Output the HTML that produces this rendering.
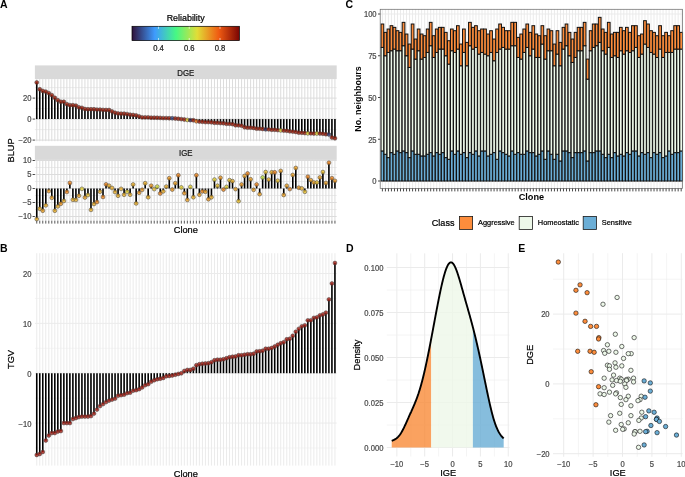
<!DOCTYPE html>
<html><head><meta charset="utf-8"><title>Figure</title>
<style>html,body{margin:0;padding:0;background:#fff;width:685px;height:477px;overflow:hidden}svg{display:block;font-family:"Liberation Sans",sans-serif;will-change:transform}</style>
</head><body>
<svg width="685" height="477" viewBox="0 0 685 477" font-family='"Liberation Sans", sans-serif'><defs><linearGradient id="cb" x1="0" x2="1" y1="0" y2="0"><stop offset="0" stop-color="#30123b"/><stop offset="0.212" stop-color="#3e9bfe"/><stop offset="0.41" stop-color="#46f884"/><stop offset="0.607" stop-color="#e1dd37"/><stop offset="0.807" stop-color="#f05b12"/><stop offset="1.0" stop-color="#7a0403"/></linearGradient></defs>
<rect x="132" y="26.3" width="107.4" height="14.3" fill="url(#cb)" stroke="#000" stroke-width="0.7"/>
<line x1="158.47" x2="158.47" y1="26.7" y2="28.9" stroke="#fff" stroke-width="0.6"/>
<line x1="158.47" x2="158.47" y1="38" y2="40.2" stroke="#fff" stroke-width="0.6"/>
<text font-size="7.62" text-anchor="middle" fill="#1a1a1a" stroke="#1a1a1a" stroke-width="0.22" transform="translate(158.47 50.85) scale(1 1.07)">0.4</text>
<line x1="189.24" x2="189.24" y1="26.7" y2="28.9" stroke="#fff" stroke-width="0.6"/>
<line x1="189.24" x2="189.24" y1="38" y2="40.2" stroke="#fff" stroke-width="0.6"/>
<text font-size="7.62" text-anchor="middle" fill="#1a1a1a" stroke="#1a1a1a" stroke-width="0.22" transform="translate(189.24 50.85) scale(1 1.07)">0.6</text>
<line x1="220.01" x2="220.01" y1="26.7" y2="28.9" stroke="#fff" stroke-width="0.6"/>
<line x1="220.01" x2="220.01" y1="38" y2="40.2" stroke="#fff" stroke-width="0.6"/>
<text font-size="7.62" text-anchor="middle" fill="#1a1a1a" stroke="#1a1a1a" stroke-width="0.22" transform="translate(220.01 50.85) scale(1 1.07)">0.8</text>
<text font-size="8.91" text-anchor="middle" fill="#000" stroke="#000" stroke-width="0.22" transform="translate(185.7 21.15) scale(1 1.07)">Reliability</text>
<rect x="34.9" y="65.4" width="301.8" height="13.7" fill="#d9d9d9"/>
<text font-size="7.83" text-anchor="middle" fill="#1a1a1a" stroke="#1a1a1a" stroke-width="0.22" transform="translate(185.8 75.8) scale(1 1.07)">DGE</text>
<rect x="34.9" y="145.8" width="301.8" height="14.1" fill="#d9d9d9"/>
<text font-size="7.83" text-anchor="middle" fill="#1a1a1a" stroke="#1a1a1a" stroke-width="0.22" transform="translate(185.8 156.4) scale(1 1.07)">IGE</text>
<line x1="34.9" x2="336.7" y1="87.6" y2="87.6" stroke="#dcdcdc" stroke-width="0.55"/>
<line x1="34.9" x2="336.7" y1="108.6" y2="108.6" stroke="#dcdcdc" stroke-width="0.55"/>
<line x1="34.9" x2="336.7" y1="129.6" y2="129.6" stroke="#dcdcdc" stroke-width="0.55"/>
<line x1="34.9" x2="336.7" y1="98.1" y2="98.1" stroke="#dcdcdc" stroke-width="1"/>
<line x1="34.9" x2="336.7" y1="119.1" y2="119.1" stroke="#dcdcdc" stroke-width="1"/>
<line x1="34.9" x2="336.7" y1="140.1" y2="140.1" stroke="#dcdcdc" stroke-width="1"/>
<line x1="36.75" x2="36.75" y1="79.1" y2="141.2" stroke="#dcdcdc" stroke-width="1"/>
<line x1="39.76" x2="39.76" y1="79.1" y2="141.2" stroke="#dcdcdc" stroke-width="1"/>
<line x1="42.77" x2="42.77" y1="79.1" y2="141.2" stroke="#dcdcdc" stroke-width="1"/>
<line x1="45.79" x2="45.79" y1="79.1" y2="141.2" stroke="#dcdcdc" stroke-width="1"/>
<line x1="48.8" x2="48.8" y1="79.1" y2="141.2" stroke="#dcdcdc" stroke-width="1"/>
<line x1="51.81" x2="51.81" y1="79.1" y2="141.2" stroke="#dcdcdc" stroke-width="1"/>
<line x1="54.82" x2="54.82" y1="79.1" y2="141.2" stroke="#dcdcdc" stroke-width="1"/>
<line x1="57.83" x2="57.83" y1="79.1" y2="141.2" stroke="#dcdcdc" stroke-width="1"/>
<line x1="60.85" x2="60.85" y1="79.1" y2="141.2" stroke="#dcdcdc" stroke-width="1"/>
<line x1="63.86" x2="63.86" y1="79.1" y2="141.2" stroke="#dcdcdc" stroke-width="1"/>
<line x1="66.87" x2="66.87" y1="79.1" y2="141.2" stroke="#dcdcdc" stroke-width="1"/>
<line x1="69.88" x2="69.88" y1="79.1" y2="141.2" stroke="#dcdcdc" stroke-width="1"/>
<line x1="72.89" x2="72.89" y1="79.1" y2="141.2" stroke="#dcdcdc" stroke-width="1"/>
<line x1="75.91" x2="75.91" y1="79.1" y2="141.2" stroke="#dcdcdc" stroke-width="1"/>
<line x1="78.92" x2="78.92" y1="79.1" y2="141.2" stroke="#dcdcdc" stroke-width="1"/>
<line x1="81.93" x2="81.93" y1="79.1" y2="141.2" stroke="#dcdcdc" stroke-width="1"/>
<line x1="84.94" x2="84.94" y1="79.1" y2="141.2" stroke="#dcdcdc" stroke-width="1"/>
<line x1="87.95" x2="87.95" y1="79.1" y2="141.2" stroke="#dcdcdc" stroke-width="1"/>
<line x1="90.97" x2="90.97" y1="79.1" y2="141.2" stroke="#dcdcdc" stroke-width="1"/>
<line x1="93.98" x2="93.98" y1="79.1" y2="141.2" stroke="#dcdcdc" stroke-width="1"/>
<line x1="96.99" x2="96.99" y1="79.1" y2="141.2" stroke="#dcdcdc" stroke-width="1"/>
<line x1="100" x2="100" y1="79.1" y2="141.2" stroke="#dcdcdc" stroke-width="1"/>
<line x1="103.01" x2="103.01" y1="79.1" y2="141.2" stroke="#dcdcdc" stroke-width="1"/>
<line x1="106.03" x2="106.03" y1="79.1" y2="141.2" stroke="#dcdcdc" stroke-width="1"/>
<line x1="109.04" x2="109.04" y1="79.1" y2="141.2" stroke="#dcdcdc" stroke-width="1"/>
<line x1="112.05" x2="112.05" y1="79.1" y2="141.2" stroke="#dcdcdc" stroke-width="1"/>
<line x1="115.06" x2="115.06" y1="79.1" y2="141.2" stroke="#dcdcdc" stroke-width="1"/>
<line x1="118.07" x2="118.07" y1="79.1" y2="141.2" stroke="#dcdcdc" stroke-width="1"/>
<line x1="121.09" x2="121.09" y1="79.1" y2="141.2" stroke="#dcdcdc" stroke-width="1"/>
<line x1="124.1" x2="124.1" y1="79.1" y2="141.2" stroke="#dcdcdc" stroke-width="1"/>
<line x1="127.11" x2="127.11" y1="79.1" y2="141.2" stroke="#dcdcdc" stroke-width="1"/>
<line x1="130.12" x2="130.12" y1="79.1" y2="141.2" stroke="#dcdcdc" stroke-width="1"/>
<line x1="133.13" x2="133.13" y1="79.1" y2="141.2" stroke="#dcdcdc" stroke-width="1"/>
<line x1="136.15" x2="136.15" y1="79.1" y2="141.2" stroke="#dcdcdc" stroke-width="1"/>
<line x1="139.16" x2="139.16" y1="79.1" y2="141.2" stroke="#dcdcdc" stroke-width="1"/>
<line x1="142.17" x2="142.17" y1="79.1" y2="141.2" stroke="#dcdcdc" stroke-width="1"/>
<line x1="145.18" x2="145.18" y1="79.1" y2="141.2" stroke="#dcdcdc" stroke-width="1"/>
<line x1="148.19" x2="148.19" y1="79.1" y2="141.2" stroke="#dcdcdc" stroke-width="1"/>
<line x1="151.21" x2="151.21" y1="79.1" y2="141.2" stroke="#dcdcdc" stroke-width="1"/>
<line x1="154.22" x2="154.22" y1="79.1" y2="141.2" stroke="#dcdcdc" stroke-width="1"/>
<line x1="157.23" x2="157.23" y1="79.1" y2="141.2" stroke="#dcdcdc" stroke-width="1"/>
<line x1="160.24" x2="160.24" y1="79.1" y2="141.2" stroke="#dcdcdc" stroke-width="1"/>
<line x1="163.25" x2="163.25" y1="79.1" y2="141.2" stroke="#dcdcdc" stroke-width="1"/>
<line x1="166.27" x2="166.27" y1="79.1" y2="141.2" stroke="#dcdcdc" stroke-width="1"/>
<line x1="169.28" x2="169.28" y1="79.1" y2="141.2" stroke="#dcdcdc" stroke-width="1"/>
<line x1="172.29" x2="172.29" y1="79.1" y2="141.2" stroke="#dcdcdc" stroke-width="1"/>
<line x1="175.3" x2="175.3" y1="79.1" y2="141.2" stroke="#dcdcdc" stroke-width="1"/>
<line x1="178.31" x2="178.31" y1="79.1" y2="141.2" stroke="#dcdcdc" stroke-width="1"/>
<line x1="181.33" x2="181.33" y1="79.1" y2="141.2" stroke="#dcdcdc" stroke-width="1"/>
<line x1="184.34" x2="184.34" y1="79.1" y2="141.2" stroke="#dcdcdc" stroke-width="1"/>
<line x1="187.35" x2="187.35" y1="79.1" y2="141.2" stroke="#dcdcdc" stroke-width="1"/>
<line x1="190.36" x2="190.36" y1="79.1" y2="141.2" stroke="#dcdcdc" stroke-width="1"/>
<line x1="193.37" x2="193.37" y1="79.1" y2="141.2" stroke="#dcdcdc" stroke-width="1"/>
<line x1="196.39" x2="196.39" y1="79.1" y2="141.2" stroke="#dcdcdc" stroke-width="1"/>
<line x1="199.4" x2="199.4" y1="79.1" y2="141.2" stroke="#dcdcdc" stroke-width="1"/>
<line x1="202.41" x2="202.41" y1="79.1" y2="141.2" stroke="#dcdcdc" stroke-width="1"/>
<line x1="205.42" x2="205.42" y1="79.1" y2="141.2" stroke="#dcdcdc" stroke-width="1"/>
<line x1="208.43" x2="208.43" y1="79.1" y2="141.2" stroke="#dcdcdc" stroke-width="1"/>
<line x1="211.45" x2="211.45" y1="79.1" y2="141.2" stroke="#dcdcdc" stroke-width="1"/>
<line x1="214.46" x2="214.46" y1="79.1" y2="141.2" stroke="#dcdcdc" stroke-width="1"/>
<line x1="217.47" x2="217.47" y1="79.1" y2="141.2" stroke="#dcdcdc" stroke-width="1"/>
<line x1="220.48" x2="220.48" y1="79.1" y2="141.2" stroke="#dcdcdc" stroke-width="1"/>
<line x1="223.49" x2="223.49" y1="79.1" y2="141.2" stroke="#dcdcdc" stroke-width="1"/>
<line x1="226.51" x2="226.51" y1="79.1" y2="141.2" stroke="#dcdcdc" stroke-width="1"/>
<line x1="229.52" x2="229.52" y1="79.1" y2="141.2" stroke="#dcdcdc" stroke-width="1"/>
<line x1="232.53" x2="232.53" y1="79.1" y2="141.2" stroke="#dcdcdc" stroke-width="1"/>
<line x1="235.54" x2="235.54" y1="79.1" y2="141.2" stroke="#dcdcdc" stroke-width="1"/>
<line x1="238.55" x2="238.55" y1="79.1" y2="141.2" stroke="#dcdcdc" stroke-width="1"/>
<line x1="241.57" x2="241.57" y1="79.1" y2="141.2" stroke="#dcdcdc" stroke-width="1"/>
<line x1="244.58" x2="244.58" y1="79.1" y2="141.2" stroke="#dcdcdc" stroke-width="1"/>
<line x1="247.59" x2="247.59" y1="79.1" y2="141.2" stroke="#dcdcdc" stroke-width="1"/>
<line x1="250.6" x2="250.6" y1="79.1" y2="141.2" stroke="#dcdcdc" stroke-width="1"/>
<line x1="253.61" x2="253.61" y1="79.1" y2="141.2" stroke="#dcdcdc" stroke-width="1"/>
<line x1="256.63" x2="256.63" y1="79.1" y2="141.2" stroke="#dcdcdc" stroke-width="1"/>
<line x1="259.64" x2="259.64" y1="79.1" y2="141.2" stroke="#dcdcdc" stroke-width="1"/>
<line x1="262.65" x2="262.65" y1="79.1" y2="141.2" stroke="#dcdcdc" stroke-width="1"/>
<line x1="265.66" x2="265.66" y1="79.1" y2="141.2" stroke="#dcdcdc" stroke-width="1"/>
<line x1="268.67" x2="268.67" y1="79.1" y2="141.2" stroke="#dcdcdc" stroke-width="1"/>
<line x1="271.69" x2="271.69" y1="79.1" y2="141.2" stroke="#dcdcdc" stroke-width="1"/>
<line x1="274.7" x2="274.7" y1="79.1" y2="141.2" stroke="#dcdcdc" stroke-width="1"/>
<line x1="277.71" x2="277.71" y1="79.1" y2="141.2" stroke="#dcdcdc" stroke-width="1"/>
<line x1="280.72" x2="280.72" y1="79.1" y2="141.2" stroke="#dcdcdc" stroke-width="1"/>
<line x1="283.73" x2="283.73" y1="79.1" y2="141.2" stroke="#dcdcdc" stroke-width="1"/>
<line x1="286.75" x2="286.75" y1="79.1" y2="141.2" stroke="#dcdcdc" stroke-width="1"/>
<line x1="289.76" x2="289.76" y1="79.1" y2="141.2" stroke="#dcdcdc" stroke-width="1"/>
<line x1="292.77" x2="292.77" y1="79.1" y2="141.2" stroke="#dcdcdc" stroke-width="1"/>
<line x1="295.78" x2="295.78" y1="79.1" y2="141.2" stroke="#dcdcdc" stroke-width="1"/>
<line x1="298.79" x2="298.79" y1="79.1" y2="141.2" stroke="#dcdcdc" stroke-width="1"/>
<line x1="301.81" x2="301.81" y1="79.1" y2="141.2" stroke="#dcdcdc" stroke-width="1"/>
<line x1="304.82" x2="304.82" y1="79.1" y2="141.2" stroke="#dcdcdc" stroke-width="1"/>
<line x1="307.83" x2="307.83" y1="79.1" y2="141.2" stroke="#dcdcdc" stroke-width="1"/>
<line x1="310.84" x2="310.84" y1="79.1" y2="141.2" stroke="#dcdcdc" stroke-width="1"/>
<line x1="313.85" x2="313.85" y1="79.1" y2="141.2" stroke="#dcdcdc" stroke-width="1"/>
<line x1="316.87" x2="316.87" y1="79.1" y2="141.2" stroke="#dcdcdc" stroke-width="1"/>
<line x1="319.88" x2="319.88" y1="79.1" y2="141.2" stroke="#dcdcdc" stroke-width="1"/>
<line x1="322.89" x2="322.89" y1="79.1" y2="141.2" stroke="#dcdcdc" stroke-width="1"/>
<line x1="325.9" x2="325.9" y1="79.1" y2="141.2" stroke="#dcdcdc" stroke-width="1"/>
<line x1="328.91" x2="328.91" y1="79.1" y2="141.2" stroke="#dcdcdc" stroke-width="1"/>
<line x1="331.93" x2="331.93" y1="79.1" y2="141.2" stroke="#dcdcdc" stroke-width="1"/>
<line x1="334.94" x2="334.94" y1="79.1" y2="141.2" stroke="#dcdcdc" stroke-width="1"/>
<line x1="32.6" x2="34.9" y1="98.1" y2="98.1" stroke="#333" stroke-width="0.9"/>
<text font-size="7.62" text-anchor="end" fill="#4d4d4d" stroke="#4d4d4d" stroke-width="0.22" transform="translate(31.4 100.95) scale(1 1.07)">20</text>
<line x1="32.6" x2="34.9" y1="119.1" y2="119.1" stroke="#333" stroke-width="0.9"/>
<text font-size="7.62" text-anchor="end" fill="#4d4d4d" stroke="#4d4d4d" stroke-width="0.22" transform="translate(31.4 121.95) scale(1 1.07)">0</text>
<line x1="32.6" x2="34.9" y1="140.1" y2="140.1" stroke="#333" stroke-width="0.9"/>
<text font-size="7.62" text-anchor="end" fill="#4d4d4d" stroke="#4d4d4d" stroke-width="0.22" transform="translate(31.4 142.95) scale(1 1.07)">−20</text>
<line x1="34.9" x2="336.7" y1="167.5" y2="167.5" stroke="#dcdcdc" stroke-width="0.55"/>
<line x1="34.9" x2="336.7" y1="181.5" y2="181.5" stroke="#dcdcdc" stroke-width="0.55"/>
<line x1="34.9" x2="336.7" y1="195.5" y2="195.5" stroke="#dcdcdc" stroke-width="0.55"/>
<line x1="34.9" x2="336.7" y1="209.5" y2="209.5" stroke="#dcdcdc" stroke-width="0.55"/>
<line x1="34.9" x2="336.7" y1="160.5" y2="160.5" stroke="#dcdcdc" stroke-width="1"/>
<line x1="34.9" x2="336.7" y1="174.5" y2="174.5" stroke="#dcdcdc" stroke-width="1"/>
<line x1="34.9" x2="336.7" y1="188.5" y2="188.5" stroke="#dcdcdc" stroke-width="1"/>
<line x1="34.9" x2="336.7" y1="202.5" y2="202.5" stroke="#dcdcdc" stroke-width="1"/>
<line x1="34.9" x2="336.7" y1="216.5" y2="216.5" stroke="#dcdcdc" stroke-width="1"/>
<line x1="36.75" x2="36.75" y1="159.9" y2="220.6" stroke="#dcdcdc" stroke-width="1"/>
<line x1="39.76" x2="39.76" y1="159.9" y2="220.6" stroke="#dcdcdc" stroke-width="1"/>
<line x1="42.77" x2="42.77" y1="159.9" y2="220.6" stroke="#dcdcdc" stroke-width="1"/>
<line x1="45.79" x2="45.79" y1="159.9" y2="220.6" stroke="#dcdcdc" stroke-width="1"/>
<line x1="48.8" x2="48.8" y1="159.9" y2="220.6" stroke="#dcdcdc" stroke-width="1"/>
<line x1="51.81" x2="51.81" y1="159.9" y2="220.6" stroke="#dcdcdc" stroke-width="1"/>
<line x1="54.82" x2="54.82" y1="159.9" y2="220.6" stroke="#dcdcdc" stroke-width="1"/>
<line x1="57.83" x2="57.83" y1="159.9" y2="220.6" stroke="#dcdcdc" stroke-width="1"/>
<line x1="60.85" x2="60.85" y1="159.9" y2="220.6" stroke="#dcdcdc" stroke-width="1"/>
<line x1="63.86" x2="63.86" y1="159.9" y2="220.6" stroke="#dcdcdc" stroke-width="1"/>
<line x1="66.87" x2="66.87" y1="159.9" y2="220.6" stroke="#dcdcdc" stroke-width="1"/>
<line x1="69.88" x2="69.88" y1="159.9" y2="220.6" stroke="#dcdcdc" stroke-width="1"/>
<line x1="72.89" x2="72.89" y1="159.9" y2="220.6" stroke="#dcdcdc" stroke-width="1"/>
<line x1="75.91" x2="75.91" y1="159.9" y2="220.6" stroke="#dcdcdc" stroke-width="1"/>
<line x1="78.92" x2="78.92" y1="159.9" y2="220.6" stroke="#dcdcdc" stroke-width="1"/>
<line x1="81.93" x2="81.93" y1="159.9" y2="220.6" stroke="#dcdcdc" stroke-width="1"/>
<line x1="84.94" x2="84.94" y1="159.9" y2="220.6" stroke="#dcdcdc" stroke-width="1"/>
<line x1="87.95" x2="87.95" y1="159.9" y2="220.6" stroke="#dcdcdc" stroke-width="1"/>
<line x1="90.97" x2="90.97" y1="159.9" y2="220.6" stroke="#dcdcdc" stroke-width="1"/>
<line x1="93.98" x2="93.98" y1="159.9" y2="220.6" stroke="#dcdcdc" stroke-width="1"/>
<line x1="96.99" x2="96.99" y1="159.9" y2="220.6" stroke="#dcdcdc" stroke-width="1"/>
<line x1="100" x2="100" y1="159.9" y2="220.6" stroke="#dcdcdc" stroke-width="1"/>
<line x1="103.01" x2="103.01" y1="159.9" y2="220.6" stroke="#dcdcdc" stroke-width="1"/>
<line x1="106.03" x2="106.03" y1="159.9" y2="220.6" stroke="#dcdcdc" stroke-width="1"/>
<line x1="109.04" x2="109.04" y1="159.9" y2="220.6" stroke="#dcdcdc" stroke-width="1"/>
<line x1="112.05" x2="112.05" y1="159.9" y2="220.6" stroke="#dcdcdc" stroke-width="1"/>
<line x1="115.06" x2="115.06" y1="159.9" y2="220.6" stroke="#dcdcdc" stroke-width="1"/>
<line x1="118.07" x2="118.07" y1="159.9" y2="220.6" stroke="#dcdcdc" stroke-width="1"/>
<line x1="121.09" x2="121.09" y1="159.9" y2="220.6" stroke="#dcdcdc" stroke-width="1"/>
<line x1="124.1" x2="124.1" y1="159.9" y2="220.6" stroke="#dcdcdc" stroke-width="1"/>
<line x1="127.11" x2="127.11" y1="159.9" y2="220.6" stroke="#dcdcdc" stroke-width="1"/>
<line x1="130.12" x2="130.12" y1="159.9" y2="220.6" stroke="#dcdcdc" stroke-width="1"/>
<line x1="133.13" x2="133.13" y1="159.9" y2="220.6" stroke="#dcdcdc" stroke-width="1"/>
<line x1="136.15" x2="136.15" y1="159.9" y2="220.6" stroke="#dcdcdc" stroke-width="1"/>
<line x1="139.16" x2="139.16" y1="159.9" y2="220.6" stroke="#dcdcdc" stroke-width="1"/>
<line x1="142.17" x2="142.17" y1="159.9" y2="220.6" stroke="#dcdcdc" stroke-width="1"/>
<line x1="145.18" x2="145.18" y1="159.9" y2="220.6" stroke="#dcdcdc" stroke-width="1"/>
<line x1="148.19" x2="148.19" y1="159.9" y2="220.6" stroke="#dcdcdc" stroke-width="1"/>
<line x1="151.21" x2="151.21" y1="159.9" y2="220.6" stroke="#dcdcdc" stroke-width="1"/>
<line x1="154.22" x2="154.22" y1="159.9" y2="220.6" stroke="#dcdcdc" stroke-width="1"/>
<line x1="157.23" x2="157.23" y1="159.9" y2="220.6" stroke="#dcdcdc" stroke-width="1"/>
<line x1="160.24" x2="160.24" y1="159.9" y2="220.6" stroke="#dcdcdc" stroke-width="1"/>
<line x1="163.25" x2="163.25" y1="159.9" y2="220.6" stroke="#dcdcdc" stroke-width="1"/>
<line x1="166.27" x2="166.27" y1="159.9" y2="220.6" stroke="#dcdcdc" stroke-width="1"/>
<line x1="169.28" x2="169.28" y1="159.9" y2="220.6" stroke="#dcdcdc" stroke-width="1"/>
<line x1="172.29" x2="172.29" y1="159.9" y2="220.6" stroke="#dcdcdc" stroke-width="1"/>
<line x1="175.3" x2="175.3" y1="159.9" y2="220.6" stroke="#dcdcdc" stroke-width="1"/>
<line x1="178.31" x2="178.31" y1="159.9" y2="220.6" stroke="#dcdcdc" stroke-width="1"/>
<line x1="181.33" x2="181.33" y1="159.9" y2="220.6" stroke="#dcdcdc" stroke-width="1"/>
<line x1="184.34" x2="184.34" y1="159.9" y2="220.6" stroke="#dcdcdc" stroke-width="1"/>
<line x1="187.35" x2="187.35" y1="159.9" y2="220.6" stroke="#dcdcdc" stroke-width="1"/>
<line x1="190.36" x2="190.36" y1="159.9" y2="220.6" stroke="#dcdcdc" stroke-width="1"/>
<line x1="193.37" x2="193.37" y1="159.9" y2="220.6" stroke="#dcdcdc" stroke-width="1"/>
<line x1="196.39" x2="196.39" y1="159.9" y2="220.6" stroke="#dcdcdc" stroke-width="1"/>
<line x1="199.4" x2="199.4" y1="159.9" y2="220.6" stroke="#dcdcdc" stroke-width="1"/>
<line x1="202.41" x2="202.41" y1="159.9" y2="220.6" stroke="#dcdcdc" stroke-width="1"/>
<line x1="205.42" x2="205.42" y1="159.9" y2="220.6" stroke="#dcdcdc" stroke-width="1"/>
<line x1="208.43" x2="208.43" y1="159.9" y2="220.6" stroke="#dcdcdc" stroke-width="1"/>
<line x1="211.45" x2="211.45" y1="159.9" y2="220.6" stroke="#dcdcdc" stroke-width="1"/>
<line x1="214.46" x2="214.46" y1="159.9" y2="220.6" stroke="#dcdcdc" stroke-width="1"/>
<line x1="217.47" x2="217.47" y1="159.9" y2="220.6" stroke="#dcdcdc" stroke-width="1"/>
<line x1="220.48" x2="220.48" y1="159.9" y2="220.6" stroke="#dcdcdc" stroke-width="1"/>
<line x1="223.49" x2="223.49" y1="159.9" y2="220.6" stroke="#dcdcdc" stroke-width="1"/>
<line x1="226.51" x2="226.51" y1="159.9" y2="220.6" stroke="#dcdcdc" stroke-width="1"/>
<line x1="229.52" x2="229.52" y1="159.9" y2="220.6" stroke="#dcdcdc" stroke-width="1"/>
<line x1="232.53" x2="232.53" y1="159.9" y2="220.6" stroke="#dcdcdc" stroke-width="1"/>
<line x1="235.54" x2="235.54" y1="159.9" y2="220.6" stroke="#dcdcdc" stroke-width="1"/>
<line x1="238.55" x2="238.55" y1="159.9" y2="220.6" stroke="#dcdcdc" stroke-width="1"/>
<line x1="241.57" x2="241.57" y1="159.9" y2="220.6" stroke="#dcdcdc" stroke-width="1"/>
<line x1="244.58" x2="244.58" y1="159.9" y2="220.6" stroke="#dcdcdc" stroke-width="1"/>
<line x1="247.59" x2="247.59" y1="159.9" y2="220.6" stroke="#dcdcdc" stroke-width="1"/>
<line x1="250.6" x2="250.6" y1="159.9" y2="220.6" stroke="#dcdcdc" stroke-width="1"/>
<line x1="253.61" x2="253.61" y1="159.9" y2="220.6" stroke="#dcdcdc" stroke-width="1"/>
<line x1="256.63" x2="256.63" y1="159.9" y2="220.6" stroke="#dcdcdc" stroke-width="1"/>
<line x1="259.64" x2="259.64" y1="159.9" y2="220.6" stroke="#dcdcdc" stroke-width="1"/>
<line x1="262.65" x2="262.65" y1="159.9" y2="220.6" stroke="#dcdcdc" stroke-width="1"/>
<line x1="265.66" x2="265.66" y1="159.9" y2="220.6" stroke="#dcdcdc" stroke-width="1"/>
<line x1="268.67" x2="268.67" y1="159.9" y2="220.6" stroke="#dcdcdc" stroke-width="1"/>
<line x1="271.69" x2="271.69" y1="159.9" y2="220.6" stroke="#dcdcdc" stroke-width="1"/>
<line x1="274.7" x2="274.7" y1="159.9" y2="220.6" stroke="#dcdcdc" stroke-width="1"/>
<line x1="277.71" x2="277.71" y1="159.9" y2="220.6" stroke="#dcdcdc" stroke-width="1"/>
<line x1="280.72" x2="280.72" y1="159.9" y2="220.6" stroke="#dcdcdc" stroke-width="1"/>
<line x1="283.73" x2="283.73" y1="159.9" y2="220.6" stroke="#dcdcdc" stroke-width="1"/>
<line x1="286.75" x2="286.75" y1="159.9" y2="220.6" stroke="#dcdcdc" stroke-width="1"/>
<line x1="289.76" x2="289.76" y1="159.9" y2="220.6" stroke="#dcdcdc" stroke-width="1"/>
<line x1="292.77" x2="292.77" y1="159.9" y2="220.6" stroke="#dcdcdc" stroke-width="1"/>
<line x1="295.78" x2="295.78" y1="159.9" y2="220.6" stroke="#dcdcdc" stroke-width="1"/>
<line x1="298.79" x2="298.79" y1="159.9" y2="220.6" stroke="#dcdcdc" stroke-width="1"/>
<line x1="301.81" x2="301.81" y1="159.9" y2="220.6" stroke="#dcdcdc" stroke-width="1"/>
<line x1="304.82" x2="304.82" y1="159.9" y2="220.6" stroke="#dcdcdc" stroke-width="1"/>
<line x1="307.83" x2="307.83" y1="159.9" y2="220.6" stroke="#dcdcdc" stroke-width="1"/>
<line x1="310.84" x2="310.84" y1="159.9" y2="220.6" stroke="#dcdcdc" stroke-width="1"/>
<line x1="313.85" x2="313.85" y1="159.9" y2="220.6" stroke="#dcdcdc" stroke-width="1"/>
<line x1="316.87" x2="316.87" y1="159.9" y2="220.6" stroke="#dcdcdc" stroke-width="1"/>
<line x1="319.88" x2="319.88" y1="159.9" y2="220.6" stroke="#dcdcdc" stroke-width="1"/>
<line x1="322.89" x2="322.89" y1="159.9" y2="220.6" stroke="#dcdcdc" stroke-width="1"/>
<line x1="325.9" x2="325.9" y1="159.9" y2="220.6" stroke="#dcdcdc" stroke-width="1"/>
<line x1="328.91" x2="328.91" y1="159.9" y2="220.6" stroke="#dcdcdc" stroke-width="1"/>
<line x1="331.93" x2="331.93" y1="159.9" y2="220.6" stroke="#dcdcdc" stroke-width="1"/>
<line x1="334.94" x2="334.94" y1="159.9" y2="220.6" stroke="#dcdcdc" stroke-width="1"/>
<line x1="32.6" x2="34.9" y1="160.5" y2="160.5" stroke="#333" stroke-width="0.9"/>
<text font-size="7.62" text-anchor="end" fill="#4d4d4d" stroke="#4d4d4d" stroke-width="0.22" transform="translate(31.4 163.35) scale(1 1.07)">10</text>
<line x1="32.6" x2="34.9" y1="174.5" y2="174.5" stroke="#333" stroke-width="0.9"/>
<text font-size="7.62" text-anchor="end" fill="#4d4d4d" stroke="#4d4d4d" stroke-width="0.22" transform="translate(31.4 177.35) scale(1 1.07)">5</text>
<line x1="32.6" x2="34.9" y1="188.5" y2="188.5" stroke="#333" stroke-width="0.9"/>
<text font-size="7.62" text-anchor="end" fill="#4d4d4d" stroke="#4d4d4d" stroke-width="0.22" transform="translate(31.4 191.35) scale(1 1.07)">0</text>
<line x1="32.6" x2="34.9" y1="202.5" y2="202.5" stroke="#333" stroke-width="0.9"/>
<text font-size="7.62" text-anchor="end" fill="#4d4d4d" stroke="#4d4d4d" stroke-width="0.22" transform="translate(31.4 205.35) scale(1 1.07)">−5</text>
<line x1="32.6" x2="34.9" y1="216.5" y2="216.5" stroke="#333" stroke-width="0.9"/>
<text font-size="7.62" text-anchor="end" fill="#4d4d4d" stroke="#4d4d4d" stroke-width="0.22" transform="translate(31.4 219.35) scale(1 1.07)">−10</text>
<line x1="36.75" x2="36.75" y1="119.1" y2="82.43" stroke="#000" stroke-width="1.6"/>
<line x1="39.76" x2="39.76" y1="119.1" y2="89.3" stroke="#000" stroke-width="1.6"/>
<line x1="42.77" x2="42.77" y1="119.1" y2="90.94" stroke="#000" stroke-width="1.6"/>
<line x1="45.79" x2="45.79" y1="119.1" y2="91.65" stroke="#000" stroke-width="1.6"/>
<line x1="48.8" x2="48.8" y1="119.1" y2="93.09" stroke="#000" stroke-width="1.6"/>
<line x1="51.81" x2="51.81" y1="119.1" y2="95.14" stroke="#000" stroke-width="1.6"/>
<line x1="54.82" x2="54.82" y1="119.1" y2="97.81" stroke="#000" stroke-width="1.6"/>
<line x1="57.83" x2="57.83" y1="119.1" y2="100.26" stroke="#000" stroke-width="1.6"/>
<line x1="60.85" x2="60.85" y1="119.1" y2="101.8" stroke="#000" stroke-width="1.6"/>
<line x1="63.86" x2="63.86" y1="119.1" y2="101.8" stroke="#000" stroke-width="1.6"/>
<line x1="66.87" x2="66.87" y1="119.1" y2="104.16" stroke="#000" stroke-width="1.6"/>
<line x1="69.88" x2="69.88" y1="119.1" y2="105.18" stroke="#000" stroke-width="1.6"/>
<line x1="72.89" x2="72.89" y1="119.1" y2="105.18" stroke="#000" stroke-width="1.6"/>
<line x1="75.91" x2="75.91" y1="119.1" y2="105.59" stroke="#000" stroke-width="1.6"/>
<line x1="78.92" x2="78.92" y1="119.1" y2="107.33" stroke="#000" stroke-width="1.6"/>
<line x1="81.93" x2="81.93" y1="119.1" y2="107.84" stroke="#000" stroke-width="1.6"/>
<line x1="84.94" x2="84.94" y1="119.1" y2="109.07" stroke="#000" stroke-width="1.6"/>
<line x1="87.95" x2="87.95" y1="119.1" y2="109.28" stroke="#000" stroke-width="1.6"/>
<line x1="90.97" x2="90.97" y1="119.1" y2="109.28" stroke="#000" stroke-width="1.6"/>
<line x1="93.98" x2="93.98" y1="119.1" y2="109.28" stroke="#000" stroke-width="1.6"/>
<line x1="96.99" x2="96.99" y1="119.1" y2="109.59" stroke="#000" stroke-width="1.6"/>
<line x1="100" x2="100" y1="119.1" y2="109.59" stroke="#000" stroke-width="1.6"/>
<line x1="103.01" x2="103.01" y1="119.1" y2="109.89" stroke="#000" stroke-width="1.6"/>
<line x1="106.03" x2="106.03" y1="119.1" y2="110" stroke="#000" stroke-width="1.6"/>
<line x1="109.04" x2="109.04" y1="119.1" y2="110" stroke="#000" stroke-width="1.6"/>
<line x1="112.05" x2="112.05" y1="119.1" y2="111.43" stroke="#000" stroke-width="1.6"/>
<line x1="115.06" x2="115.06" y1="119.1" y2="112.77" stroke="#000" stroke-width="1.6"/>
<line x1="118.07" x2="118.07" y1="119.1" y2="113.48" stroke="#000" stroke-width="1.6"/>
<line x1="121.09" x2="121.09" y1="119.1" y2="113.68" stroke="#000" stroke-width="1.6"/>
<line x1="124.1" x2="124.1" y1="119.1" y2="113.68" stroke="#000" stroke-width="1.6"/>
<line x1="127.11" x2="127.11" y1="119.1" y2="114.09" stroke="#000" stroke-width="1.6"/>
<line x1="130.12" x2="130.12" y1="119.1" y2="114.71" stroke="#000" stroke-width="1.6"/>
<line x1="133.13" x2="133.13" y1="119.1" y2="115.02" stroke="#000" stroke-width="1.6"/>
<line x1="136.15" x2="136.15" y1="119.1" y2="115.42" stroke="#000" stroke-width="1.6"/>
<line x1="139.16" x2="139.16" y1="119.1" y2="116.45" stroke="#000" stroke-width="1.6"/>
<line x1="142.17" x2="142.17" y1="119.1" y2="117.38" stroke="#000" stroke-width="1.6"/>
<line x1="145.18" x2="145.18" y1="119.1" y2="117.38" stroke="#000" stroke-width="1.6"/>
<line x1="148.19" x2="148.19" y1="119.1" y2="117.38" stroke="#000" stroke-width="1.6"/>
<line x1="151.21" x2="151.21" y1="119.1" y2="117.68" stroke="#000" stroke-width="1.6"/>
<line x1="154.22" x2="154.22" y1="119.1" y2="117.68" stroke="#000" stroke-width="1.6"/>
<line x1="157.23" x2="157.23" y1="119.1" y2="117.79" stroke="#000" stroke-width="1.6"/>
<line x1="160.24" x2="160.24" y1="119.1" y2="117.89" stroke="#000" stroke-width="1.6"/>
<line x1="163.25" x2="163.25" y1="119.1" y2="118.09" stroke="#000" stroke-width="1.6"/>
<line x1="166.27" x2="166.27" y1="119.1" y2="118.09" stroke="#000" stroke-width="1.6"/>
<line x1="169.28" x2="169.28" y1="119.1" y2="118.2" stroke="#000" stroke-width="1.6"/>
<line x1="172.29" x2="172.29" y1="119.1" y2="118.3" stroke="#000" stroke-width="1.6"/>
<line x1="175.3" x2="175.3" y1="119.1" y2="118.5" stroke="#000" stroke-width="1.6"/>
<line x1="178.31" x2="178.31" y1="119.1" y2="118.81" stroke="#000" stroke-width="1.6"/>
<line x1="181.33" x2="181.33" y1="119.1" y2="119.12" stroke="#000" stroke-width="1.6"/>
<line x1="184.34" x2="184.34" y1="119.1" y2="119.53" stroke="#000" stroke-width="1.6"/>
<line x1="187.35" x2="187.35" y1="119.1" y2="119.94" stroke="#000" stroke-width="1.6"/>
<line x1="190.36" x2="190.36" y1="119.1" y2="120.14" stroke="#000" stroke-width="1.6"/>
<line x1="193.37" x2="193.37" y1="119.1" y2="120.24" stroke="#000" stroke-width="1.6"/>
<line x1="196.39" x2="196.39" y1="119.1" y2="121.27" stroke="#000" stroke-width="1.6"/>
<line x1="199.4" x2="199.4" y1="119.1" y2="121.58" stroke="#000" stroke-width="1.6"/>
<line x1="202.41" x2="202.41" y1="119.1" y2="121.78" stroke="#000" stroke-width="1.6"/>
<line x1="205.42" x2="205.42" y1="119.1" y2="122.09" stroke="#000" stroke-width="1.6"/>
<line x1="208.43" x2="208.43" y1="119.1" y2="122.09" stroke="#000" stroke-width="1.6"/>
<line x1="211.45" x2="211.45" y1="119.1" y2="122.29" stroke="#000" stroke-width="1.6"/>
<line x1="214.46" x2="214.46" y1="119.1" y2="122.81" stroke="#000" stroke-width="1.6"/>
<line x1="217.47" x2="217.47" y1="119.1" y2="122.81" stroke="#000" stroke-width="1.6"/>
<line x1="220.48" x2="220.48" y1="119.1" y2="123.11" stroke="#000" stroke-width="1.6"/>
<line x1="223.49" x2="223.49" y1="119.1" y2="123.22" stroke="#000" stroke-width="1.6"/>
<line x1="226.51" x2="226.51" y1="119.1" y2="123.84" stroke="#000" stroke-width="1.6"/>
<line x1="229.52" x2="229.52" y1="119.1" y2="123.84" stroke="#000" stroke-width="1.6"/>
<line x1="232.53" x2="232.53" y1="119.1" y2="124.14" stroke="#000" stroke-width="1.6"/>
<line x1="235.54" x2="235.54" y1="119.1" y2="125.26" stroke="#000" stroke-width="1.6"/>
<line x1="238.55" x2="238.55" y1="119.1" y2="125.37" stroke="#000" stroke-width="1.6"/>
<line x1="241.57" x2="241.57" y1="119.1" y2="125.67" stroke="#000" stroke-width="1.6"/>
<line x1="244.58" x2="244.58" y1="119.1" y2="127.22" stroke="#000" stroke-width="1.6"/>
<line x1="247.59" x2="247.59" y1="119.1" y2="127.63" stroke="#000" stroke-width="1.6"/>
<line x1="250.6" x2="250.6" y1="119.1" y2="127.63" stroke="#000" stroke-width="1.6"/>
<line x1="253.61" x2="253.61" y1="119.1" y2="127.93" stroke="#000" stroke-width="1.6"/>
<line x1="256.63" x2="256.63" y1="119.1" y2="128.64" stroke="#000" stroke-width="1.6"/>
<line x1="259.64" x2="259.64" y1="119.1" y2="128.64" stroke="#000" stroke-width="1.6"/>
<line x1="262.65" x2="262.65" y1="119.1" y2="128.96" stroke="#000" stroke-width="1.6"/>
<line x1="265.66" x2="265.66" y1="119.1" y2="129.37" stroke="#000" stroke-width="1.6"/>
<line x1="268.67" x2="268.67" y1="119.1" y2="129.37" stroke="#000" stroke-width="1.6"/>
<line x1="271.69" x2="271.69" y1="119.1" y2="129.78" stroke="#000" stroke-width="1.6"/>
<line x1="274.7" x2="274.7" y1="119.1" y2="129.78" stroke="#000" stroke-width="1.6"/>
<line x1="277.71" x2="277.71" y1="119.1" y2="130.08" stroke="#000" stroke-width="1.6"/>
<line x1="280.72" x2="280.72" y1="119.1" y2="130.39" stroke="#000" stroke-width="1.6"/>
<line x1="283.73" x2="283.73" y1="119.1" y2="130.6" stroke="#000" stroke-width="1.6"/>
<line x1="286.75" x2="286.75" y1="119.1" y2="130.8" stroke="#000" stroke-width="1.6"/>
<line x1="289.76" x2="289.76" y1="119.1" y2="131.31" stroke="#000" stroke-width="1.6"/>
<line x1="292.77" x2="292.77" y1="119.1" y2="131.62" stroke="#000" stroke-width="1.6"/>
<line x1="295.78" x2="295.78" y1="119.1" y2="131.93" stroke="#000" stroke-width="1.6"/>
<line x1="298.79" x2="298.79" y1="119.1" y2="132.64" stroke="#000" stroke-width="1.6"/>
<line x1="301.81" x2="301.81" y1="119.1" y2="132.75" stroke="#000" stroke-width="1.6"/>
<line x1="304.82" x2="304.82" y1="119.1" y2="133.05" stroke="#000" stroke-width="1.6"/>
<line x1="307.83" x2="307.83" y1="119.1" y2="133.36" stroke="#000" stroke-width="1.6"/>
<line x1="310.84" x2="310.84" y1="119.1" y2="133.36" stroke="#000" stroke-width="1.6"/>
<line x1="313.85" x2="313.85" y1="119.1" y2="133.46" stroke="#000" stroke-width="1.6"/>
<line x1="316.87" x2="316.87" y1="119.1" y2="133.46" stroke="#000" stroke-width="1.6"/>
<line x1="319.88" x2="319.88" y1="119.1" y2="133.46" stroke="#000" stroke-width="1.6"/>
<line x1="322.89" x2="322.89" y1="119.1" y2="133.77" stroke="#000" stroke-width="1.6"/>
<line x1="325.9" x2="325.9" y1="119.1" y2="134.18" stroke="#000" stroke-width="1.6"/>
<line x1="328.91" x2="328.91" y1="119.1" y2="134.49" stroke="#000" stroke-width="1.6"/>
<line x1="331.93" x2="331.93" y1="119.1" y2="137.46" stroke="#000" stroke-width="1.6"/>
<line x1="334.94" x2="334.94" y1="119.1" y2="138.18" stroke="#000" stroke-width="1.6"/>
<circle cx="36.75" cy="82.43" r="1.95" fill="#981a07" fill-opacity="0.8" stroke="#404040" stroke-width="0.5"/>
<circle cx="39.76" cy="89.3" r="1.95" fill="#981a07" fill-opacity="0.8" stroke="#404040" stroke-width="0.5"/>
<circle cx="42.77" cy="90.94" r="1.95" fill="#981a07" fill-opacity="0.8" stroke="#404040" stroke-width="0.5"/>
<circle cx="45.79" cy="91.65" r="1.95" fill="#981a07" fill-opacity="0.8" stroke="#404040" stroke-width="0.5"/>
<circle cx="48.8" cy="93.09" r="1.95" fill="#981a07" fill-opacity="0.8" stroke="#404040" stroke-width="0.5"/>
<circle cx="51.81" cy="95.14" r="1.95" fill="#981a07" fill-opacity="0.8" stroke="#404040" stroke-width="0.5"/>
<circle cx="54.82" cy="97.81" r="1.95" fill="#981a07" fill-opacity="0.8" stroke="#404040" stroke-width="0.5"/>
<circle cx="57.83" cy="100.26" r="1.95" fill="#981a07" fill-opacity="0.8" stroke="#404040" stroke-width="0.5"/>
<circle cx="60.85" cy="101.8" r="1.95" fill="#981a07" fill-opacity="0.8" stroke="#404040" stroke-width="0.5"/>
<circle cx="63.86" cy="101.8" r="1.95" fill="#981a07" fill-opacity="0.8" stroke="#404040" stroke-width="0.5"/>
<circle cx="66.87" cy="104.16" r="1.95" fill="#981a07" fill-opacity="0.8" stroke="#404040" stroke-width="0.5"/>
<circle cx="69.88" cy="105.18" r="1.95" fill="#981a07" fill-opacity="0.8" stroke="#404040" stroke-width="0.5"/>
<circle cx="72.89" cy="105.18" r="1.95" fill="#981a07" fill-opacity="0.8" stroke="#404040" stroke-width="0.5"/>
<circle cx="75.91" cy="105.59" r="1.95" fill="#981a07" fill-opacity="0.8" stroke="#404040" stroke-width="0.5"/>
<circle cx="78.92" cy="107.33" r="1.95" fill="#981a07" fill-opacity="0.8" stroke="#404040" stroke-width="0.5"/>
<circle cx="81.93" cy="107.84" r="1.95" fill="#981a07" fill-opacity="0.8" stroke="#404040" stroke-width="0.5"/>
<circle cx="84.94" cy="109.07" r="1.95" fill="#981a07" fill-opacity="0.8" stroke="#404040" stroke-width="0.5"/>
<circle cx="87.95" cy="109.28" r="1.95" fill="#981a07" fill-opacity="0.8" stroke="#404040" stroke-width="0.5"/>
<circle cx="90.97" cy="109.28" r="1.95" fill="#981a07" fill-opacity="0.8" stroke="#404040" stroke-width="0.5"/>
<circle cx="93.98" cy="109.28" r="1.95" fill="#981a07" fill-opacity="0.8" stroke="#404040" stroke-width="0.5"/>
<circle cx="96.99" cy="109.59" r="1.95" fill="#981a07" fill-opacity="0.8" stroke="#404040" stroke-width="0.5"/>
<circle cx="100" cy="109.59" r="1.95" fill="#981a07" fill-opacity="0.8" stroke="#404040" stroke-width="0.5"/>
<circle cx="103.01" cy="109.89" r="1.95" fill="#981a07" fill-opacity="0.8" stroke="#404040" stroke-width="0.5"/>
<circle cx="106.03" cy="110" r="1.95" fill="#981a07" fill-opacity="0.8" stroke="#404040" stroke-width="0.5"/>
<circle cx="109.04" cy="110" r="1.95" fill="#981a07" fill-opacity="0.8" stroke="#404040" stroke-width="0.5"/>
<circle cx="112.05" cy="111.43" r="1.95" fill="#981a07" fill-opacity="0.8" stroke="#404040" stroke-width="0.5"/>
<circle cx="115.06" cy="112.77" r="1.95" fill="#981a07" fill-opacity="0.8" stroke="#404040" stroke-width="0.5"/>
<circle cx="118.07" cy="113.48" r="1.95" fill="#981a07" fill-opacity="0.8" stroke="#404040" stroke-width="0.5"/>
<circle cx="121.09" cy="113.68" r="1.95" fill="#981a07" fill-opacity="0.8" stroke="#404040" stroke-width="0.5"/>
<circle cx="124.1" cy="113.68" r="1.95" fill="#981a07" fill-opacity="0.8" stroke="#404040" stroke-width="0.5"/>
<circle cx="127.11" cy="114.09" r="1.95" fill="#981a07" fill-opacity="0.8" stroke="#404040" stroke-width="0.5"/>
<circle cx="130.12" cy="114.71" r="1.95" fill="#981a07" fill-opacity="0.8" stroke="#404040" stroke-width="0.5"/>
<circle cx="133.13" cy="115.02" r="1.95" fill="#981a07" fill-opacity="0.8" stroke="#404040" stroke-width="0.5"/>
<circle cx="136.15" cy="115.42" r="1.95" fill="#981a07" fill-opacity="0.8" stroke="#404040" stroke-width="0.5"/>
<circle cx="139.16" cy="116.45" r="1.95" fill="#981a07" fill-opacity="0.8" stroke="#404040" stroke-width="0.5"/>
<circle cx="142.17" cy="117.38" r="1.95" fill="#981a07" fill-opacity="0.8" stroke="#404040" stroke-width="0.5"/>
<circle cx="145.18" cy="117.38" r="1.95" fill="#981a07" fill-opacity="0.8" stroke="#404040" stroke-width="0.5"/>
<circle cx="148.19" cy="117.38" r="1.95" fill="#981a07" fill-opacity="0.8" stroke="#404040" stroke-width="0.5"/>
<circle cx="151.21" cy="117.68" r="1.95" fill="#981a07" fill-opacity="0.8" stroke="#404040" stroke-width="0.5"/>
<circle cx="154.22" cy="117.68" r="1.95" fill="#981a07" fill-opacity="0.8" stroke="#404040" stroke-width="0.5"/>
<circle cx="157.23" cy="117.79" r="1.95" fill="#981a07" fill-opacity="0.8" stroke="#404040" stroke-width="0.5"/>
<circle cx="160.24" cy="117.89" r="1.95" fill="#981a07" fill-opacity="0.8" stroke="#404040" stroke-width="0.5"/>
<circle cx="163.25" cy="118.09" r="1.95" fill="#981a07" fill-opacity="0.8" stroke="#404040" stroke-width="0.5"/>
<circle cx="166.27" cy="118.09" r="1.95" fill="#981a07" fill-opacity="0.8" stroke="#404040" stroke-width="0.5"/>
<circle cx="169.28" cy="118.2" r="1.95" fill="#981a07" fill-opacity="0.8" stroke="#404040" stroke-width="0.5"/>
<circle cx="172.29" cy="118.3" r="1.95" fill="#35427f" fill-opacity="0.8" stroke="#404040" stroke-width="0.5"/>
<circle cx="175.3" cy="118.5" r="1.95" fill="#981a07" fill-opacity="0.8" stroke="#404040" stroke-width="0.5"/>
<circle cx="178.31" cy="118.81" r="1.95" fill="#981a07" fill-opacity="0.8" stroke="#404040" stroke-width="0.5"/>
<circle cx="181.33" cy="119.12" r="1.95" fill="#981a07" fill-opacity="0.8" stroke="#404040" stroke-width="0.5"/>
<circle cx="184.34" cy="119.53" r="1.95" fill="#981a07" fill-opacity="0.8" stroke="#404040" stroke-width="0.5"/>
<circle cx="187.35" cy="119.94" r="1.95" fill="#e3ca31" fill-opacity="0.8" stroke="#404040" stroke-width="0.5"/>
<circle cx="190.36" cy="120.14" r="1.95" fill="#31204e" fill-opacity="0.8" stroke="#404040" stroke-width="0.5"/>
<circle cx="193.37" cy="120.24" r="1.95" fill="#981a07" fill-opacity="0.8" stroke="#404040" stroke-width="0.5"/>
<circle cx="196.39" cy="121.27" r="1.95" fill="#ed7519" fill-opacity="0.8" stroke="#404040" stroke-width="0.5"/>
<circle cx="199.4" cy="121.58" r="1.95" fill="#981a07" fill-opacity="0.8" stroke="#404040" stroke-width="0.5"/>
<circle cx="202.41" cy="121.78" r="1.95" fill="#981a07" fill-opacity="0.8" stroke="#404040" stroke-width="0.5"/>
<circle cx="205.42" cy="122.09" r="1.95" fill="#981a07" fill-opacity="0.8" stroke="#404040" stroke-width="0.5"/>
<circle cx="208.43" cy="122.09" r="1.95" fill="#981a07" fill-opacity="0.8" stroke="#404040" stroke-width="0.5"/>
<circle cx="211.45" cy="122.29" r="1.95" fill="#981a07" fill-opacity="0.8" stroke="#404040" stroke-width="0.5"/>
<circle cx="214.46" cy="122.81" r="1.95" fill="#981a07" fill-opacity="0.8" stroke="#404040" stroke-width="0.5"/>
<circle cx="217.47" cy="122.81" r="1.95" fill="#981a07" fill-opacity="0.8" stroke="#404040" stroke-width="0.5"/>
<circle cx="220.48" cy="123.11" r="1.95" fill="#981a07" fill-opacity="0.8" stroke="#404040" stroke-width="0.5"/>
<circle cx="223.49" cy="123.22" r="1.95" fill="#981a07" fill-opacity="0.8" stroke="#404040" stroke-width="0.5"/>
<circle cx="226.51" cy="123.84" r="1.95" fill="#981a07" fill-opacity="0.8" stroke="#404040" stroke-width="0.5"/>
<circle cx="229.52" cy="123.84" r="1.95" fill="#981a07" fill-opacity="0.8" stroke="#404040" stroke-width="0.5"/>
<circle cx="232.53" cy="124.14" r="1.95" fill="#981a07" fill-opacity="0.8" stroke="#404040" stroke-width="0.5"/>
<circle cx="235.54" cy="125.26" r="1.95" fill="#981a07" fill-opacity="0.8" stroke="#404040" stroke-width="0.5"/>
<circle cx="238.55" cy="125.37" r="1.95" fill="#981a07" fill-opacity="0.8" stroke="#404040" stroke-width="0.5"/>
<circle cx="241.57" cy="125.67" r="1.95" fill="#981a07" fill-opacity="0.8" stroke="#404040" stroke-width="0.5"/>
<circle cx="244.58" cy="127.22" r="1.95" fill="#981a07" fill-opacity="0.8" stroke="#404040" stroke-width="0.5"/>
<circle cx="247.59" cy="127.63" r="1.95" fill="#981a07" fill-opacity="0.8" stroke="#404040" stroke-width="0.5"/>
<circle cx="250.6" cy="127.63" r="1.95" fill="#981a07" fill-opacity="0.8" stroke="#404040" stroke-width="0.5"/>
<circle cx="253.61" cy="127.93" r="1.95" fill="#981a07" fill-opacity="0.8" stroke="#404040" stroke-width="0.5"/>
<circle cx="256.63" cy="128.64" r="1.95" fill="#981a07" fill-opacity="0.8" stroke="#404040" stroke-width="0.5"/>
<circle cx="259.64" cy="128.64" r="1.95" fill="#981a07" fill-opacity="0.8" stroke="#404040" stroke-width="0.5"/>
<circle cx="262.65" cy="128.96" r="1.95" fill="#981a07" fill-opacity="0.8" stroke="#404040" stroke-width="0.5"/>
<circle cx="265.66" cy="129.37" r="1.95" fill="#322758" fill-opacity="0.8" stroke="#404040" stroke-width="0.5"/>
<circle cx="268.67" cy="129.37" r="1.95" fill="#981a07" fill-opacity="0.8" stroke="#404040" stroke-width="0.5"/>
<circle cx="271.69" cy="129.78" r="1.95" fill="#981a07" fill-opacity="0.8" stroke="#404040" stroke-width="0.5"/>
<circle cx="274.7" cy="129.78" r="1.95" fill="#981a07" fill-opacity="0.8" stroke="#404040" stroke-width="0.5"/>
<circle cx="277.71" cy="130.08" r="1.95" fill="#981a07" fill-opacity="0.8" stroke="#404040" stroke-width="0.5"/>
<circle cx="280.72" cy="130.39" r="1.95" fill="#e2d033" fill-opacity="0.8" stroke="#404040" stroke-width="0.5"/>
<circle cx="283.73" cy="130.6" r="1.95" fill="#981a07" fill-opacity="0.8" stroke="#404040" stroke-width="0.5"/>
<circle cx="286.75" cy="130.8" r="1.95" fill="#981a07" fill-opacity="0.8" stroke="#404040" stroke-width="0.5"/>
<circle cx="289.76" cy="131.31" r="1.95" fill="#981a07" fill-opacity="0.8" stroke="#404040" stroke-width="0.5"/>
<circle cx="292.77" cy="131.62" r="1.95" fill="#981a07" fill-opacity="0.8" stroke="#404040" stroke-width="0.5"/>
<circle cx="295.78" cy="131.93" r="1.95" fill="#981a07" fill-opacity="0.8" stroke="#404040" stroke-width="0.5"/>
<circle cx="298.79" cy="132.64" r="1.95" fill="#981a07" fill-opacity="0.8" stroke="#404040" stroke-width="0.5"/>
<circle cx="301.81" cy="132.75" r="1.95" fill="#981a07" fill-opacity="0.8" stroke="#404040" stroke-width="0.5"/>
<circle cx="304.82" cy="133.05" r="1.95" fill="#981a07" fill-opacity="0.8" stroke="#404040" stroke-width="0.5"/>
<circle cx="307.83" cy="133.36" r="1.95" fill="#e2d033" fill-opacity="0.8" stroke="#404040" stroke-width="0.5"/>
<circle cx="310.84" cy="133.36" r="1.95" fill="#981a07" fill-opacity="0.8" stroke="#404040" stroke-width="0.5"/>
<circle cx="313.85" cy="133.46" r="1.95" fill="#981a07" fill-opacity="0.8" stroke="#404040" stroke-width="0.5"/>
<circle cx="316.87" cy="133.46" r="1.95" fill="#e2d033" fill-opacity="0.8" stroke="#404040" stroke-width="0.5"/>
<circle cx="319.88" cy="133.46" r="1.95" fill="#981a07" fill-opacity="0.8" stroke="#404040" stroke-width="0.5"/>
<circle cx="322.89" cy="133.77" r="1.95" fill="#981a07" fill-opacity="0.8" stroke="#404040" stroke-width="0.5"/>
<circle cx="325.9" cy="134.18" r="1.95" fill="#981a07" fill-opacity="0.8" stroke="#404040" stroke-width="0.5"/>
<circle cx="328.91" cy="134.49" r="1.95" fill="#34346c" fill-opacity="0.8" stroke="#404040" stroke-width="0.5"/>
<circle cx="331.93" cy="137.46" r="1.95" fill="#981a07" fill-opacity="0.8" stroke="#404040" stroke-width="0.5"/>
<circle cx="334.94" cy="138.18" r="1.95" fill="#981a07" fill-opacity="0.8" stroke="#404040" stroke-width="0.5"/>
<line x1="36.75" x2="36.75" y1="188.5" y2="219.08" stroke="#000" stroke-width="1.6"/>
<line x1="39.76" x2="39.76" y1="188.5" y2="208.72" stroke="#000" stroke-width="1.6"/>
<line x1="42.77" x2="42.77" y1="188.5" y2="210.68" stroke="#000" stroke-width="1.6"/>
<line x1="45.79" x2="45.79" y1="188.5" y2="205.36" stroke="#000" stroke-width="1.6"/>
<line x1="48.8" x2="48.8" y1="188.5" y2="191.08" stroke="#000" stroke-width="1.6"/>
<line x1="51.81" x2="51.81" y1="188.5" y2="197.8" stroke="#000" stroke-width="1.6"/>
<line x1="54.82" x2="54.82" y1="188.5" y2="210.68" stroke="#000" stroke-width="1.6"/>
<line x1="57.83" x2="57.83" y1="188.5" y2="206.34" stroke="#000" stroke-width="1.6"/>
<line x1="60.85" x2="60.85" y1="188.5" y2="203.68" stroke="#000" stroke-width="1.6"/>
<line x1="63.86" x2="63.86" y1="188.5" y2="200.88" stroke="#000" stroke-width="1.6"/>
<line x1="66.87" x2="66.87" y1="188.5" y2="191.92" stroke="#000" stroke-width="1.6"/>
<line x1="69.88" x2="69.88" y1="188.5" y2="182.96" stroke="#000" stroke-width="1.6"/>
<line x1="72.89" x2="72.89" y1="188.5" y2="199.76" stroke="#000" stroke-width="1.6"/>
<line x1="75.91" x2="75.91" y1="188.5" y2="199.9" stroke="#000" stroke-width="1.6"/>
<line x1="78.92" x2="78.92" y1="188.5" y2="195.7" stroke="#000" stroke-width="1.6"/>
<line x1="81.93" x2="81.93" y1="188.5" y2="188.84" stroke="#000" stroke-width="1.6"/>
<line x1="84.94" x2="84.94" y1="188.5" y2="197.52" stroke="#000" stroke-width="1.6"/>
<line x1="87.95" x2="87.95" y1="188.5" y2="195" stroke="#000" stroke-width="1.6"/>
<line x1="90.97" x2="90.97" y1="188.5" y2="209.84" stroke="#000" stroke-width="1.6"/>
<line x1="93.98" x2="93.98" y1="188.5" y2="203.96" stroke="#000" stroke-width="1.6"/>
<line x1="96.99" x2="96.99" y1="188.5" y2="202" stroke="#000" stroke-width="1.6"/>
<line x1="100" x2="100" y1="188.5" y2="191.64" stroke="#000" stroke-width="1.6"/>
<line x1="103.01" x2="103.01" y1="188.5" y2="196.96" stroke="#000" stroke-width="1.6"/>
<line x1="106.03" x2="106.03" y1="188.5" y2="184.36" stroke="#000" stroke-width="1.6"/>
<line x1="109.04" x2="109.04" y1="188.5" y2="185.76" stroke="#000" stroke-width="1.6"/>
<line x1="112.05" x2="112.05" y1="188.5" y2="188" stroke="#000" stroke-width="1.6"/>
<line x1="115.06" x2="115.06" y1="188.5" y2="192.06" stroke="#000" stroke-width="1.6"/>
<line x1="118.07" x2="118.07" y1="188.5" y2="195.7" stroke="#000" stroke-width="1.6"/>
<line x1="121.09" x2="121.09" y1="188.5" y2="188.84" stroke="#000" stroke-width="1.6"/>
<line x1="124.1" x2="124.1" y1="188.5" y2="194.72" stroke="#000" stroke-width="1.6"/>
<line x1="127.11" x2="127.11" y1="188.5" y2="191.64" stroke="#000" stroke-width="1.6"/>
<line x1="130.12" x2="130.12" y1="188.5" y2="194.72" stroke="#000" stroke-width="1.6"/>
<line x1="133.13" x2="133.13" y1="188.5" y2="184.5" stroke="#000" stroke-width="1.6"/>
<line x1="136.15" x2="136.15" y1="188.5" y2="203.4" stroke="#000" stroke-width="1.6"/>
<line x1="139.16" x2="139.16" y1="188.5" y2="192.76" stroke="#000" stroke-width="1.6"/>
<line x1="142.17" x2="142.17" y1="188.5" y2="189.82" stroke="#000" stroke-width="1.6"/>
<line x1="145.18" x2="145.18" y1="188.5" y2="183.24" stroke="#000" stroke-width="1.6"/>
<line x1="148.19" x2="148.19" y1="188.5" y2="197.24" stroke="#000" stroke-width="1.6"/>
<line x1="151.21" x2="151.21" y1="188.5" y2="185.76" stroke="#000" stroke-width="1.6"/>
<line x1="154.22" x2="154.22" y1="188.5" y2="189.12" stroke="#000" stroke-width="1.6"/>
<line x1="157.23" x2="157.23" y1="188.5" y2="186.6" stroke="#000" stroke-width="1.6"/>
<line x1="160.24" x2="160.24" y1="188.5" y2="193.46" stroke="#000" stroke-width="1.6"/>
<line x1="163.25" x2="163.25" y1="188.5" y2="191.36" stroke="#000" stroke-width="1.6"/>
<line x1="166.27" x2="166.27" y1="188.5" y2="186.6" stroke="#000" stroke-width="1.6"/>
<line x1="169.28" x2="169.28" y1="188.5" y2="178.2" stroke="#000" stroke-width="1.6"/>
<line x1="172.29" x2="172.29" y1="188.5" y2="189.54" stroke="#000" stroke-width="1.6"/>
<line x1="175.3" x2="175.3" y1="188.5" y2="183.24" stroke="#000" stroke-width="1.6"/>
<line x1="178.31" x2="178.31" y1="188.5" y2="175.26" stroke="#000" stroke-width="1.6"/>
<line x1="181.33" x2="181.33" y1="188.5" y2="187.44" stroke="#000" stroke-width="1.6"/>
<line x1="184.34" x2="184.34" y1="188.5" y2="193.18" stroke="#000" stroke-width="1.6"/>
<line x1="187.35" x2="187.35" y1="188.5" y2="199.9" stroke="#000" stroke-width="1.6"/>
<line x1="190.36" x2="190.36" y1="188.5" y2="186.88" stroke="#000" stroke-width="1.6"/>
<line x1="193.37" x2="193.37" y1="188.5" y2="197.24" stroke="#000" stroke-width="1.6"/>
<line x1="196.39" x2="196.39" y1="188.5" y2="175.26" stroke="#000" stroke-width="1.6"/>
<line x1="199.4" x2="199.4" y1="188.5" y2="194.72" stroke="#000" stroke-width="1.6"/>
<line x1="202.41" x2="202.41" y1="188.5" y2="191.36" stroke="#000" stroke-width="1.6"/>
<line x1="205.42" x2="205.42" y1="188.5" y2="191.78" stroke="#000" stroke-width="1.6"/>
<line x1="208.43" x2="208.43" y1="188.5" y2="199.2" stroke="#000" stroke-width="1.6"/>
<line x1="211.45" x2="211.45" y1="188.5" y2="197.24" stroke="#000" stroke-width="1.6"/>
<line x1="214.46" x2="214.46" y1="188.5" y2="179.6" stroke="#000" stroke-width="1.6"/>
<line x1="217.47" x2="217.47" y1="188.5" y2="185.76" stroke="#000" stroke-width="1.6"/>
<line x1="220.48" x2="220.48" y1="188.5" y2="177.78" stroke="#000" stroke-width="1.6"/>
<line x1="223.49" x2="223.49" y1="188.5" y2="189.54" stroke="#000" stroke-width="1.6"/>
<line x1="226.51" x2="226.51" y1="188.5" y2="186.88" stroke="#000" stroke-width="1.6"/>
<line x1="229.52" x2="229.52" y1="188.5" y2="180.16" stroke="#000" stroke-width="1.6"/>
<line x1="232.53" x2="232.53" y1="188.5" y2="181.14" stroke="#000" stroke-width="1.6"/>
<line x1="235.54" x2="235.54" y1="188.5" y2="189.12" stroke="#000" stroke-width="1.6"/>
<line x1="238.55" x2="238.55" y1="188.5" y2="201.16" stroke="#000" stroke-width="1.6"/>
<line x1="241.57" x2="241.57" y1="188.5" y2="184.5" stroke="#000" stroke-width="1.6"/>
<line x1="244.58" x2="244.58" y1="188.5" y2="175.96" stroke="#000" stroke-width="1.6"/>
<line x1="247.59" x2="247.59" y1="188.5" y2="173.44" stroke="#000" stroke-width="1.6"/>
<line x1="250.6" x2="250.6" y1="188.5" y2="179.32" stroke="#000" stroke-width="1.6"/>
<line x1="253.61" x2="253.61" y1="188.5" y2="189.82" stroke="#000" stroke-width="1.6"/>
<line x1="256.63" x2="256.63" y1="188.5" y2="184.5" stroke="#000" stroke-width="1.6"/>
<line x1="259.64" x2="259.64" y1="188.5" y2="194.16" stroke="#000" stroke-width="1.6"/>
<line x1="262.65" x2="262.65" y1="188.5" y2="177.5" stroke="#000" stroke-width="1.6"/>
<line x1="265.66" x2="265.66" y1="188.5" y2="172.04" stroke="#000" stroke-width="1.6"/>
<line x1="268.67" x2="268.67" y1="188.5" y2="179.6" stroke="#000" stroke-width="1.6"/>
<line x1="271.69" x2="271.69" y1="188.5" y2="172.32" stroke="#000" stroke-width="1.6"/>
<line x1="274.7" x2="274.7" y1="188.5" y2="172.32" stroke="#000" stroke-width="1.6"/>
<line x1="277.71" x2="277.71" y1="188.5" y2="180.72" stroke="#000" stroke-width="1.6"/>
<line x1="280.72" x2="280.72" y1="188.5" y2="170.92" stroke="#000" stroke-width="1.6"/>
<line x1="283.73" x2="283.73" y1="188.5" y2="195" stroke="#000" stroke-width="1.6"/>
<line x1="286.75" x2="286.75" y1="188.5" y2="185.76" stroke="#000" stroke-width="1.6"/>
<line x1="289.76" x2="289.76" y1="188.5" y2="189.12" stroke="#000" stroke-width="1.6"/>
<line x1="292.77" x2="292.77" y1="188.5" y2="174.98" stroke="#000" stroke-width="1.6"/>
<line x1="295.78" x2="295.78" y1="188.5" y2="167.98" stroke="#000" stroke-width="1.6"/>
<line x1="298.79" x2="298.79" y1="188.5" y2="187.72" stroke="#000" stroke-width="1.6"/>
<line x1="301.81" x2="301.81" y1="188.5" y2="188.42" stroke="#000" stroke-width="1.6"/>
<line x1="304.82" x2="304.82" y1="188.5" y2="191.78" stroke="#000" stroke-width="1.6"/>
<line x1="307.83" x2="307.83" y1="188.5" y2="176.8" stroke="#000" stroke-width="1.6"/>
<line x1="310.84" x2="310.84" y1="188.5" y2="180.16" stroke="#000" stroke-width="1.6"/>
<line x1="313.85" x2="313.85" y1="188.5" y2="182.54" stroke="#000" stroke-width="1.6"/>
<line x1="316.87" x2="316.87" y1="188.5" y2="182.54" stroke="#000" stroke-width="1.6"/>
<line x1="319.88" x2="319.88" y1="188.5" y2="177.5" stroke="#000" stroke-width="1.6"/>
<line x1="322.89" x2="322.89" y1="188.5" y2="172.04" stroke="#000" stroke-width="1.6"/>
<line x1="325.9" x2="325.9" y1="188.5" y2="182.96" stroke="#000" stroke-width="1.6"/>
<line x1="328.91" x2="328.91" y1="188.5" y2="162.8" stroke="#000" stroke-width="1.6"/>
<line x1="331.93" x2="331.93" y1="188.5" y2="178.2" stroke="#000" stroke-width="1.6"/>
<line x1="334.94" x2="334.94" y1="188.5" y2="180.86" stroke="#000" stroke-width="1.6"/>
<circle cx="36.75" cy="219.08" r="1.95" fill="#e7ac29" fill-opacity="0.8" stroke="#404040" stroke-width="0.5"/>
<circle cx="39.76" cy="208.72" r="1.95" fill="#e7ac29" fill-opacity="0.8" stroke="#404040" stroke-width="0.5"/>
<circle cx="42.77" cy="210.68" r="1.95" fill="#e89f25" fill-opacity="0.8" stroke="#404040" stroke-width="0.5"/>
<circle cx="45.79" cy="205.36" r="1.95" fill="#e7ac29" fill-opacity="0.8" stroke="#404040" stroke-width="0.5"/>
<circle cx="48.8" cy="191.08" r="1.95" fill="#e99623" fill-opacity="0.8" stroke="#404040" stroke-width="0.5"/>
<circle cx="51.81" cy="197.8" r="1.95" fill="#e89f25" fill-opacity="0.8" stroke="#404040" stroke-width="0.5"/>
<circle cx="54.82" cy="210.68" r="1.95" fill="#e7ac29" fill-opacity="0.8" stroke="#404040" stroke-width="0.5"/>
<circle cx="57.83" cy="206.34" r="1.95" fill="#e7ac29" fill-opacity="0.8" stroke="#404040" stroke-width="0.5"/>
<circle cx="60.85" cy="203.68" r="1.95" fill="#e99623" fill-opacity="0.8" stroke="#404040" stroke-width="0.5"/>
<circle cx="63.86" cy="200.88" r="1.95" fill="#e7ac29" fill-opacity="0.8" stroke="#404040" stroke-width="0.5"/>
<circle cx="66.87" cy="191.92" r="1.95" fill="#eb851e" fill-opacity="0.8" stroke="#404040" stroke-width="0.5"/>
<circle cx="69.88" cy="182.96" r="1.95" fill="#eb851e" fill-opacity="0.8" stroke="#404040" stroke-width="0.5"/>
<circle cx="72.89" cy="199.76" r="1.95" fill="#e7ac29" fill-opacity="0.8" stroke="#404040" stroke-width="0.5"/>
<circle cx="75.91" cy="199.9" r="1.95" fill="#e7ac29" fill-opacity="0.8" stroke="#404040" stroke-width="0.5"/>
<circle cx="78.92" cy="195.7" r="1.95" fill="#e89f25" fill-opacity="0.8" stroke="#404040" stroke-width="0.5"/>
<circle cx="81.93" cy="188.84" r="1.95" fill="#e2d033" fill-opacity="0.8" stroke="#404040" stroke-width="0.5"/>
<circle cx="84.94" cy="197.52" r="1.95" fill="#e89f25" fill-opacity="0.8" stroke="#404040" stroke-width="0.5"/>
<circle cx="87.95" cy="195" r="1.95" fill="#e5bc2e" fill-opacity="0.8" stroke="#404040" stroke-width="0.5"/>
<circle cx="90.97" cy="209.84" r="1.95" fill="#e7ac29" fill-opacity="0.8" stroke="#404040" stroke-width="0.5"/>
<circle cx="93.98" cy="203.96" r="1.95" fill="#e7ac29" fill-opacity="0.8" stroke="#404040" stroke-width="0.5"/>
<circle cx="96.99" cy="202" r="1.95" fill="#eb851e" fill-opacity="0.8" stroke="#404040" stroke-width="0.5"/>
<circle cx="100" cy="191.64" r="1.95" fill="#e7ac29" fill-opacity="0.8" stroke="#404040" stroke-width="0.5"/>
<circle cx="103.01" cy="196.96" r="1.95" fill="#eb851e" fill-opacity="0.8" stroke="#404040" stroke-width="0.5"/>
<circle cx="106.03" cy="184.36" r="1.95" fill="#eb851e" fill-opacity="0.8" stroke="#404040" stroke-width="0.5"/>
<circle cx="109.04" cy="185.76" r="1.95" fill="#e7ac29" fill-opacity="0.8" stroke="#404040" stroke-width="0.5"/>
<circle cx="112.05" cy="188" r="1.95" fill="#e7ac29" fill-opacity="0.8" stroke="#404040" stroke-width="0.5"/>
<circle cx="115.06" cy="192.06" r="1.95" fill="#e7ac29" fill-opacity="0.8" stroke="#404040" stroke-width="0.5"/>
<circle cx="118.07" cy="195.7" r="1.95" fill="#e7ac29" fill-opacity="0.8" stroke="#404040" stroke-width="0.5"/>
<circle cx="121.09" cy="188.84" r="1.95" fill="#e7ac29" fill-opacity="0.8" stroke="#404040" stroke-width="0.5"/>
<circle cx="124.1" cy="194.72" r="1.95" fill="#e7ac29" fill-opacity="0.8" stroke="#404040" stroke-width="0.5"/>
<circle cx="127.11" cy="191.64" r="1.95" fill="#e2d033" fill-opacity="0.8" stroke="#404040" stroke-width="0.5"/>
<circle cx="130.12" cy="194.72" r="1.95" fill="#e7ac29" fill-opacity="0.8" stroke="#404040" stroke-width="0.5"/>
<circle cx="133.13" cy="184.5" r="1.95" fill="#e7ac29" fill-opacity="0.8" stroke="#404040" stroke-width="0.5"/>
<circle cx="136.15" cy="203.4" r="1.95" fill="#e7ac29" fill-opacity="0.8" stroke="#404040" stroke-width="0.5"/>
<circle cx="139.16" cy="192.76" r="1.95" fill="#e99623" fill-opacity="0.8" stroke="#404040" stroke-width="0.5"/>
<circle cx="142.17" cy="189.82" r="1.95" fill="#e99623" fill-opacity="0.8" stroke="#404040" stroke-width="0.5"/>
<circle cx="145.18" cy="183.24" r="1.95" fill="#e7ac29" fill-opacity="0.8" stroke="#404040" stroke-width="0.5"/>
<circle cx="148.19" cy="197.24" r="1.95" fill="#e7ac29" fill-opacity="0.8" stroke="#404040" stroke-width="0.5"/>
<circle cx="151.21" cy="185.76" r="1.95" fill="#e99623" fill-opacity="0.8" stroke="#404040" stroke-width="0.5"/>
<circle cx="154.22" cy="189.12" r="1.95" fill="#e5bc2e" fill-opacity="0.8" stroke="#404040" stroke-width="0.5"/>
<circle cx="157.23" cy="186.6" r="1.95" fill="#d5df3d" fill-opacity="0.8" stroke="#404040" stroke-width="0.5"/>
<circle cx="160.24" cy="193.46" r="1.95" fill="#eb851e" fill-opacity="0.8" stroke="#404040" stroke-width="0.5"/>
<circle cx="163.25" cy="191.36" r="1.95" fill="#e7ac29" fill-opacity="0.8" stroke="#404040" stroke-width="0.5"/>
<circle cx="166.27" cy="186.6" r="1.95" fill="#e7ac29" fill-opacity="0.8" stroke="#404040" stroke-width="0.5"/>
<circle cx="169.28" cy="178.2" r="1.95" fill="#e99623" fill-opacity="0.8" stroke="#404040" stroke-width="0.5"/>
<circle cx="172.29" cy="189.54" r="1.95" fill="#e99623" fill-opacity="0.8" stroke="#404040" stroke-width="0.5"/>
<circle cx="175.3" cy="183.24" r="1.95" fill="#e89f25" fill-opacity="0.8" stroke="#404040" stroke-width="0.5"/>
<circle cx="178.31" cy="175.26" r="1.95" fill="#eb851e" fill-opacity="0.8" stroke="#404040" stroke-width="0.5"/>
<circle cx="181.33" cy="187.44" r="1.95" fill="#e2d033" fill-opacity="0.8" stroke="#404040" stroke-width="0.5"/>
<circle cx="184.34" cy="193.18" r="1.95" fill="#e99623" fill-opacity="0.8" stroke="#404040" stroke-width="0.5"/>
<circle cx="187.35" cy="199.9" r="1.95" fill="#e89f25" fill-opacity="0.8" stroke="#404040" stroke-width="0.5"/>
<circle cx="190.36" cy="186.88" r="1.95" fill="#e2d033" fill-opacity="0.8" stroke="#404040" stroke-width="0.5"/>
<circle cx="193.37" cy="197.24" r="1.95" fill="#e7ac29" fill-opacity="0.8" stroke="#404040" stroke-width="0.5"/>
<circle cx="196.39" cy="175.26" r="1.95" fill="#eb851e" fill-opacity="0.8" stroke="#404040" stroke-width="0.5"/>
<circle cx="199.4" cy="194.72" r="1.95" fill="#e89f25" fill-opacity="0.8" stroke="#404040" stroke-width="0.5"/>
<circle cx="202.41" cy="191.36" r="1.95" fill="#eb851e" fill-opacity="0.8" stroke="#404040" stroke-width="0.5"/>
<circle cx="205.42" cy="191.78" r="1.95" fill="#e89f25" fill-opacity="0.8" stroke="#404040" stroke-width="0.5"/>
<circle cx="208.43" cy="199.2" r="1.95" fill="#e99623" fill-opacity="0.8" stroke="#404040" stroke-width="0.5"/>
<circle cx="211.45" cy="197.24" r="1.95" fill="#e7ac29" fill-opacity="0.8" stroke="#404040" stroke-width="0.5"/>
<circle cx="214.46" cy="179.6" r="1.95" fill="#e2d033" fill-opacity="0.8" stroke="#404040" stroke-width="0.5"/>
<circle cx="217.47" cy="185.76" r="1.95" fill="#e5bc2e" fill-opacity="0.8" stroke="#404040" stroke-width="0.5"/>
<circle cx="220.48" cy="177.78" r="1.95" fill="#e99623" fill-opacity="0.8" stroke="#404040" stroke-width="0.5"/>
<circle cx="223.49" cy="189.54" r="1.95" fill="#eb851e" fill-opacity="0.8" stroke="#404040" stroke-width="0.5"/>
<circle cx="226.51" cy="186.88" r="1.95" fill="#e2d033" fill-opacity="0.8" stroke="#404040" stroke-width="0.5"/>
<circle cx="229.52" cy="180.16" r="1.95" fill="#e5bc2e" fill-opacity="0.8" stroke="#404040" stroke-width="0.5"/>
<circle cx="232.53" cy="181.14" r="1.95" fill="#e7ac29" fill-opacity="0.8" stroke="#404040" stroke-width="0.5"/>
<circle cx="235.54" cy="189.12" r="1.95" fill="#e89f25" fill-opacity="0.8" stroke="#404040" stroke-width="0.5"/>
<circle cx="238.55" cy="201.16" r="1.95" fill="#e5bc2e" fill-opacity="0.8" stroke="#404040" stroke-width="0.5"/>
<circle cx="241.57" cy="184.5" r="1.95" fill="#e99623" fill-opacity="0.8" stroke="#404040" stroke-width="0.5"/>
<circle cx="244.58" cy="175.96" r="1.95" fill="#e89f25" fill-opacity="0.8" stroke="#404040" stroke-width="0.5"/>
<circle cx="247.59" cy="173.44" r="1.95" fill="#eb851e" fill-opacity="0.8" stroke="#404040" stroke-width="0.5"/>
<circle cx="250.6" cy="179.32" r="1.95" fill="#e89f25" fill-opacity="0.8" stroke="#404040" stroke-width="0.5"/>
<circle cx="253.61" cy="189.82" r="1.95" fill="#e89f25" fill-opacity="0.8" stroke="#404040" stroke-width="0.5"/>
<circle cx="256.63" cy="184.5" r="1.95" fill="#eb851e" fill-opacity="0.8" stroke="#404040" stroke-width="0.5"/>
<circle cx="259.64" cy="194.16" r="1.95" fill="#e89f25" fill-opacity="0.8" stroke="#404040" stroke-width="0.5"/>
<circle cx="262.65" cy="177.5" r="1.95" fill="#c2e246" fill-opacity="0.8" stroke="#404040" stroke-width="0.5"/>
<circle cx="265.66" cy="172.04" r="1.95" fill="#e5bc2e" fill-opacity="0.8" stroke="#404040" stroke-width="0.5"/>
<circle cx="268.67" cy="179.6" r="1.95" fill="#e7ac29" fill-opacity="0.8" stroke="#404040" stroke-width="0.5"/>
<circle cx="271.69" cy="172.32" r="1.95" fill="#e7ac29" fill-opacity="0.8" stroke="#404040" stroke-width="0.5"/>
<circle cx="274.7" cy="172.32" r="1.95" fill="#eb851e" fill-opacity="0.8" stroke="#404040" stroke-width="0.5"/>
<circle cx="277.71" cy="180.72" r="1.95" fill="#e5bc2e" fill-opacity="0.8" stroke="#404040" stroke-width="0.5"/>
<circle cx="280.72" cy="170.92" r="1.95" fill="#e89f25" fill-opacity="0.8" stroke="#404040" stroke-width="0.5"/>
<circle cx="283.73" cy="195" r="1.95" fill="#e89f25" fill-opacity="0.8" stroke="#404040" stroke-width="0.5"/>
<circle cx="286.75" cy="185.76" r="1.95" fill="#e89f25" fill-opacity="0.8" stroke="#404040" stroke-width="0.5"/>
<circle cx="289.76" cy="189.12" r="1.95" fill="#eb851e" fill-opacity="0.8" stroke="#404040" stroke-width="0.5"/>
<circle cx="292.77" cy="174.98" r="1.95" fill="#e89f25" fill-opacity="0.8" stroke="#404040" stroke-width="0.5"/>
<circle cx="295.78" cy="167.98" r="1.95" fill="#e89f25" fill-opacity="0.8" stroke="#404040" stroke-width="0.5"/>
<circle cx="298.79" cy="187.72" r="1.95" fill="#e99623" fill-opacity="0.8" stroke="#404040" stroke-width="0.5"/>
<circle cx="301.81" cy="188.42" r="1.95" fill="#e7ac29" fill-opacity="0.8" stroke="#404040" stroke-width="0.5"/>
<circle cx="304.82" cy="191.78" r="1.95" fill="#e5bc2e" fill-opacity="0.8" stroke="#404040" stroke-width="0.5"/>
<circle cx="307.83" cy="176.8" r="1.95" fill="#eb851e" fill-opacity="0.8" stroke="#404040" stroke-width="0.5"/>
<circle cx="310.84" cy="180.16" r="1.95" fill="#e89f25" fill-opacity="0.8" stroke="#404040" stroke-width="0.5"/>
<circle cx="313.85" cy="182.54" r="1.95" fill="#e89f25" fill-opacity="0.8" stroke="#404040" stroke-width="0.5"/>
<circle cx="316.87" cy="182.54" r="1.95" fill="#e5bc2e" fill-opacity="0.8" stroke="#404040" stroke-width="0.5"/>
<circle cx="319.88" cy="177.5" r="1.95" fill="#e89f25" fill-opacity="0.8" stroke="#404040" stroke-width="0.5"/>
<circle cx="322.89" cy="172.04" r="1.95" fill="#e5bc2e" fill-opacity="0.8" stroke="#404040" stroke-width="0.5"/>
<circle cx="325.9" cy="182.96" r="1.95" fill="#e89f25" fill-opacity="0.8" stroke="#404040" stroke-width="0.5"/>
<circle cx="328.91" cy="162.8" r="1.95" fill="#eb851e" fill-opacity="0.8" stroke="#404040" stroke-width="0.5"/>
<circle cx="331.93" cy="178.2" r="1.95" fill="#eb851e" fill-opacity="0.8" stroke="#404040" stroke-width="0.5"/>
<circle cx="334.94" cy="180.86" r="1.95" fill="#e99623" fill-opacity="0.8" stroke="#404040" stroke-width="0.5"/>
<line x1="36.75" x2="36.75" y1="220.7" y2="223.6" stroke="#555" stroke-width="1.0"/>
<line x1="39.76" x2="39.76" y1="220.7" y2="223.6" stroke="#555" stroke-width="1.0"/>
<line x1="42.77" x2="42.77" y1="220.7" y2="223.6" stroke="#555" stroke-width="1.0"/>
<line x1="45.79" x2="45.79" y1="220.7" y2="223.6" stroke="#555" stroke-width="1.0"/>
<line x1="48.8" x2="48.8" y1="220.7" y2="223.6" stroke="#555" stroke-width="1.0"/>
<line x1="51.81" x2="51.81" y1="220.7" y2="223.6" stroke="#555" stroke-width="1.0"/>
<line x1="54.82" x2="54.82" y1="220.7" y2="223.6" stroke="#555" stroke-width="1.0"/>
<line x1="57.83" x2="57.83" y1="220.7" y2="223.6" stroke="#555" stroke-width="1.0"/>
<line x1="60.85" x2="60.85" y1="220.7" y2="223.6" stroke="#555" stroke-width="1.0"/>
<line x1="63.86" x2="63.86" y1="220.7" y2="223.6" stroke="#555" stroke-width="1.0"/>
<line x1="66.87" x2="66.87" y1="220.7" y2="223.6" stroke="#555" stroke-width="1.0"/>
<line x1="69.88" x2="69.88" y1="220.7" y2="223.6" stroke="#555" stroke-width="1.0"/>
<line x1="72.89" x2="72.89" y1="220.7" y2="223.6" stroke="#555" stroke-width="1.0"/>
<line x1="75.91" x2="75.91" y1="220.7" y2="223.6" stroke="#555" stroke-width="1.0"/>
<line x1="78.92" x2="78.92" y1="220.7" y2="223.6" stroke="#555" stroke-width="1.0"/>
<line x1="81.93" x2="81.93" y1="220.7" y2="223.6" stroke="#555" stroke-width="1.0"/>
<line x1="84.94" x2="84.94" y1="220.7" y2="223.6" stroke="#555" stroke-width="1.0"/>
<line x1="87.95" x2="87.95" y1="220.7" y2="223.6" stroke="#555" stroke-width="1.0"/>
<line x1="90.97" x2="90.97" y1="220.7" y2="223.6" stroke="#555" stroke-width="1.0"/>
<line x1="93.98" x2="93.98" y1="220.7" y2="223.6" stroke="#555" stroke-width="1.0"/>
<line x1="96.99" x2="96.99" y1="220.7" y2="223.6" stroke="#555" stroke-width="1.0"/>
<line x1="100" x2="100" y1="220.7" y2="223.6" stroke="#555" stroke-width="1.0"/>
<line x1="103.01" x2="103.01" y1="220.7" y2="223.6" stroke="#555" stroke-width="1.0"/>
<line x1="106.03" x2="106.03" y1="220.7" y2="223.6" stroke="#555" stroke-width="1.0"/>
<line x1="109.04" x2="109.04" y1="220.7" y2="223.6" stroke="#555" stroke-width="1.0"/>
<line x1="112.05" x2="112.05" y1="220.7" y2="223.6" stroke="#555" stroke-width="1.0"/>
<line x1="115.06" x2="115.06" y1="220.7" y2="223.6" stroke="#555" stroke-width="1.0"/>
<line x1="118.07" x2="118.07" y1="220.7" y2="223.6" stroke="#555" stroke-width="1.0"/>
<line x1="121.09" x2="121.09" y1="220.7" y2="223.6" stroke="#555" stroke-width="1.0"/>
<line x1="124.1" x2="124.1" y1="220.7" y2="223.6" stroke="#555" stroke-width="1.0"/>
<line x1="127.11" x2="127.11" y1="220.7" y2="223.6" stroke="#555" stroke-width="1.0"/>
<line x1="130.12" x2="130.12" y1="220.7" y2="223.6" stroke="#555" stroke-width="1.0"/>
<line x1="133.13" x2="133.13" y1="220.7" y2="223.6" stroke="#555" stroke-width="1.0"/>
<line x1="136.15" x2="136.15" y1="220.7" y2="223.6" stroke="#555" stroke-width="1.0"/>
<line x1="139.16" x2="139.16" y1="220.7" y2="223.6" stroke="#555" stroke-width="1.0"/>
<line x1="142.17" x2="142.17" y1="220.7" y2="223.6" stroke="#555" stroke-width="1.0"/>
<line x1="145.18" x2="145.18" y1="220.7" y2="223.6" stroke="#555" stroke-width="1.0"/>
<line x1="148.19" x2="148.19" y1="220.7" y2="223.6" stroke="#555" stroke-width="1.0"/>
<line x1="151.21" x2="151.21" y1="220.7" y2="223.6" stroke="#555" stroke-width="1.0"/>
<line x1="154.22" x2="154.22" y1="220.7" y2="223.6" stroke="#555" stroke-width="1.0"/>
<line x1="157.23" x2="157.23" y1="220.7" y2="223.6" stroke="#555" stroke-width="1.0"/>
<line x1="160.24" x2="160.24" y1="220.7" y2="223.6" stroke="#555" stroke-width="1.0"/>
<line x1="163.25" x2="163.25" y1="220.7" y2="223.6" stroke="#555" stroke-width="1.0"/>
<line x1="166.27" x2="166.27" y1="220.7" y2="223.6" stroke="#555" stroke-width="1.0"/>
<line x1="169.28" x2="169.28" y1="220.7" y2="223.6" stroke="#555" stroke-width="1.0"/>
<line x1="172.29" x2="172.29" y1="220.7" y2="223.6" stroke="#555" stroke-width="1.0"/>
<line x1="175.3" x2="175.3" y1="220.7" y2="223.6" stroke="#555" stroke-width="1.0"/>
<line x1="178.31" x2="178.31" y1="220.7" y2="223.6" stroke="#555" stroke-width="1.0"/>
<line x1="181.33" x2="181.33" y1="220.7" y2="223.6" stroke="#555" stroke-width="1.0"/>
<line x1="184.34" x2="184.34" y1="220.7" y2="223.6" stroke="#555" stroke-width="1.0"/>
<line x1="187.35" x2="187.35" y1="220.7" y2="223.6" stroke="#555" stroke-width="1.0"/>
<line x1="190.36" x2="190.36" y1="220.7" y2="223.6" stroke="#555" stroke-width="1.0"/>
<line x1="193.37" x2="193.37" y1="220.7" y2="223.6" stroke="#555" stroke-width="1.0"/>
<line x1="196.39" x2="196.39" y1="220.7" y2="223.6" stroke="#555" stroke-width="1.0"/>
<line x1="199.4" x2="199.4" y1="220.7" y2="223.6" stroke="#555" stroke-width="1.0"/>
<line x1="202.41" x2="202.41" y1="220.7" y2="223.6" stroke="#555" stroke-width="1.0"/>
<line x1="205.42" x2="205.42" y1="220.7" y2="223.6" stroke="#555" stroke-width="1.0"/>
<line x1="208.43" x2="208.43" y1="220.7" y2="223.6" stroke="#555" stroke-width="1.0"/>
<line x1="211.45" x2="211.45" y1="220.7" y2="223.6" stroke="#555" stroke-width="1.0"/>
<line x1="214.46" x2="214.46" y1="220.7" y2="223.6" stroke="#555" stroke-width="1.0"/>
<line x1="217.47" x2="217.47" y1="220.7" y2="223.6" stroke="#555" stroke-width="1.0"/>
<line x1="220.48" x2="220.48" y1="220.7" y2="223.6" stroke="#555" stroke-width="1.0"/>
<line x1="223.49" x2="223.49" y1="220.7" y2="223.6" stroke="#555" stroke-width="1.0"/>
<line x1="226.51" x2="226.51" y1="220.7" y2="223.6" stroke="#555" stroke-width="1.0"/>
<line x1="229.52" x2="229.52" y1="220.7" y2="223.6" stroke="#555" stroke-width="1.0"/>
<line x1="232.53" x2="232.53" y1="220.7" y2="223.6" stroke="#555" stroke-width="1.0"/>
<line x1="235.54" x2="235.54" y1="220.7" y2="223.6" stroke="#555" stroke-width="1.0"/>
<line x1="238.55" x2="238.55" y1="220.7" y2="223.6" stroke="#555" stroke-width="1.0"/>
<line x1="241.57" x2="241.57" y1="220.7" y2="223.6" stroke="#555" stroke-width="1.0"/>
<line x1="244.58" x2="244.58" y1="220.7" y2="223.6" stroke="#555" stroke-width="1.0"/>
<line x1="247.59" x2="247.59" y1="220.7" y2="223.6" stroke="#555" stroke-width="1.0"/>
<line x1="250.6" x2="250.6" y1="220.7" y2="223.6" stroke="#555" stroke-width="1.0"/>
<line x1="253.61" x2="253.61" y1="220.7" y2="223.6" stroke="#555" stroke-width="1.0"/>
<line x1="256.63" x2="256.63" y1="220.7" y2="223.6" stroke="#555" stroke-width="1.0"/>
<line x1="259.64" x2="259.64" y1="220.7" y2="223.6" stroke="#555" stroke-width="1.0"/>
<line x1="262.65" x2="262.65" y1="220.7" y2="223.6" stroke="#555" stroke-width="1.0"/>
<line x1="265.66" x2="265.66" y1="220.7" y2="223.6" stroke="#555" stroke-width="1.0"/>
<line x1="268.67" x2="268.67" y1="220.7" y2="223.6" stroke="#555" stroke-width="1.0"/>
<line x1="271.69" x2="271.69" y1="220.7" y2="223.6" stroke="#555" stroke-width="1.0"/>
<line x1="274.7" x2="274.7" y1="220.7" y2="223.6" stroke="#555" stroke-width="1.0"/>
<line x1="277.71" x2="277.71" y1="220.7" y2="223.6" stroke="#555" stroke-width="1.0"/>
<line x1="280.72" x2="280.72" y1="220.7" y2="223.6" stroke="#555" stroke-width="1.0"/>
<line x1="283.73" x2="283.73" y1="220.7" y2="223.6" stroke="#555" stroke-width="1.0"/>
<line x1="286.75" x2="286.75" y1="220.7" y2="223.6" stroke="#555" stroke-width="1.0"/>
<line x1="289.76" x2="289.76" y1="220.7" y2="223.6" stroke="#555" stroke-width="1.0"/>
<line x1="292.77" x2="292.77" y1="220.7" y2="223.6" stroke="#555" stroke-width="1.0"/>
<line x1="295.78" x2="295.78" y1="220.7" y2="223.6" stroke="#555" stroke-width="1.0"/>
<line x1="298.79" x2="298.79" y1="220.7" y2="223.6" stroke="#555" stroke-width="1.0"/>
<line x1="301.81" x2="301.81" y1="220.7" y2="223.6" stroke="#555" stroke-width="1.0"/>
<line x1="304.82" x2="304.82" y1="220.7" y2="223.6" stroke="#555" stroke-width="1.0"/>
<line x1="307.83" x2="307.83" y1="220.7" y2="223.6" stroke="#555" stroke-width="1.0"/>
<line x1="310.84" x2="310.84" y1="220.7" y2="223.6" stroke="#555" stroke-width="1.0"/>
<line x1="313.85" x2="313.85" y1="220.7" y2="223.6" stroke="#555" stroke-width="1.0"/>
<line x1="316.87" x2="316.87" y1="220.7" y2="223.6" stroke="#555" stroke-width="1.0"/>
<line x1="319.88" x2="319.88" y1="220.7" y2="223.6" stroke="#555" stroke-width="1.0"/>
<line x1="322.89" x2="322.89" y1="220.7" y2="223.6" stroke="#555" stroke-width="1.0"/>
<line x1="325.9" x2="325.9" y1="220.7" y2="223.6" stroke="#555" stroke-width="1.0"/>
<line x1="328.91" x2="328.91" y1="220.7" y2="223.6" stroke="#555" stroke-width="1.0"/>
<line x1="331.93" x2="331.93" y1="220.7" y2="223.6" stroke="#555" stroke-width="1.0"/>
<line x1="334.94" x2="334.94" y1="220.7" y2="223.6" stroke="#555" stroke-width="1.0"/>
<text font-size="9.27" text-anchor="middle" fill="#000" stroke="#000" stroke-width="0.22" transform="translate(185.8 232.55) scale(1 1.07)">Clone</text>
<text font-size="9.27" text-anchor="middle" fill="#000" stroke="#000" stroke-width="0.22" transform="translate(14.25 150.4) rotate(-90) scale(1 1.07)">BLUP</text>
<text font-size="10.5" font-weight="bold" fill="#000" x="0" y="7.9">A</text>
<line x1="34.9" x2="336.7" y1="298.42" y2="298.42" stroke="#ebebeb" stroke-width="0.55"/>
<line x1="34.9" x2="336.7" y1="348.27" y2="348.27" stroke="#ebebeb" stroke-width="0.55"/>
<line x1="34.9" x2="336.7" y1="398.12" y2="398.12" stroke="#ebebeb" stroke-width="0.55"/>
<line x1="34.9" x2="336.7" y1="447.98" y2="447.98" stroke="#ebebeb" stroke-width="0.55"/>
<line x1="34.9" x2="336.7" y1="273.5" y2="273.5" stroke="#ebebeb" stroke-width="1"/>
<line x1="34.9" x2="336.7" y1="323.35" y2="323.35" stroke="#ebebeb" stroke-width="1"/>
<line x1="34.9" x2="336.7" y1="373.2" y2="373.2" stroke="#ebebeb" stroke-width="1"/>
<line x1="34.9" x2="336.7" y1="423.05" y2="423.05" stroke="#ebebeb" stroke-width="1"/>
<line x1="36.75" x2="36.75" y1="253.2" y2="465.6" stroke="#ebebeb" stroke-width="1"/>
<line x1="39.76" x2="39.76" y1="253.2" y2="465.6" stroke="#ebebeb" stroke-width="1"/>
<line x1="42.77" x2="42.77" y1="253.2" y2="465.6" stroke="#ebebeb" stroke-width="1"/>
<line x1="45.79" x2="45.79" y1="253.2" y2="465.6" stroke="#ebebeb" stroke-width="1"/>
<line x1="48.8" x2="48.8" y1="253.2" y2="465.6" stroke="#ebebeb" stroke-width="1"/>
<line x1="51.81" x2="51.81" y1="253.2" y2="465.6" stroke="#ebebeb" stroke-width="1"/>
<line x1="54.82" x2="54.82" y1="253.2" y2="465.6" stroke="#ebebeb" stroke-width="1"/>
<line x1="57.83" x2="57.83" y1="253.2" y2="465.6" stroke="#ebebeb" stroke-width="1"/>
<line x1="60.85" x2="60.85" y1="253.2" y2="465.6" stroke="#ebebeb" stroke-width="1"/>
<line x1="63.86" x2="63.86" y1="253.2" y2="465.6" stroke="#ebebeb" stroke-width="1"/>
<line x1="66.87" x2="66.87" y1="253.2" y2="465.6" stroke="#ebebeb" stroke-width="1"/>
<line x1="69.88" x2="69.88" y1="253.2" y2="465.6" stroke="#ebebeb" stroke-width="1"/>
<line x1="72.89" x2="72.89" y1="253.2" y2="465.6" stroke="#ebebeb" stroke-width="1"/>
<line x1="75.91" x2="75.91" y1="253.2" y2="465.6" stroke="#ebebeb" stroke-width="1"/>
<line x1="78.92" x2="78.92" y1="253.2" y2="465.6" stroke="#ebebeb" stroke-width="1"/>
<line x1="81.93" x2="81.93" y1="253.2" y2="465.6" stroke="#ebebeb" stroke-width="1"/>
<line x1="84.94" x2="84.94" y1="253.2" y2="465.6" stroke="#ebebeb" stroke-width="1"/>
<line x1="87.95" x2="87.95" y1="253.2" y2="465.6" stroke="#ebebeb" stroke-width="1"/>
<line x1="90.97" x2="90.97" y1="253.2" y2="465.6" stroke="#ebebeb" stroke-width="1"/>
<line x1="93.98" x2="93.98" y1="253.2" y2="465.6" stroke="#ebebeb" stroke-width="1"/>
<line x1="96.99" x2="96.99" y1="253.2" y2="465.6" stroke="#ebebeb" stroke-width="1"/>
<line x1="100" x2="100" y1="253.2" y2="465.6" stroke="#ebebeb" stroke-width="1"/>
<line x1="103.01" x2="103.01" y1="253.2" y2="465.6" stroke="#ebebeb" stroke-width="1"/>
<line x1="106.03" x2="106.03" y1="253.2" y2="465.6" stroke="#ebebeb" stroke-width="1"/>
<line x1="109.04" x2="109.04" y1="253.2" y2="465.6" stroke="#ebebeb" stroke-width="1"/>
<line x1="112.05" x2="112.05" y1="253.2" y2="465.6" stroke="#ebebeb" stroke-width="1"/>
<line x1="115.06" x2="115.06" y1="253.2" y2="465.6" stroke="#ebebeb" stroke-width="1"/>
<line x1="118.07" x2="118.07" y1="253.2" y2="465.6" stroke="#ebebeb" stroke-width="1"/>
<line x1="121.09" x2="121.09" y1="253.2" y2="465.6" stroke="#ebebeb" stroke-width="1"/>
<line x1="124.1" x2="124.1" y1="253.2" y2="465.6" stroke="#ebebeb" stroke-width="1"/>
<line x1="127.11" x2="127.11" y1="253.2" y2="465.6" stroke="#ebebeb" stroke-width="1"/>
<line x1="130.12" x2="130.12" y1="253.2" y2="465.6" stroke="#ebebeb" stroke-width="1"/>
<line x1="133.13" x2="133.13" y1="253.2" y2="465.6" stroke="#ebebeb" stroke-width="1"/>
<line x1="136.15" x2="136.15" y1="253.2" y2="465.6" stroke="#ebebeb" stroke-width="1"/>
<line x1="139.16" x2="139.16" y1="253.2" y2="465.6" stroke="#ebebeb" stroke-width="1"/>
<line x1="142.17" x2="142.17" y1="253.2" y2="465.6" stroke="#ebebeb" stroke-width="1"/>
<line x1="145.18" x2="145.18" y1="253.2" y2="465.6" stroke="#ebebeb" stroke-width="1"/>
<line x1="148.19" x2="148.19" y1="253.2" y2="465.6" stroke="#ebebeb" stroke-width="1"/>
<line x1="151.21" x2="151.21" y1="253.2" y2="465.6" stroke="#ebebeb" stroke-width="1"/>
<line x1="154.22" x2="154.22" y1="253.2" y2="465.6" stroke="#ebebeb" stroke-width="1"/>
<line x1="157.23" x2="157.23" y1="253.2" y2="465.6" stroke="#ebebeb" stroke-width="1"/>
<line x1="160.24" x2="160.24" y1="253.2" y2="465.6" stroke="#ebebeb" stroke-width="1"/>
<line x1="163.25" x2="163.25" y1="253.2" y2="465.6" stroke="#ebebeb" stroke-width="1"/>
<line x1="166.27" x2="166.27" y1="253.2" y2="465.6" stroke="#ebebeb" stroke-width="1"/>
<line x1="169.28" x2="169.28" y1="253.2" y2="465.6" stroke="#ebebeb" stroke-width="1"/>
<line x1="172.29" x2="172.29" y1="253.2" y2="465.6" stroke="#ebebeb" stroke-width="1"/>
<line x1="175.3" x2="175.3" y1="253.2" y2="465.6" stroke="#ebebeb" stroke-width="1"/>
<line x1="178.31" x2="178.31" y1="253.2" y2="465.6" stroke="#ebebeb" stroke-width="1"/>
<line x1="181.33" x2="181.33" y1="253.2" y2="465.6" stroke="#ebebeb" stroke-width="1"/>
<line x1="184.34" x2="184.34" y1="253.2" y2="465.6" stroke="#ebebeb" stroke-width="1"/>
<line x1="187.35" x2="187.35" y1="253.2" y2="465.6" stroke="#ebebeb" stroke-width="1"/>
<line x1="190.36" x2="190.36" y1="253.2" y2="465.6" stroke="#ebebeb" stroke-width="1"/>
<line x1="193.37" x2="193.37" y1="253.2" y2="465.6" stroke="#ebebeb" stroke-width="1"/>
<line x1="196.39" x2="196.39" y1="253.2" y2="465.6" stroke="#ebebeb" stroke-width="1"/>
<line x1="199.4" x2="199.4" y1="253.2" y2="465.6" stroke="#ebebeb" stroke-width="1"/>
<line x1="202.41" x2="202.41" y1="253.2" y2="465.6" stroke="#ebebeb" stroke-width="1"/>
<line x1="205.42" x2="205.42" y1="253.2" y2="465.6" stroke="#ebebeb" stroke-width="1"/>
<line x1="208.43" x2="208.43" y1="253.2" y2="465.6" stroke="#ebebeb" stroke-width="1"/>
<line x1="211.45" x2="211.45" y1="253.2" y2="465.6" stroke="#ebebeb" stroke-width="1"/>
<line x1="214.46" x2="214.46" y1="253.2" y2="465.6" stroke="#ebebeb" stroke-width="1"/>
<line x1="217.47" x2="217.47" y1="253.2" y2="465.6" stroke="#ebebeb" stroke-width="1"/>
<line x1="220.48" x2="220.48" y1="253.2" y2="465.6" stroke="#ebebeb" stroke-width="1"/>
<line x1="223.49" x2="223.49" y1="253.2" y2="465.6" stroke="#ebebeb" stroke-width="1"/>
<line x1="226.51" x2="226.51" y1="253.2" y2="465.6" stroke="#ebebeb" stroke-width="1"/>
<line x1="229.52" x2="229.52" y1="253.2" y2="465.6" stroke="#ebebeb" stroke-width="1"/>
<line x1="232.53" x2="232.53" y1="253.2" y2="465.6" stroke="#ebebeb" stroke-width="1"/>
<line x1="235.54" x2="235.54" y1="253.2" y2="465.6" stroke="#ebebeb" stroke-width="1"/>
<line x1="238.55" x2="238.55" y1="253.2" y2="465.6" stroke="#ebebeb" stroke-width="1"/>
<line x1="241.57" x2="241.57" y1="253.2" y2="465.6" stroke="#ebebeb" stroke-width="1"/>
<line x1="244.58" x2="244.58" y1="253.2" y2="465.6" stroke="#ebebeb" stroke-width="1"/>
<line x1="247.59" x2="247.59" y1="253.2" y2="465.6" stroke="#ebebeb" stroke-width="1"/>
<line x1="250.6" x2="250.6" y1="253.2" y2="465.6" stroke="#ebebeb" stroke-width="1"/>
<line x1="253.61" x2="253.61" y1="253.2" y2="465.6" stroke="#ebebeb" stroke-width="1"/>
<line x1="256.63" x2="256.63" y1="253.2" y2="465.6" stroke="#ebebeb" stroke-width="1"/>
<line x1="259.64" x2="259.64" y1="253.2" y2="465.6" stroke="#ebebeb" stroke-width="1"/>
<line x1="262.65" x2="262.65" y1="253.2" y2="465.6" stroke="#ebebeb" stroke-width="1"/>
<line x1="265.66" x2="265.66" y1="253.2" y2="465.6" stroke="#ebebeb" stroke-width="1"/>
<line x1="268.67" x2="268.67" y1="253.2" y2="465.6" stroke="#ebebeb" stroke-width="1"/>
<line x1="271.69" x2="271.69" y1="253.2" y2="465.6" stroke="#ebebeb" stroke-width="1"/>
<line x1="274.7" x2="274.7" y1="253.2" y2="465.6" stroke="#ebebeb" stroke-width="1"/>
<line x1="277.71" x2="277.71" y1="253.2" y2="465.6" stroke="#ebebeb" stroke-width="1"/>
<line x1="280.72" x2="280.72" y1="253.2" y2="465.6" stroke="#ebebeb" stroke-width="1"/>
<line x1="283.73" x2="283.73" y1="253.2" y2="465.6" stroke="#ebebeb" stroke-width="1"/>
<line x1="286.75" x2="286.75" y1="253.2" y2="465.6" stroke="#ebebeb" stroke-width="1"/>
<line x1="289.76" x2="289.76" y1="253.2" y2="465.6" stroke="#ebebeb" stroke-width="1"/>
<line x1="292.77" x2="292.77" y1="253.2" y2="465.6" stroke="#ebebeb" stroke-width="1"/>
<line x1="295.78" x2="295.78" y1="253.2" y2="465.6" stroke="#ebebeb" stroke-width="1"/>
<line x1="298.79" x2="298.79" y1="253.2" y2="465.6" stroke="#ebebeb" stroke-width="1"/>
<line x1="301.81" x2="301.81" y1="253.2" y2="465.6" stroke="#ebebeb" stroke-width="1"/>
<line x1="304.82" x2="304.82" y1="253.2" y2="465.6" stroke="#ebebeb" stroke-width="1"/>
<line x1="307.83" x2="307.83" y1="253.2" y2="465.6" stroke="#ebebeb" stroke-width="1"/>
<line x1="310.84" x2="310.84" y1="253.2" y2="465.6" stroke="#ebebeb" stroke-width="1"/>
<line x1="313.85" x2="313.85" y1="253.2" y2="465.6" stroke="#ebebeb" stroke-width="1"/>
<line x1="316.87" x2="316.87" y1="253.2" y2="465.6" stroke="#ebebeb" stroke-width="1"/>
<line x1="319.88" x2="319.88" y1="253.2" y2="465.6" stroke="#ebebeb" stroke-width="1"/>
<line x1="322.89" x2="322.89" y1="253.2" y2="465.6" stroke="#ebebeb" stroke-width="1"/>
<line x1="325.9" x2="325.9" y1="253.2" y2="465.6" stroke="#ebebeb" stroke-width="1"/>
<line x1="328.91" x2="328.91" y1="253.2" y2="465.6" stroke="#ebebeb" stroke-width="1"/>
<line x1="331.93" x2="331.93" y1="253.2" y2="465.6" stroke="#ebebeb" stroke-width="1"/>
<line x1="334.94" x2="334.94" y1="253.2" y2="465.6" stroke="#ebebeb" stroke-width="1"/>
<text font-size="7.62" text-anchor="end" fill="#4d4d4d" stroke="#4d4d4d" stroke-width="0.22" transform="translate(31.4 277.2) scale(1 1.07)">20</text>
<text font-size="7.62" text-anchor="end" fill="#4d4d4d" stroke="#4d4d4d" stroke-width="0.22" transform="translate(31.4 327.05) scale(1 1.07)">10</text>
<text font-size="7.62" text-anchor="end" fill="#4d4d4d" stroke="#4d4d4d" stroke-width="0.22" transform="translate(31.4 376.9) scale(1 1.07)">0</text>
<text font-size="7.62" text-anchor="end" fill="#4d4d4d" stroke="#4d4d4d" stroke-width="0.22" transform="translate(31.4 426.75) scale(1 1.07)">−10</text>
<line x1="36.75" x2="36.75" y1="373.2" y2="454.95" stroke="#000" stroke-width="1.6"/>
<line x1="39.76" x2="39.76" y1="373.2" y2="453.96" stroke="#000" stroke-width="1.6"/>
<line x1="42.77" x2="42.77" y1="373.2" y2="451.96" stroke="#000" stroke-width="1.6"/>
<line x1="45.79" x2="45.79" y1="373.2" y2="440.5" stroke="#000" stroke-width="1.6"/>
<line x1="48.8" x2="48.8" y1="373.2" y2="435.51" stroke="#000" stroke-width="1.6"/>
<line x1="51.81" x2="51.81" y1="373.2" y2="433.02" stroke="#000" stroke-width="1.6"/>
<line x1="54.82" x2="54.82" y1="373.2" y2="433.02" stroke="#000" stroke-width="1.6"/>
<line x1="57.83" x2="57.83" y1="373.2" y2="431.52" stroke="#000" stroke-width="1.6"/>
<line x1="60.85" x2="60.85" y1="373.2" y2="431.03" stroke="#000" stroke-width="1.6"/>
<line x1="63.86" x2="63.86" y1="373.2" y2="423.05" stroke="#000" stroke-width="1.6"/>
<line x1="66.87" x2="66.87" y1="373.2" y2="423.05" stroke="#000" stroke-width="1.6"/>
<line x1="69.88" x2="69.88" y1="373.2" y2="423.05" stroke="#000" stroke-width="1.6"/>
<line x1="72.89" x2="72.89" y1="373.2" y2="419.06" stroke="#000" stroke-width="1.6"/>
<line x1="75.91" x2="75.91" y1="373.2" y2="418.06" stroke="#000" stroke-width="1.6"/>
<line x1="78.92" x2="78.92" y1="373.2" y2="417.07" stroke="#000" stroke-width="1.6"/>
<line x1="81.93" x2="81.93" y1="373.2" y2="416.57" stroke="#000" stroke-width="1.6"/>
<line x1="84.94" x2="84.94" y1="373.2" y2="416.57" stroke="#000" stroke-width="1.6"/>
<line x1="87.95" x2="87.95" y1="373.2" y2="416.57" stroke="#000" stroke-width="1.6"/>
<line x1="90.97" x2="90.97" y1="373.2" y2="416.07" stroke="#000" stroke-width="1.6"/>
<line x1="93.98" x2="93.98" y1="373.2" y2="413.58" stroke="#000" stroke-width="1.6"/>
<line x1="96.99" x2="96.99" y1="373.2" y2="409.59" stroke="#000" stroke-width="1.6"/>
<line x1="100" x2="100" y1="373.2" y2="406.1" stroke="#000" stroke-width="1.6"/>
<line x1="103.01" x2="103.01" y1="373.2" y2="404.11" stroke="#000" stroke-width="1.6"/>
<line x1="106.03" x2="106.03" y1="373.2" y2="402.11" stroke="#000" stroke-width="1.6"/>
<line x1="109.04" x2="109.04" y1="373.2" y2="400.62" stroke="#000" stroke-width="1.6"/>
<line x1="112.05" x2="112.05" y1="373.2" y2="399.62" stroke="#000" stroke-width="1.6"/>
<line x1="115.06" x2="115.06" y1="373.2" y2="398.62" stroke="#000" stroke-width="1.6"/>
<line x1="118.07" x2="118.07" y1="373.2" y2="395.63" stroke="#000" stroke-width="1.6"/>
<line x1="121.09" x2="121.09" y1="373.2" y2="395.13" stroke="#000" stroke-width="1.6"/>
<line x1="124.1" x2="124.1" y1="373.2" y2="394.64" stroke="#000" stroke-width="1.6"/>
<line x1="127.11" x2="127.11" y1="373.2" y2="393.14" stroke="#000" stroke-width="1.6"/>
<line x1="130.12" x2="130.12" y1="373.2" y2="392.64" stroke="#000" stroke-width="1.6"/>
<line x1="133.13" x2="133.13" y1="373.2" y2="390.65" stroke="#000" stroke-width="1.6"/>
<line x1="136.15" x2="136.15" y1="373.2" y2="390.15" stroke="#000" stroke-width="1.6"/>
<line x1="139.16" x2="139.16" y1="373.2" y2="389.15" stroke="#000" stroke-width="1.6"/>
<line x1="142.17" x2="142.17" y1="373.2" y2="387.41" stroke="#000" stroke-width="1.6"/>
<line x1="145.18" x2="145.18" y1="373.2" y2="385.16" stroke="#000" stroke-width="1.6"/>
<line x1="148.19" x2="148.19" y1="373.2" y2="384.17" stroke="#000" stroke-width="1.6"/>
<line x1="151.21" x2="151.21" y1="373.2" y2="381.67" stroke="#000" stroke-width="1.6"/>
<line x1="154.22" x2="154.22" y1="373.2" y2="380.18" stroke="#000" stroke-width="1.6"/>
<line x1="157.23" x2="157.23" y1="373.2" y2="379.18" stroke="#000" stroke-width="1.6"/>
<line x1="160.24" x2="160.24" y1="373.2" y2="378.68" stroke="#000" stroke-width="1.6"/>
<line x1="163.25" x2="163.25" y1="373.2" y2="377.94" stroke="#000" stroke-width="1.6"/>
<line x1="166.27" x2="166.27" y1="373.2" y2="376.19" stroke="#000" stroke-width="1.6"/>
<line x1="169.28" x2="169.28" y1="373.2" y2="375.94" stroke="#000" stroke-width="1.6"/>
<line x1="172.29" x2="172.29" y1="373.2" y2="375.44" stroke="#000" stroke-width="1.6"/>
<line x1="175.3" x2="175.3" y1="373.2" y2="374.7" stroke="#000" stroke-width="1.6"/>
<line x1="178.31" x2="178.31" y1="373.2" y2="373.95" stroke="#000" stroke-width="1.6"/>
<line x1="181.33" x2="181.33" y1="373.2" y2="373.3" stroke="#000" stroke-width="1.6"/>
<line x1="184.34" x2="184.34" y1="373.2" y2="370.96" stroke="#000" stroke-width="1.6"/>
<line x1="187.35" x2="187.35" y1="373.2" y2="369.96" stroke="#000" stroke-width="1.6"/>
<line x1="190.36" x2="190.36" y1="373.2" y2="369.96" stroke="#000" stroke-width="1.6"/>
<line x1="193.37" x2="193.37" y1="373.2" y2="368.71" stroke="#000" stroke-width="1.6"/>
<line x1="196.39" x2="196.39" y1="373.2" y2="365.22" stroke="#000" stroke-width="1.6"/>
<line x1="199.4" x2="199.4" y1="373.2" y2="364.23" stroke="#000" stroke-width="1.6"/>
<line x1="202.41" x2="202.41" y1="373.2" y2="363.73" stroke="#000" stroke-width="1.6"/>
<line x1="205.42" x2="205.42" y1="373.2" y2="363.48" stroke="#000" stroke-width="1.6"/>
<line x1="208.43" x2="208.43" y1="373.2" y2="363.23" stroke="#000" stroke-width="1.6"/>
<line x1="211.45" x2="211.45" y1="373.2" y2="362.23" stroke="#000" stroke-width="1.6"/>
<line x1="214.46" x2="214.46" y1="373.2" y2="360.24" stroke="#000" stroke-width="1.6"/>
<line x1="217.47" x2="217.47" y1="373.2" y2="359.74" stroke="#000" stroke-width="1.6"/>
<line x1="220.48" x2="220.48" y1="373.2" y2="359.74" stroke="#000" stroke-width="1.6"/>
<line x1="223.49" x2="223.49" y1="373.2" y2="359.24" stroke="#000" stroke-width="1.6"/>
<line x1="226.51" x2="226.51" y1="373.2" y2="358.25" stroke="#000" stroke-width="1.6"/>
<line x1="229.52" x2="229.52" y1="373.2" y2="357.25" stroke="#000" stroke-width="1.6"/>
<line x1="232.53" x2="232.53" y1="373.2" y2="356.75" stroke="#000" stroke-width="1.6"/>
<line x1="235.54" x2="235.54" y1="373.2" y2="356.5" stroke="#000" stroke-width="1.6"/>
<line x1="238.55" x2="238.55" y1="373.2" y2="355.25" stroke="#000" stroke-width="1.6"/>
<line x1="241.57" x2="241.57" y1="373.2" y2="355.25" stroke="#000" stroke-width="1.6"/>
<line x1="244.58" x2="244.58" y1="373.2" y2="354.76" stroke="#000" stroke-width="1.6"/>
<line x1="247.59" x2="247.59" y1="373.2" y2="354.26" stroke="#000" stroke-width="1.6"/>
<line x1="250.6" x2="250.6" y1="373.2" y2="354.26" stroke="#000" stroke-width="1.6"/>
<line x1="253.61" x2="253.61" y1="373.2" y2="353.76" stroke="#000" stroke-width="1.6"/>
<line x1="256.63" x2="256.63" y1="373.2" y2="351.52" stroke="#000" stroke-width="1.6"/>
<line x1="259.64" x2="259.64" y1="373.2" y2="351.27" stroke="#000" stroke-width="1.6"/>
<line x1="262.65" x2="262.65" y1="373.2" y2="350.77" stroke="#000" stroke-width="1.6"/>
<line x1="265.66" x2="265.66" y1="373.2" y2="348.77" stroke="#000" stroke-width="1.6"/>
<line x1="268.67" x2="268.67" y1="373.2" y2="348.77" stroke="#000" stroke-width="1.6"/>
<line x1="271.69" x2="271.69" y1="373.2" y2="348.03" stroke="#000" stroke-width="1.6"/>
<line x1="274.7" x2="274.7" y1="373.2" y2="346.53" stroke="#000" stroke-width="1.6"/>
<line x1="277.71" x2="277.71" y1="373.2" y2="344.79" stroke="#000" stroke-width="1.6"/>
<line x1="280.72" x2="280.72" y1="373.2" y2="343.29" stroke="#000" stroke-width="1.6"/>
<line x1="283.73" x2="283.73" y1="373.2" y2="342.29" stroke="#000" stroke-width="1.6"/>
<line x1="286.75" x2="286.75" y1="373.2" y2="339.3" stroke="#000" stroke-width="1.6"/>
<line x1="289.76" x2="289.76" y1="373.2" y2="338.8" stroke="#000" stroke-width="1.6"/>
<line x1="292.77" x2="292.77" y1="373.2" y2="335.81" stroke="#000" stroke-width="1.6"/>
<line x1="295.78" x2="295.78" y1="373.2" y2="331.82" stroke="#000" stroke-width="1.6"/>
<line x1="298.79" x2="298.79" y1="373.2" y2="328.83" stroke="#000" stroke-width="1.6"/>
<line x1="301.81" x2="301.81" y1="373.2" y2="326.34" stroke="#000" stroke-width="1.6"/>
<line x1="304.82" x2="304.82" y1="373.2" y2="325.34" stroke="#000" stroke-width="1.6"/>
<line x1="307.83" x2="307.83" y1="373.2" y2="320.36" stroke="#000" stroke-width="1.6"/>
<line x1="310.84" x2="310.84" y1="373.2" y2="320.36" stroke="#000" stroke-width="1.6"/>
<line x1="313.85" x2="313.85" y1="373.2" y2="317.87" stroke="#000" stroke-width="1.6"/>
<line x1="316.87" x2="316.87" y1="373.2" y2="317.37" stroke="#000" stroke-width="1.6"/>
<line x1="319.88" x2="319.88" y1="373.2" y2="315.37" stroke="#000" stroke-width="1.6"/>
<line x1="322.89" x2="322.89" y1="373.2" y2="314.38" stroke="#000" stroke-width="1.6"/>
<line x1="325.9" x2="325.9" y1="373.2" y2="312.63" stroke="#000" stroke-width="1.6"/>
<line x1="328.91" x2="328.91" y1="373.2" y2="299.42" stroke="#000" stroke-width="1.6"/>
<line x1="331.93" x2="331.93" y1="373.2" y2="283.47" stroke="#000" stroke-width="1.6"/>
<line x1="334.94" x2="334.94" y1="373.2" y2="263.03" stroke="#000" stroke-width="1.6"/>
<circle cx="36.75" cy="454.95" r="1.95" fill="#a01a10" fill-opacity="0.8" stroke="#404040" stroke-width="0.5"/>
<circle cx="39.76" cy="453.96" r="1.95" fill="#a01a10" fill-opacity="0.8" stroke="#404040" stroke-width="0.5"/>
<circle cx="42.77" cy="451.96" r="1.95" fill="#a01a10" fill-opacity="0.8" stroke="#404040" stroke-width="0.5"/>
<circle cx="45.79" cy="440.5" r="1.95" fill="#a01a10" fill-opacity="0.8" stroke="#404040" stroke-width="0.5"/>
<circle cx="48.8" cy="435.51" r="1.95" fill="#a01a10" fill-opacity="0.8" stroke="#404040" stroke-width="0.5"/>
<circle cx="51.81" cy="433.02" r="1.95" fill="#a01a10" fill-opacity="0.8" stroke="#404040" stroke-width="0.5"/>
<circle cx="54.82" cy="433.02" r="1.95" fill="#a01a10" fill-opacity="0.8" stroke="#404040" stroke-width="0.5"/>
<circle cx="57.83" cy="431.52" r="1.95" fill="#a01a10" fill-opacity="0.8" stroke="#404040" stroke-width="0.5"/>
<circle cx="60.85" cy="431.03" r="1.95" fill="#a01a10" fill-opacity="0.8" stroke="#404040" stroke-width="0.5"/>
<circle cx="63.86" cy="423.05" r="1.95" fill="#a01a10" fill-opacity="0.8" stroke="#404040" stroke-width="0.5"/>
<circle cx="66.87" cy="423.05" r="1.95" fill="#a01a10" fill-opacity="0.8" stroke="#404040" stroke-width="0.5"/>
<circle cx="69.88" cy="423.05" r="1.95" fill="#a01a10" fill-opacity="0.8" stroke="#404040" stroke-width="0.5"/>
<circle cx="72.89" cy="419.06" r="1.95" fill="#a01a10" fill-opacity="0.8" stroke="#404040" stroke-width="0.5"/>
<circle cx="75.91" cy="418.06" r="1.95" fill="#a01a10" fill-opacity="0.8" stroke="#404040" stroke-width="0.5"/>
<circle cx="78.92" cy="417.07" r="1.95" fill="#a01a10" fill-opacity="0.8" stroke="#404040" stroke-width="0.5"/>
<circle cx="81.93" cy="416.57" r="1.95" fill="#a01a10" fill-opacity="0.8" stroke="#404040" stroke-width="0.5"/>
<circle cx="84.94" cy="416.57" r="1.95" fill="#a01a10" fill-opacity="0.8" stroke="#404040" stroke-width="0.5"/>
<circle cx="87.95" cy="416.57" r="1.95" fill="#a01a10" fill-opacity="0.8" stroke="#404040" stroke-width="0.5"/>
<circle cx="90.97" cy="416.07" r="1.95" fill="#a01a10" fill-opacity="0.8" stroke="#404040" stroke-width="0.5"/>
<circle cx="93.98" cy="413.58" r="1.95" fill="#a01a10" fill-opacity="0.8" stroke="#404040" stroke-width="0.5"/>
<circle cx="96.99" cy="409.59" r="1.95" fill="#a01a10" fill-opacity="0.8" stroke="#404040" stroke-width="0.5"/>
<circle cx="100" cy="406.1" r="1.95" fill="#a01a10" fill-opacity="0.8" stroke="#404040" stroke-width="0.5"/>
<circle cx="103.01" cy="404.11" r="1.95" fill="#a01a10" fill-opacity="0.8" stroke="#404040" stroke-width="0.5"/>
<circle cx="106.03" cy="402.11" r="1.95" fill="#a01a10" fill-opacity="0.8" stroke="#404040" stroke-width="0.5"/>
<circle cx="109.04" cy="400.62" r="1.95" fill="#a01a10" fill-opacity="0.8" stroke="#404040" stroke-width="0.5"/>
<circle cx="112.05" cy="399.62" r="1.95" fill="#a01a10" fill-opacity="0.8" stroke="#404040" stroke-width="0.5"/>
<circle cx="115.06" cy="398.62" r="1.95" fill="#a01a10" fill-opacity="0.8" stroke="#404040" stroke-width="0.5"/>
<circle cx="118.07" cy="395.63" r="1.95" fill="#a01a10" fill-opacity="0.8" stroke="#404040" stroke-width="0.5"/>
<circle cx="121.09" cy="395.13" r="1.95" fill="#a01a10" fill-opacity="0.8" stroke="#404040" stroke-width="0.5"/>
<circle cx="124.1" cy="394.64" r="1.95" fill="#a01a10" fill-opacity="0.8" stroke="#404040" stroke-width="0.5"/>
<circle cx="127.11" cy="393.14" r="1.95" fill="#a01a10" fill-opacity="0.8" stroke="#404040" stroke-width="0.5"/>
<circle cx="130.12" cy="392.64" r="1.95" fill="#a01a10" fill-opacity="0.8" stroke="#404040" stroke-width="0.5"/>
<circle cx="133.13" cy="390.65" r="1.95" fill="#a01a10" fill-opacity="0.8" stroke="#404040" stroke-width="0.5"/>
<circle cx="136.15" cy="390.15" r="1.95" fill="#a01a10" fill-opacity="0.8" stroke="#404040" stroke-width="0.5"/>
<circle cx="139.16" cy="389.15" r="1.95" fill="#a01a10" fill-opacity="0.8" stroke="#404040" stroke-width="0.5"/>
<circle cx="142.17" cy="387.41" r="1.95" fill="#a01a10" fill-opacity="0.8" stroke="#404040" stroke-width="0.5"/>
<circle cx="145.18" cy="385.16" r="1.95" fill="#a01a10" fill-opacity="0.8" stroke="#404040" stroke-width="0.5"/>
<circle cx="148.19" cy="384.17" r="1.95" fill="#a01a10" fill-opacity="0.8" stroke="#404040" stroke-width="0.5"/>
<circle cx="151.21" cy="381.67" r="1.95" fill="#a01a10" fill-opacity="0.8" stroke="#404040" stroke-width="0.5"/>
<circle cx="154.22" cy="380.18" r="1.95" fill="#a01a10" fill-opacity="0.8" stroke="#404040" stroke-width="0.5"/>
<circle cx="157.23" cy="379.18" r="1.95" fill="#a01a10" fill-opacity="0.8" stroke="#404040" stroke-width="0.5"/>
<circle cx="160.24" cy="378.68" r="1.95" fill="#a01a10" fill-opacity="0.8" stroke="#404040" stroke-width="0.5"/>
<circle cx="163.25" cy="377.94" r="1.95" fill="#a01a10" fill-opacity="0.8" stroke="#404040" stroke-width="0.5"/>
<circle cx="166.27" cy="376.19" r="1.95" fill="#a01a10" fill-opacity="0.8" stroke="#404040" stroke-width="0.5"/>
<circle cx="169.28" cy="375.94" r="1.95" fill="#a01a10" fill-opacity="0.8" stroke="#404040" stroke-width="0.5"/>
<circle cx="172.29" cy="375.44" r="1.95" fill="#a01a10" fill-opacity="0.8" stroke="#404040" stroke-width="0.5"/>
<circle cx="175.3" cy="374.7" r="1.95" fill="#a01a10" fill-opacity="0.8" stroke="#404040" stroke-width="0.5"/>
<circle cx="178.31" cy="373.95" r="1.95" fill="#a01a10" fill-opacity="0.8" stroke="#404040" stroke-width="0.5"/>
<circle cx="181.33" cy="373.3" r="1.95" fill="#a01a10" fill-opacity="0.8" stroke="#404040" stroke-width="0.5"/>
<circle cx="184.34" cy="370.96" r="1.95" fill="#a01a10" fill-opacity="0.8" stroke="#404040" stroke-width="0.5"/>
<circle cx="187.35" cy="369.96" r="1.95" fill="#a01a10" fill-opacity="0.8" stroke="#404040" stroke-width="0.5"/>
<circle cx="190.36" cy="369.96" r="1.95" fill="#a01a10" fill-opacity="0.8" stroke="#404040" stroke-width="0.5"/>
<circle cx="193.37" cy="368.71" r="1.95" fill="#a01a10" fill-opacity="0.8" stroke="#404040" stroke-width="0.5"/>
<circle cx="196.39" cy="365.22" r="1.95" fill="#a01a10" fill-opacity="0.8" stroke="#404040" stroke-width="0.5"/>
<circle cx="199.4" cy="364.23" r="1.95" fill="#a01a10" fill-opacity="0.8" stroke="#404040" stroke-width="0.5"/>
<circle cx="202.41" cy="363.73" r="1.95" fill="#a01a10" fill-opacity="0.8" stroke="#404040" stroke-width="0.5"/>
<circle cx="205.42" cy="363.48" r="1.95" fill="#a01a10" fill-opacity="0.8" stroke="#404040" stroke-width="0.5"/>
<circle cx="208.43" cy="363.23" r="1.95" fill="#a01a10" fill-opacity="0.8" stroke="#404040" stroke-width="0.5"/>
<circle cx="211.45" cy="362.23" r="1.95" fill="#a01a10" fill-opacity="0.8" stroke="#404040" stroke-width="0.5"/>
<circle cx="214.46" cy="360.24" r="1.95" fill="#a01a10" fill-opacity="0.8" stroke="#404040" stroke-width="0.5"/>
<circle cx="217.47" cy="359.74" r="1.95" fill="#a01a10" fill-opacity="0.8" stroke="#404040" stroke-width="0.5"/>
<circle cx="220.48" cy="359.74" r="1.95" fill="#a01a10" fill-opacity="0.8" stroke="#404040" stroke-width="0.5"/>
<circle cx="223.49" cy="359.24" r="1.95" fill="#a01a10" fill-opacity="0.8" stroke="#404040" stroke-width="0.5"/>
<circle cx="226.51" cy="358.25" r="1.95" fill="#a01a10" fill-opacity="0.8" stroke="#404040" stroke-width="0.5"/>
<circle cx="229.52" cy="357.25" r="1.95" fill="#a01a10" fill-opacity="0.8" stroke="#404040" stroke-width="0.5"/>
<circle cx="232.53" cy="356.75" r="1.95" fill="#a01a10" fill-opacity="0.8" stroke="#404040" stroke-width="0.5"/>
<circle cx="235.54" cy="356.5" r="1.95" fill="#a01a10" fill-opacity="0.8" stroke="#404040" stroke-width="0.5"/>
<circle cx="238.55" cy="355.25" r="1.95" fill="#a01a10" fill-opacity="0.8" stroke="#404040" stroke-width="0.5"/>
<circle cx="241.57" cy="355.25" r="1.95" fill="#a01a10" fill-opacity="0.8" stroke="#404040" stroke-width="0.5"/>
<circle cx="244.58" cy="354.76" r="1.95" fill="#a01a10" fill-opacity="0.8" stroke="#404040" stroke-width="0.5"/>
<circle cx="247.59" cy="354.26" r="1.95" fill="#a01a10" fill-opacity="0.8" stroke="#404040" stroke-width="0.5"/>
<circle cx="250.6" cy="354.26" r="1.95" fill="#a01a10" fill-opacity="0.8" stroke="#404040" stroke-width="0.5"/>
<circle cx="253.61" cy="353.76" r="1.95" fill="#a01a10" fill-opacity="0.8" stroke="#404040" stroke-width="0.5"/>
<circle cx="256.63" cy="351.52" r="1.95" fill="#a01a10" fill-opacity="0.8" stroke="#404040" stroke-width="0.5"/>
<circle cx="259.64" cy="351.27" r="1.95" fill="#a01a10" fill-opacity="0.8" stroke="#404040" stroke-width="0.5"/>
<circle cx="262.65" cy="350.77" r="1.95" fill="#a01a10" fill-opacity="0.8" stroke="#404040" stroke-width="0.5"/>
<circle cx="265.66" cy="348.77" r="1.95" fill="#a01a10" fill-opacity="0.8" stroke="#404040" stroke-width="0.5"/>
<circle cx="268.67" cy="348.77" r="1.95" fill="#a01a10" fill-opacity="0.8" stroke="#404040" stroke-width="0.5"/>
<circle cx="271.69" cy="348.03" r="1.95" fill="#a01a10" fill-opacity="0.8" stroke="#404040" stroke-width="0.5"/>
<circle cx="274.7" cy="346.53" r="1.95" fill="#a01a10" fill-opacity="0.8" stroke="#404040" stroke-width="0.5"/>
<circle cx="277.71" cy="344.79" r="1.95" fill="#a01a10" fill-opacity="0.8" stroke="#404040" stroke-width="0.5"/>
<circle cx="280.72" cy="343.29" r="1.95" fill="#a01a10" fill-opacity="0.8" stroke="#404040" stroke-width="0.5"/>
<circle cx="283.73" cy="342.29" r="1.95" fill="#a01a10" fill-opacity="0.8" stroke="#404040" stroke-width="0.5"/>
<circle cx="286.75" cy="339.3" r="1.95" fill="#a01a10" fill-opacity="0.8" stroke="#404040" stroke-width="0.5"/>
<circle cx="289.76" cy="338.8" r="1.95" fill="#a01a10" fill-opacity="0.8" stroke="#404040" stroke-width="0.5"/>
<circle cx="292.77" cy="335.81" r="1.95" fill="#a01a10" fill-opacity="0.8" stroke="#404040" stroke-width="0.5"/>
<circle cx="295.78" cy="331.82" r="1.95" fill="#a01a10" fill-opacity="0.8" stroke="#404040" stroke-width="0.5"/>
<circle cx="298.79" cy="328.83" r="1.95" fill="#a01a10" fill-opacity="0.8" stroke="#404040" stroke-width="0.5"/>
<circle cx="301.81" cy="326.34" r="1.95" fill="#a01a10" fill-opacity="0.8" stroke="#404040" stroke-width="0.5"/>
<circle cx="304.82" cy="325.34" r="1.95" fill="#a01a10" fill-opacity="0.8" stroke="#404040" stroke-width="0.5"/>
<circle cx="307.83" cy="320.36" r="1.95" fill="#a01a10" fill-opacity="0.8" stroke="#404040" stroke-width="0.5"/>
<circle cx="310.84" cy="320.36" r="1.95" fill="#a01a10" fill-opacity="0.8" stroke="#404040" stroke-width="0.5"/>
<circle cx="313.85" cy="317.87" r="1.95" fill="#a01a10" fill-opacity="0.8" stroke="#404040" stroke-width="0.5"/>
<circle cx="316.87" cy="317.37" r="1.95" fill="#a01a10" fill-opacity="0.8" stroke="#404040" stroke-width="0.5"/>
<circle cx="319.88" cy="315.37" r="1.95" fill="#a01a10" fill-opacity="0.8" stroke="#404040" stroke-width="0.5"/>
<circle cx="322.89" cy="314.38" r="1.95" fill="#a01a10" fill-opacity="0.8" stroke="#404040" stroke-width="0.5"/>
<circle cx="325.9" cy="312.63" r="1.95" fill="#a01a10" fill-opacity="0.8" stroke="#404040" stroke-width="0.5"/>
<circle cx="328.91" cy="299.42" r="1.95" fill="#a01a10" fill-opacity="0.8" stroke="#404040" stroke-width="0.5"/>
<circle cx="331.93" cy="283.47" r="1.95" fill="#a01a10" fill-opacity="0.8" stroke="#404040" stroke-width="0.5"/>
<circle cx="334.94" cy="263.03" r="1.95" fill="#a01a10" fill-opacity="0.8" stroke="#404040" stroke-width="0.5"/>
<text font-size="9.27" text-anchor="middle" fill="#000" stroke="#000" stroke-width="0.22" transform="translate(185.8 476.55) scale(1 1.07)">Clone</text>
<text font-size="9.27" text-anchor="middle" fill="#000" stroke="#000" stroke-width="0.22" transform="translate(14.25 359.5) rotate(-90) scale(1 1.07)">TGV</text>
<text font-size="10.5" font-weight="bold" fill="#000" x="0.1" y="251.85">B</text>
<line x1="380.2" x2="682.6" y1="160.12" y2="160.12" stroke="#ebebeb" stroke-width="0.55"/>
<line x1="380.2" x2="682.6" y1="118.38" y2="118.38" stroke="#ebebeb" stroke-width="0.55"/>
<line x1="380.2" x2="682.6" y1="76.62" y2="76.62" stroke="#ebebeb" stroke-width="0.55"/>
<line x1="380.2" x2="682.6" y1="34.88" y2="34.88" stroke="#ebebeb" stroke-width="0.55"/>
<line x1="380.2" x2="682.6" y1="181" y2="181" stroke="#ebebeb" stroke-width="1"/>
<line x1="380.2" x2="682.6" y1="139.25" y2="139.25" stroke="#ebebeb" stroke-width="1"/>
<line x1="380.2" x2="682.6" y1="97.5" y2="97.5" stroke="#ebebeb" stroke-width="1"/>
<line x1="380.2" x2="682.6" y1="55.75" y2="55.75" stroke="#ebebeb" stroke-width="1"/>
<line x1="380.2" x2="682.6" y1="14" y2="14" stroke="#ebebeb" stroke-width="1"/>
<line x1="382.4" x2="382.4" y1="9.3" y2="188.5" stroke="#ebebeb" stroke-width="1"/>
<line x1="385.42" x2="385.42" y1="9.3" y2="188.5" stroke="#ebebeb" stroke-width="1"/>
<line x1="388.44" x2="388.44" y1="9.3" y2="188.5" stroke="#ebebeb" stroke-width="1"/>
<line x1="391.45" x2="391.45" y1="9.3" y2="188.5" stroke="#ebebeb" stroke-width="1"/>
<line x1="394.47" x2="394.47" y1="9.3" y2="188.5" stroke="#ebebeb" stroke-width="1"/>
<line x1="397.49" x2="397.49" y1="9.3" y2="188.5" stroke="#ebebeb" stroke-width="1"/>
<line x1="400.51" x2="400.51" y1="9.3" y2="188.5" stroke="#ebebeb" stroke-width="1"/>
<line x1="403.53" x2="403.53" y1="9.3" y2="188.5" stroke="#ebebeb" stroke-width="1"/>
<line x1="406.54" x2="406.54" y1="9.3" y2="188.5" stroke="#ebebeb" stroke-width="1"/>
<line x1="409.56" x2="409.56" y1="9.3" y2="188.5" stroke="#ebebeb" stroke-width="1"/>
<line x1="412.58" x2="412.58" y1="9.3" y2="188.5" stroke="#ebebeb" stroke-width="1"/>
<line x1="415.6" x2="415.6" y1="9.3" y2="188.5" stroke="#ebebeb" stroke-width="1"/>
<line x1="418.62" x2="418.62" y1="9.3" y2="188.5" stroke="#ebebeb" stroke-width="1"/>
<line x1="421.63" x2="421.63" y1="9.3" y2="188.5" stroke="#ebebeb" stroke-width="1"/>
<line x1="424.65" x2="424.65" y1="9.3" y2="188.5" stroke="#ebebeb" stroke-width="1"/>
<line x1="427.67" x2="427.67" y1="9.3" y2="188.5" stroke="#ebebeb" stroke-width="1"/>
<line x1="430.69" x2="430.69" y1="9.3" y2="188.5" stroke="#ebebeb" stroke-width="1"/>
<line x1="433.71" x2="433.71" y1="9.3" y2="188.5" stroke="#ebebeb" stroke-width="1"/>
<line x1="436.72" x2="436.72" y1="9.3" y2="188.5" stroke="#ebebeb" stroke-width="1"/>
<line x1="439.74" x2="439.74" y1="9.3" y2="188.5" stroke="#ebebeb" stroke-width="1"/>
<line x1="442.76" x2="442.76" y1="9.3" y2="188.5" stroke="#ebebeb" stroke-width="1"/>
<line x1="445.78" x2="445.78" y1="9.3" y2="188.5" stroke="#ebebeb" stroke-width="1"/>
<line x1="448.8" x2="448.8" y1="9.3" y2="188.5" stroke="#ebebeb" stroke-width="1"/>
<line x1="451.81" x2="451.81" y1="9.3" y2="188.5" stroke="#ebebeb" stroke-width="1"/>
<line x1="454.83" x2="454.83" y1="9.3" y2="188.5" stroke="#ebebeb" stroke-width="1"/>
<line x1="457.85" x2="457.85" y1="9.3" y2="188.5" stroke="#ebebeb" stroke-width="1"/>
<line x1="460.87" x2="460.87" y1="9.3" y2="188.5" stroke="#ebebeb" stroke-width="1"/>
<line x1="463.89" x2="463.89" y1="9.3" y2="188.5" stroke="#ebebeb" stroke-width="1"/>
<line x1="466.9" x2="466.9" y1="9.3" y2="188.5" stroke="#ebebeb" stroke-width="1"/>
<line x1="469.92" x2="469.92" y1="9.3" y2="188.5" stroke="#ebebeb" stroke-width="1"/>
<line x1="472.94" x2="472.94" y1="9.3" y2="188.5" stroke="#ebebeb" stroke-width="1"/>
<line x1="475.96" x2="475.96" y1="9.3" y2="188.5" stroke="#ebebeb" stroke-width="1"/>
<line x1="478.98" x2="478.98" y1="9.3" y2="188.5" stroke="#ebebeb" stroke-width="1"/>
<line x1="481.99" x2="481.99" y1="9.3" y2="188.5" stroke="#ebebeb" stroke-width="1"/>
<line x1="485.01" x2="485.01" y1="9.3" y2="188.5" stroke="#ebebeb" stroke-width="1"/>
<line x1="488.03" x2="488.03" y1="9.3" y2="188.5" stroke="#ebebeb" stroke-width="1"/>
<line x1="491.05" x2="491.05" y1="9.3" y2="188.5" stroke="#ebebeb" stroke-width="1"/>
<line x1="494.07" x2="494.07" y1="9.3" y2="188.5" stroke="#ebebeb" stroke-width="1"/>
<line x1="497.08" x2="497.08" y1="9.3" y2="188.5" stroke="#ebebeb" stroke-width="1"/>
<line x1="500.1" x2="500.1" y1="9.3" y2="188.5" stroke="#ebebeb" stroke-width="1"/>
<line x1="503.12" x2="503.12" y1="9.3" y2="188.5" stroke="#ebebeb" stroke-width="1"/>
<line x1="506.14" x2="506.14" y1="9.3" y2="188.5" stroke="#ebebeb" stroke-width="1"/>
<line x1="509.16" x2="509.16" y1="9.3" y2="188.5" stroke="#ebebeb" stroke-width="1"/>
<line x1="512.17" x2="512.17" y1="9.3" y2="188.5" stroke="#ebebeb" stroke-width="1"/>
<line x1="515.19" x2="515.19" y1="9.3" y2="188.5" stroke="#ebebeb" stroke-width="1"/>
<line x1="518.21" x2="518.21" y1="9.3" y2="188.5" stroke="#ebebeb" stroke-width="1"/>
<line x1="521.23" x2="521.23" y1="9.3" y2="188.5" stroke="#ebebeb" stroke-width="1"/>
<line x1="524.25" x2="524.25" y1="9.3" y2="188.5" stroke="#ebebeb" stroke-width="1"/>
<line x1="527.26" x2="527.26" y1="9.3" y2="188.5" stroke="#ebebeb" stroke-width="1"/>
<line x1="530.28" x2="530.28" y1="9.3" y2="188.5" stroke="#ebebeb" stroke-width="1"/>
<line x1="533.3" x2="533.3" y1="9.3" y2="188.5" stroke="#ebebeb" stroke-width="1"/>
<line x1="536.32" x2="536.32" y1="9.3" y2="188.5" stroke="#ebebeb" stroke-width="1"/>
<line x1="539.34" x2="539.34" y1="9.3" y2="188.5" stroke="#ebebeb" stroke-width="1"/>
<line x1="542.35" x2="542.35" y1="9.3" y2="188.5" stroke="#ebebeb" stroke-width="1"/>
<line x1="545.37" x2="545.37" y1="9.3" y2="188.5" stroke="#ebebeb" stroke-width="1"/>
<line x1="548.39" x2="548.39" y1="9.3" y2="188.5" stroke="#ebebeb" stroke-width="1"/>
<line x1="551.41" x2="551.41" y1="9.3" y2="188.5" stroke="#ebebeb" stroke-width="1"/>
<line x1="554.43" x2="554.43" y1="9.3" y2="188.5" stroke="#ebebeb" stroke-width="1"/>
<line x1="557.44" x2="557.44" y1="9.3" y2="188.5" stroke="#ebebeb" stroke-width="1"/>
<line x1="560.46" x2="560.46" y1="9.3" y2="188.5" stroke="#ebebeb" stroke-width="1"/>
<line x1="563.48" x2="563.48" y1="9.3" y2="188.5" stroke="#ebebeb" stroke-width="1"/>
<line x1="566.5" x2="566.5" y1="9.3" y2="188.5" stroke="#ebebeb" stroke-width="1"/>
<line x1="569.52" x2="569.52" y1="9.3" y2="188.5" stroke="#ebebeb" stroke-width="1"/>
<line x1="572.53" x2="572.53" y1="9.3" y2="188.5" stroke="#ebebeb" stroke-width="1"/>
<line x1="575.55" x2="575.55" y1="9.3" y2="188.5" stroke="#ebebeb" stroke-width="1"/>
<line x1="578.57" x2="578.57" y1="9.3" y2="188.5" stroke="#ebebeb" stroke-width="1"/>
<line x1="581.59" x2="581.59" y1="9.3" y2="188.5" stroke="#ebebeb" stroke-width="1"/>
<line x1="584.61" x2="584.61" y1="9.3" y2="188.5" stroke="#ebebeb" stroke-width="1"/>
<line x1="587.62" x2="587.62" y1="9.3" y2="188.5" stroke="#ebebeb" stroke-width="1"/>
<line x1="590.64" x2="590.64" y1="9.3" y2="188.5" stroke="#ebebeb" stroke-width="1"/>
<line x1="593.66" x2="593.66" y1="9.3" y2="188.5" stroke="#ebebeb" stroke-width="1"/>
<line x1="596.68" x2="596.68" y1="9.3" y2="188.5" stroke="#ebebeb" stroke-width="1"/>
<line x1="599.7" x2="599.7" y1="9.3" y2="188.5" stroke="#ebebeb" stroke-width="1"/>
<line x1="602.71" x2="602.71" y1="9.3" y2="188.5" stroke="#ebebeb" stroke-width="1"/>
<line x1="605.73" x2="605.73" y1="9.3" y2="188.5" stroke="#ebebeb" stroke-width="1"/>
<line x1="608.75" x2="608.75" y1="9.3" y2="188.5" stroke="#ebebeb" stroke-width="1"/>
<line x1="611.77" x2="611.77" y1="9.3" y2="188.5" stroke="#ebebeb" stroke-width="1"/>
<line x1="614.79" x2="614.79" y1="9.3" y2="188.5" stroke="#ebebeb" stroke-width="1"/>
<line x1="617.8" x2="617.8" y1="9.3" y2="188.5" stroke="#ebebeb" stroke-width="1"/>
<line x1="620.82" x2="620.82" y1="9.3" y2="188.5" stroke="#ebebeb" stroke-width="1"/>
<line x1="623.84" x2="623.84" y1="9.3" y2="188.5" stroke="#ebebeb" stroke-width="1"/>
<line x1="626.86" x2="626.86" y1="9.3" y2="188.5" stroke="#ebebeb" stroke-width="1"/>
<line x1="629.88" x2="629.88" y1="9.3" y2="188.5" stroke="#ebebeb" stroke-width="1"/>
<line x1="632.89" x2="632.89" y1="9.3" y2="188.5" stroke="#ebebeb" stroke-width="1"/>
<line x1="635.91" x2="635.91" y1="9.3" y2="188.5" stroke="#ebebeb" stroke-width="1"/>
<line x1="638.93" x2="638.93" y1="9.3" y2="188.5" stroke="#ebebeb" stroke-width="1"/>
<line x1="641.95" x2="641.95" y1="9.3" y2="188.5" stroke="#ebebeb" stroke-width="1"/>
<line x1="644.97" x2="644.97" y1="9.3" y2="188.5" stroke="#ebebeb" stroke-width="1"/>
<line x1="647.98" x2="647.98" y1="9.3" y2="188.5" stroke="#ebebeb" stroke-width="1"/>
<line x1="651" x2="651" y1="9.3" y2="188.5" stroke="#ebebeb" stroke-width="1"/>
<line x1="654.02" x2="654.02" y1="9.3" y2="188.5" stroke="#ebebeb" stroke-width="1"/>
<line x1="657.04" x2="657.04" y1="9.3" y2="188.5" stroke="#ebebeb" stroke-width="1"/>
<line x1="660.06" x2="660.06" y1="9.3" y2="188.5" stroke="#ebebeb" stroke-width="1"/>
<line x1="663.07" x2="663.07" y1="9.3" y2="188.5" stroke="#ebebeb" stroke-width="1"/>
<line x1="666.09" x2="666.09" y1="9.3" y2="188.5" stroke="#ebebeb" stroke-width="1"/>
<line x1="669.11" x2="669.11" y1="9.3" y2="188.5" stroke="#ebebeb" stroke-width="1"/>
<line x1="672.13" x2="672.13" y1="9.3" y2="188.5" stroke="#ebebeb" stroke-width="1"/>
<line x1="675.15" x2="675.15" y1="9.3" y2="188.5" stroke="#ebebeb" stroke-width="1"/>
<line x1="678.16" x2="678.16" y1="9.3" y2="188.5" stroke="#ebebeb" stroke-width="1"/>
<line x1="681.18" x2="681.18" y1="9.3" y2="188.5" stroke="#ebebeb" stroke-width="1"/>
<rect x="381.04" y="150.94" width="2.72" height="30.06" fill="#6baed6" stroke="#111" stroke-width="1.0"/>
<rect x="381.04" y="47.4" width="2.72" height="103.54" fill="#edf8e9" stroke="#111" stroke-width="1.0"/>
<rect x="381.04" y="24.02" width="2.72" height="23.38" fill="#fd8d3c" stroke="#111" stroke-width="1.0"/>
<rect x="384.06" y="154.28" width="2.72" height="26.72" fill="#6baed6" stroke="#111" stroke-width="1.0"/>
<rect x="384.06" y="55.75" width="2.72" height="98.53" fill="#edf8e9" stroke="#111" stroke-width="1.0"/>
<rect x="384.06" y="32.37" width="2.72" height="23.38" fill="#fd8d3c" stroke="#111" stroke-width="1.0"/>
<rect x="387.08" y="157.62" width="2.72" height="23.38" fill="#6baed6" stroke="#111" stroke-width="1.0"/>
<rect x="387.08" y="52.41" width="2.72" height="105.21" fill="#edf8e9" stroke="#111" stroke-width="1.0"/>
<rect x="387.08" y="29.03" width="2.72" height="23.38" fill="#fd8d3c" stroke="#111" stroke-width="1.0"/>
<rect x="390.1" y="152.61" width="2.72" height="28.39" fill="#6baed6" stroke="#111" stroke-width="1.0"/>
<rect x="390.1" y="50.74" width="2.72" height="101.87" fill="#edf8e9" stroke="#111" stroke-width="1.0"/>
<rect x="390.1" y="25.69" width="2.72" height="25.05" fill="#fd8d3c" stroke="#111" stroke-width="1.0"/>
<rect x="393.11" y="154.28" width="2.72" height="26.72" fill="#6baed6" stroke="#111" stroke-width="1.0"/>
<rect x="393.11" y="49.07" width="2.72" height="105.21" fill="#edf8e9" stroke="#111" stroke-width="1.0"/>
<rect x="393.11" y="27.36" width="2.72" height="21.71" fill="#fd8d3c" stroke="#111" stroke-width="1.0"/>
<rect x="396.13" y="150.94" width="2.72" height="30.06" fill="#6baed6" stroke="#111" stroke-width="1.0"/>
<rect x="396.13" y="50.74" width="2.72" height="100.2" fill="#edf8e9" stroke="#111" stroke-width="1.0"/>
<rect x="396.13" y="30.7" width="2.72" height="20.04" fill="#fd8d3c" stroke="#111" stroke-width="1.0"/>
<rect x="399.15" y="152.61" width="2.72" height="28.39" fill="#6baed6" stroke="#111" stroke-width="1.0"/>
<rect x="399.15" y="50.74" width="2.72" height="101.87" fill="#edf8e9" stroke="#111" stroke-width="1.0"/>
<rect x="399.15" y="32.37" width="2.72" height="18.37" fill="#fd8d3c" stroke="#111" stroke-width="1.0"/>
<rect x="402.17" y="150.94" width="2.72" height="30.06" fill="#6baed6" stroke="#111" stroke-width="1.0"/>
<rect x="402.17" y="45.73" width="2.72" height="105.21" fill="#edf8e9" stroke="#111" stroke-width="1.0"/>
<rect x="402.17" y="22.35" width="2.72" height="23.38" fill="#fd8d3c" stroke="#111" stroke-width="1.0"/>
<rect x="405.19" y="152.61" width="2.72" height="28.39" fill="#6baed6" stroke="#111" stroke-width="1.0"/>
<rect x="405.19" y="55.75" width="2.72" height="96.86" fill="#edf8e9" stroke="#111" stroke-width="1.0"/>
<rect x="405.19" y="34.04" width="2.72" height="21.71" fill="#fd8d3c" stroke="#111" stroke-width="1.0"/>
<rect x="408.2" y="157.62" width="2.72" height="23.38" fill="#6baed6" stroke="#111" stroke-width="1.0"/>
<rect x="408.2" y="67.44" width="2.72" height="90.18" fill="#edf8e9" stroke="#111" stroke-width="1.0"/>
<rect x="408.2" y="44.06" width="2.72" height="23.38" fill="#fd8d3c" stroke="#111" stroke-width="1.0"/>
<rect x="411.22" y="150.94" width="2.72" height="30.06" fill="#6baed6" stroke="#111" stroke-width="1.0"/>
<rect x="411.22" y="49.07" width="2.72" height="101.87" fill="#edf8e9" stroke="#111" stroke-width="1.0"/>
<rect x="411.22" y="24.02" width="2.72" height="25.05" fill="#fd8d3c" stroke="#111" stroke-width="1.0"/>
<rect x="414.24" y="154.28" width="2.72" height="26.72" fill="#6baed6" stroke="#111" stroke-width="1.0"/>
<rect x="414.24" y="59.09" width="2.72" height="95.19" fill="#edf8e9" stroke="#111" stroke-width="1.0"/>
<rect x="414.24" y="39.05" width="2.72" height="20.04" fill="#fd8d3c" stroke="#111" stroke-width="1.0"/>
<rect x="417.26" y="154.28" width="2.72" height="26.72" fill="#6baed6" stroke="#111" stroke-width="1.0"/>
<rect x="417.26" y="50.74" width="2.72" height="103.54" fill="#edf8e9" stroke="#111" stroke-width="1.0"/>
<rect x="417.26" y="29.03" width="2.72" height="21.71" fill="#fd8d3c" stroke="#111" stroke-width="1.0"/>
<rect x="420.28" y="155.95" width="2.72" height="25.05" fill="#6baed6" stroke="#111" stroke-width="1.0"/>
<rect x="420.28" y="59.09" width="2.72" height="96.86" fill="#edf8e9" stroke="#111" stroke-width="1.0"/>
<rect x="420.28" y="34.04" width="2.72" height="25.05" fill="#fd8d3c" stroke="#111" stroke-width="1.0"/>
<rect x="423.29" y="155.95" width="2.72" height="25.05" fill="#6baed6" stroke="#111" stroke-width="1.0"/>
<rect x="423.29" y="57.42" width="2.72" height="98.53" fill="#edf8e9" stroke="#111" stroke-width="1.0"/>
<rect x="423.29" y="35.71" width="2.72" height="21.71" fill="#fd8d3c" stroke="#111" stroke-width="1.0"/>
<rect x="426.31" y="154.28" width="2.72" height="26.72" fill="#6baed6" stroke="#111" stroke-width="1.0"/>
<rect x="426.31" y="52.41" width="2.72" height="101.87" fill="#edf8e9" stroke="#111" stroke-width="1.0"/>
<rect x="426.31" y="29.03" width="2.72" height="23.38" fill="#fd8d3c" stroke="#111" stroke-width="1.0"/>
<rect x="429.33" y="152.61" width="2.72" height="28.39" fill="#6baed6" stroke="#111" stroke-width="1.0"/>
<rect x="429.33" y="45.73" width="2.72" height="106.88" fill="#edf8e9" stroke="#111" stroke-width="1.0"/>
<rect x="429.33" y="22.35" width="2.72" height="23.38" fill="#fd8d3c" stroke="#111" stroke-width="1.0"/>
<rect x="432.35" y="155.95" width="2.72" height="25.05" fill="#6baed6" stroke="#111" stroke-width="1.0"/>
<rect x="432.35" y="57.42" width="2.72" height="98.53" fill="#edf8e9" stroke="#111" stroke-width="1.0"/>
<rect x="432.35" y="35.71" width="2.72" height="21.71" fill="#fd8d3c" stroke="#111" stroke-width="1.0"/>
<rect x="435.37" y="152.61" width="2.72" height="28.39" fill="#6baed6" stroke="#111" stroke-width="1.0"/>
<rect x="435.37" y="52.41" width="2.72" height="100.2" fill="#edf8e9" stroke="#111" stroke-width="1.0"/>
<rect x="435.37" y="29.03" width="2.72" height="23.38" fill="#fd8d3c" stroke="#111" stroke-width="1.0"/>
<rect x="438.38" y="154.28" width="2.72" height="26.72" fill="#6baed6" stroke="#111" stroke-width="1.0"/>
<rect x="438.38" y="49.07" width="2.72" height="105.21" fill="#edf8e9" stroke="#111" stroke-width="1.0"/>
<rect x="438.38" y="27.36" width="2.72" height="21.71" fill="#fd8d3c" stroke="#111" stroke-width="1.0"/>
<rect x="441.4" y="152.61" width="2.72" height="28.39" fill="#6baed6" stroke="#111" stroke-width="1.0"/>
<rect x="441.4" y="49.07" width="2.72" height="103.54" fill="#edf8e9" stroke="#111" stroke-width="1.0"/>
<rect x="441.4" y="27.36" width="2.72" height="21.71" fill="#fd8d3c" stroke="#111" stroke-width="1.0"/>
<rect x="444.42" y="157.62" width="2.72" height="23.38" fill="#6baed6" stroke="#111" stroke-width="1.0"/>
<rect x="444.42" y="55.75" width="2.72" height="101.87" fill="#edf8e9" stroke="#111" stroke-width="1.0"/>
<rect x="444.42" y="32.37" width="2.72" height="23.38" fill="#fd8d3c" stroke="#111" stroke-width="1.0"/>
<rect x="447.44" y="159.29" width="2.72" height="21.71" fill="#6baed6" stroke="#111" stroke-width="1.0"/>
<rect x="447.44" y="64.1" width="2.72" height="95.19" fill="#edf8e9" stroke="#111" stroke-width="1.0"/>
<rect x="447.44" y="40.72" width="2.72" height="23.38" fill="#fd8d3c" stroke="#111" stroke-width="1.0"/>
<rect x="450.46" y="150.94" width="2.72" height="30.06" fill="#6baed6" stroke="#111" stroke-width="1.0"/>
<rect x="450.46" y="50.74" width="2.72" height="100.2" fill="#edf8e9" stroke="#111" stroke-width="1.0"/>
<rect x="450.46" y="29.03" width="2.72" height="21.71" fill="#fd8d3c" stroke="#111" stroke-width="1.0"/>
<rect x="453.47" y="154.28" width="2.72" height="26.72" fill="#6baed6" stroke="#111" stroke-width="1.0"/>
<rect x="453.47" y="52.41" width="2.72" height="101.87" fill="#edf8e9" stroke="#111" stroke-width="1.0"/>
<rect x="453.47" y="30.7" width="2.72" height="21.71" fill="#fd8d3c" stroke="#111" stroke-width="1.0"/>
<rect x="456.49" y="150.94" width="2.72" height="30.06" fill="#6baed6" stroke="#111" stroke-width="1.0"/>
<rect x="456.49" y="49.07" width="2.72" height="101.87" fill="#edf8e9" stroke="#111" stroke-width="1.0"/>
<rect x="456.49" y="25.69" width="2.72" height="23.38" fill="#fd8d3c" stroke="#111" stroke-width="1.0"/>
<rect x="459.51" y="154.28" width="2.72" height="26.72" fill="#6baed6" stroke="#111" stroke-width="1.0"/>
<rect x="459.51" y="65.77" width="2.72" height="88.51" fill="#edf8e9" stroke="#111" stroke-width="1.0"/>
<rect x="459.51" y="44.06" width="2.72" height="21.71" fill="#fd8d3c" stroke="#111" stroke-width="1.0"/>
<rect x="462.53" y="152.61" width="2.72" height="28.39" fill="#6baed6" stroke="#111" stroke-width="1.0"/>
<rect x="462.53" y="52.41" width="2.72" height="100.2" fill="#edf8e9" stroke="#111" stroke-width="1.0"/>
<rect x="462.53" y="29.03" width="2.72" height="23.38" fill="#fd8d3c" stroke="#111" stroke-width="1.0"/>
<rect x="465.55" y="157.62" width="2.72" height="23.38" fill="#6baed6" stroke="#111" stroke-width="1.0"/>
<rect x="465.55" y="65.77" width="2.72" height="91.85" fill="#edf8e9" stroke="#111" stroke-width="1.0"/>
<rect x="465.55" y="42.39" width="2.72" height="23.38" fill="#fd8d3c" stroke="#111" stroke-width="1.0"/>
<rect x="468.56" y="152.61" width="2.72" height="28.39" fill="#6baed6" stroke="#111" stroke-width="1.0"/>
<rect x="468.56" y="45.73" width="2.72" height="106.88" fill="#edf8e9" stroke="#111" stroke-width="1.0"/>
<rect x="468.56" y="22.35" width="2.72" height="23.38" fill="#fd8d3c" stroke="#111" stroke-width="1.0"/>
<rect x="471.58" y="154.28" width="2.72" height="26.72" fill="#6baed6" stroke="#111" stroke-width="1.0"/>
<rect x="471.58" y="49.07" width="2.72" height="105.21" fill="#edf8e9" stroke="#111" stroke-width="1.0"/>
<rect x="471.58" y="27.36" width="2.72" height="21.71" fill="#fd8d3c" stroke="#111" stroke-width="1.0"/>
<rect x="474.6" y="150.94" width="2.72" height="30.06" fill="#6baed6" stroke="#111" stroke-width="1.0"/>
<rect x="474.6" y="47.4" width="2.72" height="103.54" fill="#edf8e9" stroke="#111" stroke-width="1.0"/>
<rect x="474.6" y="25.69" width="2.72" height="21.71" fill="#fd8d3c" stroke="#111" stroke-width="1.0"/>
<rect x="477.62" y="155.95" width="2.72" height="25.05" fill="#6baed6" stroke="#111" stroke-width="1.0"/>
<rect x="477.62" y="54.08" width="2.72" height="101.87" fill="#edf8e9" stroke="#111" stroke-width="1.0"/>
<rect x="477.62" y="30.7" width="2.72" height="23.38" fill="#fd8d3c" stroke="#111" stroke-width="1.0"/>
<rect x="480.64" y="150.94" width="2.72" height="30.06" fill="#6baed6" stroke="#111" stroke-width="1.0"/>
<rect x="480.64" y="52.41" width="2.72" height="98.53" fill="#edf8e9" stroke="#111" stroke-width="1.0"/>
<rect x="480.64" y="29.03" width="2.72" height="23.38" fill="#fd8d3c" stroke="#111" stroke-width="1.0"/>
<rect x="483.65" y="150.94" width="2.72" height="30.06" fill="#6baed6" stroke="#111" stroke-width="1.0"/>
<rect x="483.65" y="54.08" width="2.72" height="96.86" fill="#edf8e9" stroke="#111" stroke-width="1.0"/>
<rect x="483.65" y="29.03" width="2.72" height="25.05" fill="#fd8d3c" stroke="#111" stroke-width="1.0"/>
<rect x="486.67" y="155.95" width="2.72" height="25.05" fill="#6baed6" stroke="#111" stroke-width="1.0"/>
<rect x="486.67" y="55.75" width="2.72" height="100.2" fill="#edf8e9" stroke="#111" stroke-width="1.0"/>
<rect x="486.67" y="34.04" width="2.72" height="21.71" fill="#fd8d3c" stroke="#111" stroke-width="1.0"/>
<rect x="489.69" y="154.28" width="2.72" height="26.72" fill="#6baed6" stroke="#111" stroke-width="1.0"/>
<rect x="489.69" y="52.41" width="2.72" height="101.87" fill="#edf8e9" stroke="#111" stroke-width="1.0"/>
<rect x="489.69" y="30.7" width="2.72" height="21.71" fill="#fd8d3c" stroke="#111" stroke-width="1.0"/>
<rect x="492.71" y="152.61" width="2.72" height="28.39" fill="#6baed6" stroke="#111" stroke-width="1.0"/>
<rect x="492.71" y="60.76" width="2.72" height="91.85" fill="#edf8e9" stroke="#111" stroke-width="1.0"/>
<rect x="492.71" y="39.05" width="2.72" height="21.71" fill="#fd8d3c" stroke="#111" stroke-width="1.0"/>
<rect x="495.73" y="159.29" width="2.72" height="21.71" fill="#6baed6" stroke="#111" stroke-width="1.0"/>
<rect x="495.73" y="52.41" width="2.72" height="106.88" fill="#edf8e9" stroke="#111" stroke-width="1.0"/>
<rect x="495.73" y="29.03" width="2.72" height="23.38" fill="#fd8d3c" stroke="#111" stroke-width="1.0"/>
<rect x="498.74" y="150.94" width="2.72" height="30.06" fill="#6baed6" stroke="#111" stroke-width="1.0"/>
<rect x="498.74" y="49.07" width="2.72" height="101.87" fill="#edf8e9" stroke="#111" stroke-width="1.0"/>
<rect x="498.74" y="24.02" width="2.72" height="25.05" fill="#fd8d3c" stroke="#111" stroke-width="1.0"/>
<rect x="501.76" y="152.61" width="2.72" height="28.39" fill="#6baed6" stroke="#111" stroke-width="1.0"/>
<rect x="501.76" y="47.4" width="2.72" height="105.21" fill="#edf8e9" stroke="#111" stroke-width="1.0"/>
<rect x="501.76" y="27.36" width="2.72" height="20.04" fill="#fd8d3c" stroke="#111" stroke-width="1.0"/>
<rect x="504.78" y="154.28" width="2.72" height="26.72" fill="#6baed6" stroke="#111" stroke-width="1.0"/>
<rect x="504.78" y="49.07" width="2.72" height="105.21" fill="#edf8e9" stroke="#111" stroke-width="1.0"/>
<rect x="504.78" y="30.7" width="2.72" height="18.37" fill="#fd8d3c" stroke="#111" stroke-width="1.0"/>
<rect x="507.8" y="155.95" width="2.72" height="25.05" fill="#6baed6" stroke="#111" stroke-width="1.0"/>
<rect x="507.8" y="49.07" width="2.72" height="106.88" fill="#edf8e9" stroke="#111" stroke-width="1.0"/>
<rect x="507.8" y="30.7" width="2.72" height="18.37" fill="#fd8d3c" stroke="#111" stroke-width="1.0"/>
<rect x="510.82" y="150.94" width="2.72" height="30.06" fill="#6baed6" stroke="#111" stroke-width="1.0"/>
<rect x="510.82" y="45.73" width="2.72" height="105.21" fill="#edf8e9" stroke="#111" stroke-width="1.0"/>
<rect x="510.82" y="22.35" width="2.72" height="23.38" fill="#fd8d3c" stroke="#111" stroke-width="1.0"/>
<rect x="513.83" y="154.28" width="2.72" height="26.72" fill="#6baed6" stroke="#111" stroke-width="1.0"/>
<rect x="513.83" y="45.73" width="2.72" height="108.55" fill="#edf8e9" stroke="#111" stroke-width="1.0"/>
<rect x="513.83" y="22.35" width="2.72" height="23.38" fill="#fd8d3c" stroke="#111" stroke-width="1.0"/>
<rect x="516.85" y="152.61" width="2.72" height="28.39" fill="#6baed6" stroke="#111" stroke-width="1.0"/>
<rect x="516.85" y="57.42" width="2.72" height="95.19" fill="#edf8e9" stroke="#111" stroke-width="1.0"/>
<rect x="516.85" y="37.38" width="2.72" height="20.04" fill="#fd8d3c" stroke="#111" stroke-width="1.0"/>
<rect x="519.87" y="154.28" width="2.72" height="26.72" fill="#6baed6" stroke="#111" stroke-width="1.0"/>
<rect x="519.87" y="59.09" width="2.72" height="95.19" fill="#edf8e9" stroke="#111" stroke-width="1.0"/>
<rect x="519.87" y="34.04" width="2.72" height="25.05" fill="#fd8d3c" stroke="#111" stroke-width="1.0"/>
<rect x="522.89" y="154.28" width="2.72" height="26.72" fill="#6baed6" stroke="#111" stroke-width="1.0"/>
<rect x="522.89" y="52.41" width="2.72" height="101.87" fill="#edf8e9" stroke="#111" stroke-width="1.0"/>
<rect x="522.89" y="29.03" width="2.72" height="23.38" fill="#fd8d3c" stroke="#111" stroke-width="1.0"/>
<rect x="525.91" y="150.94" width="2.72" height="30.06" fill="#6baed6" stroke="#111" stroke-width="1.0"/>
<rect x="525.91" y="47.4" width="2.72" height="103.54" fill="#edf8e9" stroke="#111" stroke-width="1.0"/>
<rect x="525.91" y="24.02" width="2.72" height="23.38" fill="#fd8d3c" stroke="#111" stroke-width="1.0"/>
<rect x="528.92" y="152.61" width="2.72" height="28.39" fill="#6baed6" stroke="#111" stroke-width="1.0"/>
<rect x="528.92" y="55.75" width="2.72" height="96.86" fill="#edf8e9" stroke="#111" stroke-width="1.0"/>
<rect x="528.92" y="32.37" width="2.72" height="23.38" fill="#fd8d3c" stroke="#111" stroke-width="1.0"/>
<rect x="531.94" y="152.61" width="2.72" height="28.39" fill="#6baed6" stroke="#111" stroke-width="1.0"/>
<rect x="531.94" y="49.07" width="2.72" height="103.54" fill="#edf8e9" stroke="#111" stroke-width="1.0"/>
<rect x="531.94" y="25.69" width="2.72" height="23.38" fill="#fd8d3c" stroke="#111" stroke-width="1.0"/>
<rect x="534.96" y="155.95" width="2.72" height="25.05" fill="#6baed6" stroke="#111" stroke-width="1.0"/>
<rect x="534.96" y="57.42" width="2.72" height="98.53" fill="#edf8e9" stroke="#111" stroke-width="1.0"/>
<rect x="534.96" y="34.04" width="2.72" height="23.38" fill="#fd8d3c" stroke="#111" stroke-width="1.0"/>
<rect x="537.98" y="154.28" width="2.72" height="26.72" fill="#6baed6" stroke="#111" stroke-width="1.0"/>
<rect x="537.98" y="57.42" width="2.72" height="96.86" fill="#edf8e9" stroke="#111" stroke-width="1.0"/>
<rect x="537.98" y="35.71" width="2.72" height="21.71" fill="#fd8d3c" stroke="#111" stroke-width="1.0"/>
<rect x="541" y="150.94" width="2.72" height="30.06" fill="#6baed6" stroke="#111" stroke-width="1.0"/>
<rect x="541" y="44.06" width="2.72" height="106.88" fill="#edf8e9" stroke="#111" stroke-width="1.0"/>
<rect x="541" y="25.69" width="2.72" height="18.37" fill="#fd8d3c" stroke="#111" stroke-width="1.0"/>
<rect x="544.01" y="159.29" width="2.72" height="21.71" fill="#6baed6" stroke="#111" stroke-width="1.0"/>
<rect x="544.01" y="59.09" width="2.72" height="100.2" fill="#edf8e9" stroke="#111" stroke-width="1.0"/>
<rect x="544.01" y="35.71" width="2.72" height="23.38" fill="#fd8d3c" stroke="#111" stroke-width="1.0"/>
<rect x="547.03" y="150.94" width="2.72" height="30.06" fill="#6baed6" stroke="#111" stroke-width="1.0"/>
<rect x="547.03" y="50.74" width="2.72" height="100.2" fill="#edf8e9" stroke="#111" stroke-width="1.0"/>
<rect x="547.03" y="29.03" width="2.72" height="21.71" fill="#fd8d3c" stroke="#111" stroke-width="1.0"/>
<rect x="550.05" y="154.28" width="2.72" height="26.72" fill="#6baed6" stroke="#111" stroke-width="1.0"/>
<rect x="550.05" y="50.74" width="2.72" height="103.54" fill="#edf8e9" stroke="#111" stroke-width="1.0"/>
<rect x="550.05" y="30.7" width="2.72" height="20.04" fill="#fd8d3c" stroke="#111" stroke-width="1.0"/>
<rect x="553.07" y="159.29" width="2.72" height="21.71" fill="#6baed6" stroke="#111" stroke-width="1.0"/>
<rect x="553.07" y="65.77" width="2.72" height="93.52" fill="#edf8e9" stroke="#111" stroke-width="1.0"/>
<rect x="553.07" y="44.06" width="2.72" height="21.71" fill="#fd8d3c" stroke="#111" stroke-width="1.0"/>
<rect x="556.09" y="154.28" width="2.72" height="26.72" fill="#6baed6" stroke="#111" stroke-width="1.0"/>
<rect x="556.09" y="54.08" width="2.72" height="100.2" fill="#edf8e9" stroke="#111" stroke-width="1.0"/>
<rect x="556.09" y="30.7" width="2.72" height="23.38" fill="#fd8d3c" stroke="#111" stroke-width="1.0"/>
<rect x="559.1" y="160.96" width="2.72" height="20.04" fill="#6baed6" stroke="#111" stroke-width="1.0"/>
<rect x="559.1" y="65.77" width="2.72" height="95.19" fill="#edf8e9" stroke="#111" stroke-width="1.0"/>
<rect x="559.1" y="42.39" width="2.72" height="23.38" fill="#fd8d3c" stroke="#111" stroke-width="1.0"/>
<rect x="562.12" y="150.94" width="2.72" height="30.06" fill="#6baed6" stroke="#111" stroke-width="1.0"/>
<rect x="562.12" y="49.07" width="2.72" height="101.87" fill="#edf8e9" stroke="#111" stroke-width="1.0"/>
<rect x="562.12" y="27.36" width="2.72" height="21.71" fill="#fd8d3c" stroke="#111" stroke-width="1.0"/>
<rect x="565.14" y="150.94" width="2.72" height="30.06" fill="#6baed6" stroke="#111" stroke-width="1.0"/>
<rect x="565.14" y="45.73" width="2.72" height="105.21" fill="#edf8e9" stroke="#111" stroke-width="1.0"/>
<rect x="565.14" y="24.02" width="2.72" height="21.71" fill="#fd8d3c" stroke="#111" stroke-width="1.0"/>
<rect x="568.16" y="152.61" width="2.72" height="28.39" fill="#6baed6" stroke="#111" stroke-width="1.0"/>
<rect x="568.16" y="55.75" width="2.72" height="96.86" fill="#edf8e9" stroke="#111" stroke-width="1.0"/>
<rect x="568.16" y="32.37" width="2.72" height="23.38" fill="#fd8d3c" stroke="#111" stroke-width="1.0"/>
<rect x="571.18" y="157.62" width="2.72" height="23.38" fill="#6baed6" stroke="#111" stroke-width="1.0"/>
<rect x="571.18" y="62.43" width="2.72" height="95.19" fill="#edf8e9" stroke="#111" stroke-width="1.0"/>
<rect x="571.18" y="39.05" width="2.72" height="23.38" fill="#fd8d3c" stroke="#111" stroke-width="1.0"/>
<rect x="574.19" y="152.61" width="2.72" height="28.39" fill="#6baed6" stroke="#111" stroke-width="1.0"/>
<rect x="574.19" y="57.42" width="2.72" height="95.19" fill="#edf8e9" stroke="#111" stroke-width="1.0"/>
<rect x="574.19" y="32.37" width="2.72" height="25.05" fill="#fd8d3c" stroke="#111" stroke-width="1.0"/>
<rect x="577.21" y="152.61" width="2.72" height="28.39" fill="#6baed6" stroke="#111" stroke-width="1.0"/>
<rect x="577.21" y="50.74" width="2.72" height="101.87" fill="#edf8e9" stroke="#111" stroke-width="1.0"/>
<rect x="577.21" y="27.36" width="2.72" height="23.38" fill="#fd8d3c" stroke="#111" stroke-width="1.0"/>
<rect x="580.23" y="152.61" width="2.72" height="28.39" fill="#6baed6" stroke="#111" stroke-width="1.0"/>
<rect x="580.23" y="50.74" width="2.72" height="101.87" fill="#edf8e9" stroke="#111" stroke-width="1.0"/>
<rect x="580.23" y="27.36" width="2.72" height="23.38" fill="#fd8d3c" stroke="#111" stroke-width="1.0"/>
<rect x="583.25" y="150.94" width="2.72" height="30.06" fill="#6baed6" stroke="#111" stroke-width="1.0"/>
<rect x="583.25" y="45.73" width="2.72" height="105.21" fill="#edf8e9" stroke="#111" stroke-width="1.0"/>
<rect x="583.25" y="22.35" width="2.72" height="23.38" fill="#fd8d3c" stroke="#111" stroke-width="1.0"/>
<rect x="586.27" y="160.96" width="2.72" height="20.04" fill="#6baed6" stroke="#111" stroke-width="1.0"/>
<rect x="586.27" y="79.13" width="2.72" height="81.83" fill="#edf8e9" stroke="#111" stroke-width="1.0"/>
<rect x="586.27" y="59.09" width="2.72" height="20.04" fill="#fd8d3c" stroke="#111" stroke-width="1.0"/>
<rect x="589.28" y="152.61" width="2.72" height="28.39" fill="#6baed6" stroke="#111" stroke-width="1.0"/>
<rect x="589.28" y="50.74" width="2.72" height="101.87" fill="#edf8e9" stroke="#111" stroke-width="1.0"/>
<rect x="589.28" y="30.7" width="2.72" height="20.04" fill="#fd8d3c" stroke="#111" stroke-width="1.0"/>
<rect x="592.3" y="152.61" width="2.72" height="28.39" fill="#6baed6" stroke="#111" stroke-width="1.0"/>
<rect x="592.3" y="47.4" width="2.72" height="105.21" fill="#edf8e9" stroke="#111" stroke-width="1.0"/>
<rect x="592.3" y="24.02" width="2.72" height="23.38" fill="#fd8d3c" stroke="#111" stroke-width="1.0"/>
<rect x="595.32" y="150.94" width="2.72" height="30.06" fill="#6baed6" stroke="#111" stroke-width="1.0"/>
<rect x="595.32" y="45.73" width="2.72" height="105.21" fill="#edf8e9" stroke="#111" stroke-width="1.0"/>
<rect x="595.32" y="24.02" width="2.72" height="21.71" fill="#fd8d3c" stroke="#111" stroke-width="1.0"/>
<rect x="598.34" y="150.94" width="2.72" height="30.06" fill="#6baed6" stroke="#111" stroke-width="1.0"/>
<rect x="598.34" y="42.39" width="2.72" height="108.55" fill="#edf8e9" stroke="#111" stroke-width="1.0"/>
<rect x="598.34" y="17.34" width="2.72" height="25.05" fill="#fd8d3c" stroke="#111" stroke-width="1.0"/>
<rect x="601.36" y="154.28" width="2.72" height="26.72" fill="#6baed6" stroke="#111" stroke-width="1.0"/>
<rect x="601.36" y="50.74" width="2.72" height="103.54" fill="#edf8e9" stroke="#111" stroke-width="1.0"/>
<rect x="601.36" y="29.03" width="2.72" height="21.71" fill="#fd8d3c" stroke="#111" stroke-width="1.0"/>
<rect x="604.37" y="157.62" width="2.72" height="23.38" fill="#6baed6" stroke="#111" stroke-width="1.0"/>
<rect x="604.37" y="54.08" width="2.72" height="103.54" fill="#edf8e9" stroke="#111" stroke-width="1.0"/>
<rect x="604.37" y="32.37" width="2.72" height="21.71" fill="#fd8d3c" stroke="#111" stroke-width="1.0"/>
<rect x="607.39" y="154.28" width="2.72" height="26.72" fill="#6baed6" stroke="#111" stroke-width="1.0"/>
<rect x="607.39" y="47.4" width="2.72" height="106.88" fill="#edf8e9" stroke="#111" stroke-width="1.0"/>
<rect x="607.39" y="22.35" width="2.72" height="25.05" fill="#fd8d3c" stroke="#111" stroke-width="1.0"/>
<rect x="610.41" y="157.62" width="2.72" height="23.38" fill="#6baed6" stroke="#111" stroke-width="1.0"/>
<rect x="610.41" y="57.42" width="2.72" height="100.2" fill="#edf8e9" stroke="#111" stroke-width="1.0"/>
<rect x="610.41" y="34.04" width="2.72" height="23.38" fill="#fd8d3c" stroke="#111" stroke-width="1.0"/>
<rect x="613.43" y="152.61" width="2.72" height="28.39" fill="#6baed6" stroke="#111" stroke-width="1.0"/>
<rect x="613.43" y="55.75" width="2.72" height="96.86" fill="#edf8e9" stroke="#111" stroke-width="1.0"/>
<rect x="613.43" y="32.37" width="2.72" height="23.38" fill="#fd8d3c" stroke="#111" stroke-width="1.0"/>
<rect x="616.45" y="155.95" width="2.72" height="25.05" fill="#6baed6" stroke="#111" stroke-width="1.0"/>
<rect x="616.45" y="57.42" width="2.72" height="98.53" fill="#edf8e9" stroke="#111" stroke-width="1.0"/>
<rect x="616.45" y="32.37" width="2.72" height="25.05" fill="#fd8d3c" stroke="#111" stroke-width="1.0"/>
<rect x="619.46" y="154.28" width="2.72" height="26.72" fill="#6baed6" stroke="#111" stroke-width="1.0"/>
<rect x="619.46" y="50.74" width="2.72" height="103.54" fill="#edf8e9" stroke="#111" stroke-width="1.0"/>
<rect x="619.46" y="27.36" width="2.72" height="23.38" fill="#fd8d3c" stroke="#111" stroke-width="1.0"/>
<rect x="622.48" y="155.95" width="2.72" height="25.05" fill="#6baed6" stroke="#111" stroke-width="1.0"/>
<rect x="622.48" y="54.08" width="2.72" height="101.87" fill="#edf8e9" stroke="#111" stroke-width="1.0"/>
<rect x="622.48" y="30.7" width="2.72" height="23.38" fill="#fd8d3c" stroke="#111" stroke-width="1.0"/>
<rect x="625.5" y="152.61" width="2.72" height="28.39" fill="#6baed6" stroke="#111" stroke-width="1.0"/>
<rect x="625.5" y="50.74" width="2.72" height="101.87" fill="#edf8e9" stroke="#111" stroke-width="1.0"/>
<rect x="625.5" y="27.36" width="2.72" height="23.38" fill="#fd8d3c" stroke="#111" stroke-width="1.0"/>
<rect x="628.52" y="154.28" width="2.72" height="26.72" fill="#6baed6" stroke="#111" stroke-width="1.0"/>
<rect x="628.52" y="52.41" width="2.72" height="101.87" fill="#edf8e9" stroke="#111" stroke-width="1.0"/>
<rect x="628.52" y="32.37" width="2.72" height="20.04" fill="#fd8d3c" stroke="#111" stroke-width="1.0"/>
<rect x="631.54" y="150.94" width="2.72" height="30.06" fill="#6baed6" stroke="#111" stroke-width="1.0"/>
<rect x="631.54" y="50.74" width="2.72" height="100.2" fill="#edf8e9" stroke="#111" stroke-width="1.0"/>
<rect x="631.54" y="25.69" width="2.72" height="25.05" fill="#fd8d3c" stroke="#111" stroke-width="1.0"/>
<rect x="634.55" y="150.94" width="2.72" height="30.06" fill="#6baed6" stroke="#111" stroke-width="1.0"/>
<rect x="634.55" y="47.4" width="2.72" height="103.54" fill="#edf8e9" stroke="#111" stroke-width="1.0"/>
<rect x="634.55" y="25.69" width="2.72" height="21.71" fill="#fd8d3c" stroke="#111" stroke-width="1.0"/>
<rect x="637.57" y="155.95" width="2.72" height="25.05" fill="#6baed6" stroke="#111" stroke-width="1.0"/>
<rect x="637.57" y="57.42" width="2.72" height="98.53" fill="#edf8e9" stroke="#111" stroke-width="1.0"/>
<rect x="637.57" y="35.71" width="2.72" height="21.71" fill="#fd8d3c" stroke="#111" stroke-width="1.0"/>
<rect x="640.59" y="152.61" width="2.72" height="28.39" fill="#6baed6" stroke="#111" stroke-width="1.0"/>
<rect x="640.59" y="54.08" width="2.72" height="98.53" fill="#edf8e9" stroke="#111" stroke-width="1.0"/>
<rect x="640.59" y="34.04" width="2.72" height="20.04" fill="#fd8d3c" stroke="#111" stroke-width="1.0"/>
<rect x="643.61" y="154.28" width="2.72" height="26.72" fill="#6baed6" stroke="#111" stroke-width="1.0"/>
<rect x="643.61" y="44.06" width="2.72" height="110.22" fill="#edf8e9" stroke="#111" stroke-width="1.0"/>
<rect x="643.61" y="20.68" width="2.72" height="23.38" fill="#fd8d3c" stroke="#111" stroke-width="1.0"/>
<rect x="646.63" y="152.61" width="2.72" height="28.39" fill="#6baed6" stroke="#111" stroke-width="1.0"/>
<rect x="646.63" y="47.4" width="2.72" height="105.21" fill="#edf8e9" stroke="#111" stroke-width="1.0"/>
<rect x="646.63" y="24.02" width="2.72" height="23.38" fill="#fd8d3c" stroke="#111" stroke-width="1.0"/>
<rect x="649.64" y="157.62" width="2.72" height="23.38" fill="#6baed6" stroke="#111" stroke-width="1.0"/>
<rect x="649.64" y="52.41" width="2.72" height="105.21" fill="#edf8e9" stroke="#111" stroke-width="1.0"/>
<rect x="649.64" y="30.7" width="2.72" height="21.71" fill="#fd8d3c" stroke="#111" stroke-width="1.0"/>
<rect x="652.66" y="152.61" width="2.72" height="28.39" fill="#6baed6" stroke="#111" stroke-width="1.0"/>
<rect x="652.66" y="54.08" width="2.72" height="98.53" fill="#edf8e9" stroke="#111" stroke-width="1.0"/>
<rect x="652.66" y="32.37" width="2.72" height="21.71" fill="#fd8d3c" stroke="#111" stroke-width="1.0"/>
<rect x="655.68" y="154.28" width="2.72" height="26.72" fill="#6baed6" stroke="#111" stroke-width="1.0"/>
<rect x="655.68" y="57.42" width="2.72" height="96.86" fill="#edf8e9" stroke="#111" stroke-width="1.0"/>
<rect x="655.68" y="35.71" width="2.72" height="21.71" fill="#fd8d3c" stroke="#111" stroke-width="1.0"/>
<rect x="658.7" y="152.61" width="2.72" height="28.39" fill="#6baed6" stroke="#111" stroke-width="1.0"/>
<rect x="658.7" y="49.07" width="2.72" height="103.54" fill="#edf8e9" stroke="#111" stroke-width="1.0"/>
<rect x="658.7" y="25.69" width="2.72" height="23.38" fill="#fd8d3c" stroke="#111" stroke-width="1.0"/>
<rect x="661.72" y="157.62" width="2.72" height="23.38" fill="#6baed6" stroke="#111" stroke-width="1.0"/>
<rect x="661.72" y="57.42" width="2.72" height="100.2" fill="#edf8e9" stroke="#111" stroke-width="1.0"/>
<rect x="661.72" y="35.71" width="2.72" height="21.71" fill="#fd8d3c" stroke="#111" stroke-width="1.0"/>
<rect x="664.73" y="155.95" width="2.72" height="25.05" fill="#6baed6" stroke="#111" stroke-width="1.0"/>
<rect x="664.73" y="52.41" width="2.72" height="103.54" fill="#edf8e9" stroke="#111" stroke-width="1.0"/>
<rect x="664.73" y="32.37" width="2.72" height="20.04" fill="#fd8d3c" stroke="#111" stroke-width="1.0"/>
<rect x="667.75" y="150.94" width="2.72" height="30.06" fill="#6baed6" stroke="#111" stroke-width="1.0"/>
<rect x="667.75" y="52.41" width="2.72" height="98.53" fill="#edf8e9" stroke="#111" stroke-width="1.0"/>
<rect x="667.75" y="35.71" width="2.72" height="16.7" fill="#fd8d3c" stroke="#111" stroke-width="1.0"/>
<rect x="670.77" y="154.28" width="2.72" height="26.72" fill="#6baed6" stroke="#111" stroke-width="1.0"/>
<rect x="670.77" y="52.41" width="2.72" height="101.87" fill="#edf8e9" stroke="#111" stroke-width="1.0"/>
<rect x="670.77" y="30.7" width="2.72" height="21.71" fill="#fd8d3c" stroke="#111" stroke-width="1.0"/>
<rect x="673.79" y="152.61" width="2.72" height="28.39" fill="#6baed6" stroke="#111" stroke-width="1.0"/>
<rect x="673.79" y="49.07" width="2.72" height="103.54" fill="#edf8e9" stroke="#111" stroke-width="1.0"/>
<rect x="673.79" y="25.69" width="2.72" height="23.38" fill="#fd8d3c" stroke="#111" stroke-width="1.0"/>
<rect x="676.81" y="152.61" width="2.72" height="28.39" fill="#6baed6" stroke="#111" stroke-width="1.0"/>
<rect x="676.81" y="49.07" width="2.72" height="103.54" fill="#edf8e9" stroke="#111" stroke-width="1.0"/>
<rect x="676.81" y="25.69" width="2.72" height="23.38" fill="#fd8d3c" stroke="#111" stroke-width="1.0"/>
<rect x="679.82" y="150.94" width="2.72" height="30.06" fill="#6baed6" stroke="#111" stroke-width="1.0"/>
<rect x="679.82" y="49.07" width="2.72" height="101.87" fill="#edf8e9" stroke="#111" stroke-width="1.0"/>
<rect x="679.82" y="32.37" width="2.72" height="16.7" fill="#fd8d3c" stroke="#111" stroke-width="1.0"/>
<rect x="380.2" y="9.3" width="302.4" height="179.2" fill="none" stroke="#6e6e6e" stroke-width="0.75"/>
<line x1="378" x2="380.2" y1="181" y2="181" stroke="#333" stroke-width="0.9"/>
<text font-size="7.62" text-anchor="end" fill="#4d4d4d" stroke="#4d4d4d" stroke-width="0.22" transform="translate(376.6 184.25) scale(1 1.07)">0</text>
<line x1="378" x2="380.2" y1="139.25" y2="139.25" stroke="#333" stroke-width="0.9"/>
<text font-size="7.62" text-anchor="end" fill="#4d4d4d" stroke="#4d4d4d" stroke-width="0.22" transform="translate(376.6 142.5) scale(1 1.07)">25</text>
<line x1="378" x2="380.2" y1="97.5" y2="97.5" stroke="#333" stroke-width="0.9"/>
<text font-size="7.62" text-anchor="end" fill="#4d4d4d" stroke="#4d4d4d" stroke-width="0.22" transform="translate(376.6 100.75) scale(1 1.07)">50</text>
<line x1="378" x2="380.2" y1="55.75" y2="55.75" stroke="#333" stroke-width="0.9"/>
<text font-size="7.62" text-anchor="end" fill="#4d4d4d" stroke="#4d4d4d" stroke-width="0.22" transform="translate(376.6 59) scale(1 1.07)">75</text>
<line x1="378" x2="380.2" y1="14" y2="14" stroke="#333" stroke-width="0.9"/>
<text font-size="7.62" text-anchor="end" fill="#4d4d4d" stroke="#4d4d4d" stroke-width="0.22" transform="translate(376.6 17.25) scale(1 1.07)">100</text>
<line x1="382.4" x2="382.4" y1="188.5" y2="191.4" stroke="#333" stroke-width="0.9"/>
<line x1="385.42" x2="385.42" y1="188.5" y2="191.4" stroke="#333" stroke-width="0.9"/>
<line x1="388.44" x2="388.44" y1="188.5" y2="191.4" stroke="#333" stroke-width="0.9"/>
<line x1="391.45" x2="391.45" y1="188.5" y2="191.4" stroke="#333" stroke-width="0.9"/>
<line x1="394.47" x2="394.47" y1="188.5" y2="191.4" stroke="#333" stroke-width="0.9"/>
<line x1="397.49" x2="397.49" y1="188.5" y2="191.4" stroke="#333" stroke-width="0.9"/>
<line x1="400.51" x2="400.51" y1="188.5" y2="191.4" stroke="#333" stroke-width="0.9"/>
<line x1="403.53" x2="403.53" y1="188.5" y2="191.4" stroke="#333" stroke-width="0.9"/>
<line x1="406.54" x2="406.54" y1="188.5" y2="191.4" stroke="#333" stroke-width="0.9"/>
<line x1="409.56" x2="409.56" y1="188.5" y2="191.4" stroke="#333" stroke-width="0.9"/>
<line x1="412.58" x2="412.58" y1="188.5" y2="191.4" stroke="#333" stroke-width="0.9"/>
<line x1="415.6" x2="415.6" y1="188.5" y2="191.4" stroke="#333" stroke-width="0.9"/>
<line x1="418.62" x2="418.62" y1="188.5" y2="191.4" stroke="#333" stroke-width="0.9"/>
<line x1="421.63" x2="421.63" y1="188.5" y2="191.4" stroke="#333" stroke-width="0.9"/>
<line x1="424.65" x2="424.65" y1="188.5" y2="191.4" stroke="#333" stroke-width="0.9"/>
<line x1="427.67" x2="427.67" y1="188.5" y2="191.4" stroke="#333" stroke-width="0.9"/>
<line x1="430.69" x2="430.69" y1="188.5" y2="191.4" stroke="#333" stroke-width="0.9"/>
<line x1="433.71" x2="433.71" y1="188.5" y2="191.4" stroke="#333" stroke-width="0.9"/>
<line x1="436.72" x2="436.72" y1="188.5" y2="191.4" stroke="#333" stroke-width="0.9"/>
<line x1="439.74" x2="439.74" y1="188.5" y2="191.4" stroke="#333" stroke-width="0.9"/>
<line x1="442.76" x2="442.76" y1="188.5" y2="191.4" stroke="#333" stroke-width="0.9"/>
<line x1="445.78" x2="445.78" y1="188.5" y2="191.4" stroke="#333" stroke-width="0.9"/>
<line x1="448.8" x2="448.8" y1="188.5" y2="191.4" stroke="#333" stroke-width="0.9"/>
<line x1="451.81" x2="451.81" y1="188.5" y2="191.4" stroke="#333" stroke-width="0.9"/>
<line x1="454.83" x2="454.83" y1="188.5" y2="191.4" stroke="#333" stroke-width="0.9"/>
<line x1="457.85" x2="457.85" y1="188.5" y2="191.4" stroke="#333" stroke-width="0.9"/>
<line x1="460.87" x2="460.87" y1="188.5" y2="191.4" stroke="#333" stroke-width="0.9"/>
<line x1="463.89" x2="463.89" y1="188.5" y2="191.4" stroke="#333" stroke-width="0.9"/>
<line x1="466.9" x2="466.9" y1="188.5" y2="191.4" stroke="#333" stroke-width="0.9"/>
<line x1="469.92" x2="469.92" y1="188.5" y2="191.4" stroke="#333" stroke-width="0.9"/>
<line x1="472.94" x2="472.94" y1="188.5" y2="191.4" stroke="#333" stroke-width="0.9"/>
<line x1="475.96" x2="475.96" y1="188.5" y2="191.4" stroke="#333" stroke-width="0.9"/>
<line x1="478.98" x2="478.98" y1="188.5" y2="191.4" stroke="#333" stroke-width="0.9"/>
<line x1="481.99" x2="481.99" y1="188.5" y2="191.4" stroke="#333" stroke-width="0.9"/>
<line x1="485.01" x2="485.01" y1="188.5" y2="191.4" stroke="#333" stroke-width="0.9"/>
<line x1="488.03" x2="488.03" y1="188.5" y2="191.4" stroke="#333" stroke-width="0.9"/>
<line x1="491.05" x2="491.05" y1="188.5" y2="191.4" stroke="#333" stroke-width="0.9"/>
<line x1="494.07" x2="494.07" y1="188.5" y2="191.4" stroke="#333" stroke-width="0.9"/>
<line x1="497.08" x2="497.08" y1="188.5" y2="191.4" stroke="#333" stroke-width="0.9"/>
<line x1="500.1" x2="500.1" y1="188.5" y2="191.4" stroke="#333" stroke-width="0.9"/>
<line x1="503.12" x2="503.12" y1="188.5" y2="191.4" stroke="#333" stroke-width="0.9"/>
<line x1="506.14" x2="506.14" y1="188.5" y2="191.4" stroke="#333" stroke-width="0.9"/>
<line x1="509.16" x2="509.16" y1="188.5" y2="191.4" stroke="#333" stroke-width="0.9"/>
<line x1="512.17" x2="512.17" y1="188.5" y2="191.4" stroke="#333" stroke-width="0.9"/>
<line x1="515.19" x2="515.19" y1="188.5" y2="191.4" stroke="#333" stroke-width="0.9"/>
<line x1="518.21" x2="518.21" y1="188.5" y2="191.4" stroke="#333" stroke-width="0.9"/>
<line x1="521.23" x2="521.23" y1="188.5" y2="191.4" stroke="#333" stroke-width="0.9"/>
<line x1="524.25" x2="524.25" y1="188.5" y2="191.4" stroke="#333" stroke-width="0.9"/>
<line x1="527.26" x2="527.26" y1="188.5" y2="191.4" stroke="#333" stroke-width="0.9"/>
<line x1="530.28" x2="530.28" y1="188.5" y2="191.4" stroke="#333" stroke-width="0.9"/>
<line x1="533.3" x2="533.3" y1="188.5" y2="191.4" stroke="#333" stroke-width="0.9"/>
<line x1="536.32" x2="536.32" y1="188.5" y2="191.4" stroke="#333" stroke-width="0.9"/>
<line x1="539.34" x2="539.34" y1="188.5" y2="191.4" stroke="#333" stroke-width="0.9"/>
<line x1="542.35" x2="542.35" y1="188.5" y2="191.4" stroke="#333" stroke-width="0.9"/>
<line x1="545.37" x2="545.37" y1="188.5" y2="191.4" stroke="#333" stroke-width="0.9"/>
<line x1="548.39" x2="548.39" y1="188.5" y2="191.4" stroke="#333" stroke-width="0.9"/>
<line x1="551.41" x2="551.41" y1="188.5" y2="191.4" stroke="#333" stroke-width="0.9"/>
<line x1="554.43" x2="554.43" y1="188.5" y2="191.4" stroke="#333" stroke-width="0.9"/>
<line x1="557.44" x2="557.44" y1="188.5" y2="191.4" stroke="#333" stroke-width="0.9"/>
<line x1="560.46" x2="560.46" y1="188.5" y2="191.4" stroke="#333" stroke-width="0.9"/>
<line x1="563.48" x2="563.48" y1="188.5" y2="191.4" stroke="#333" stroke-width="0.9"/>
<line x1="566.5" x2="566.5" y1="188.5" y2="191.4" stroke="#333" stroke-width="0.9"/>
<line x1="569.52" x2="569.52" y1="188.5" y2="191.4" stroke="#333" stroke-width="0.9"/>
<line x1="572.53" x2="572.53" y1="188.5" y2="191.4" stroke="#333" stroke-width="0.9"/>
<line x1="575.55" x2="575.55" y1="188.5" y2="191.4" stroke="#333" stroke-width="0.9"/>
<line x1="578.57" x2="578.57" y1="188.5" y2="191.4" stroke="#333" stroke-width="0.9"/>
<line x1="581.59" x2="581.59" y1="188.5" y2="191.4" stroke="#333" stroke-width="0.9"/>
<line x1="584.61" x2="584.61" y1="188.5" y2="191.4" stroke="#333" stroke-width="0.9"/>
<line x1="587.62" x2="587.62" y1="188.5" y2="191.4" stroke="#333" stroke-width="0.9"/>
<line x1="590.64" x2="590.64" y1="188.5" y2="191.4" stroke="#333" stroke-width="0.9"/>
<line x1="593.66" x2="593.66" y1="188.5" y2="191.4" stroke="#333" stroke-width="0.9"/>
<line x1="596.68" x2="596.68" y1="188.5" y2="191.4" stroke="#333" stroke-width="0.9"/>
<line x1="599.7" x2="599.7" y1="188.5" y2="191.4" stroke="#333" stroke-width="0.9"/>
<line x1="602.71" x2="602.71" y1="188.5" y2="191.4" stroke="#333" stroke-width="0.9"/>
<line x1="605.73" x2="605.73" y1="188.5" y2="191.4" stroke="#333" stroke-width="0.9"/>
<line x1="608.75" x2="608.75" y1="188.5" y2="191.4" stroke="#333" stroke-width="0.9"/>
<line x1="611.77" x2="611.77" y1="188.5" y2="191.4" stroke="#333" stroke-width="0.9"/>
<line x1="614.79" x2="614.79" y1="188.5" y2="191.4" stroke="#333" stroke-width="0.9"/>
<line x1="617.8" x2="617.8" y1="188.5" y2="191.4" stroke="#333" stroke-width="0.9"/>
<line x1="620.82" x2="620.82" y1="188.5" y2="191.4" stroke="#333" stroke-width="0.9"/>
<line x1="623.84" x2="623.84" y1="188.5" y2="191.4" stroke="#333" stroke-width="0.9"/>
<line x1="626.86" x2="626.86" y1="188.5" y2="191.4" stroke="#333" stroke-width="0.9"/>
<line x1="629.88" x2="629.88" y1="188.5" y2="191.4" stroke="#333" stroke-width="0.9"/>
<line x1="632.89" x2="632.89" y1="188.5" y2="191.4" stroke="#333" stroke-width="0.9"/>
<line x1="635.91" x2="635.91" y1="188.5" y2="191.4" stroke="#333" stroke-width="0.9"/>
<line x1="638.93" x2="638.93" y1="188.5" y2="191.4" stroke="#333" stroke-width="0.9"/>
<line x1="641.95" x2="641.95" y1="188.5" y2="191.4" stroke="#333" stroke-width="0.9"/>
<line x1="644.97" x2="644.97" y1="188.5" y2="191.4" stroke="#333" stroke-width="0.9"/>
<line x1="647.98" x2="647.98" y1="188.5" y2="191.4" stroke="#333" stroke-width="0.9"/>
<line x1="651" x2="651" y1="188.5" y2="191.4" stroke="#333" stroke-width="0.9"/>
<line x1="654.02" x2="654.02" y1="188.5" y2="191.4" stroke="#333" stroke-width="0.9"/>
<line x1="657.04" x2="657.04" y1="188.5" y2="191.4" stroke="#333" stroke-width="0.9"/>
<line x1="660.06" x2="660.06" y1="188.5" y2="191.4" stroke="#333" stroke-width="0.9"/>
<line x1="663.07" x2="663.07" y1="188.5" y2="191.4" stroke="#333" stroke-width="0.9"/>
<line x1="666.09" x2="666.09" y1="188.5" y2="191.4" stroke="#333" stroke-width="0.9"/>
<line x1="669.11" x2="669.11" y1="188.5" y2="191.4" stroke="#333" stroke-width="0.9"/>
<line x1="672.13" x2="672.13" y1="188.5" y2="191.4" stroke="#333" stroke-width="0.9"/>
<line x1="675.15" x2="675.15" y1="188.5" y2="191.4" stroke="#333" stroke-width="0.9"/>
<line x1="678.16" x2="678.16" y1="188.5" y2="191.4" stroke="#333" stroke-width="0.9"/>
<line x1="681.18" x2="681.18" y1="188.5" y2="191.4" stroke="#333" stroke-width="0.9"/>
<text font-size="9.17" text-anchor="middle" fill="#000" font-weight="bold" transform="translate(531.4 200.35) scale(1 1.07)">Clone</text>
<text font-size="8.96" text-anchor="middle" fill="#000" font-weight="bold" transform="translate(360.65 99) rotate(-90) scale(1 1.07)">No. neighbours</text>
<text font-size="10.5" font-weight="bold" fill="#000" x="345.4" y="8">C</text>
<text font-size="9.06" text-anchor="start" fill="#000" stroke="#000" stroke-width="0.22" transform="translate(431.8 226.15) scale(1 1.07)">Class</text>
<rect x="459.4" y="216.4" width="13.2" height="13.0" fill="#fd8d3c" stroke="#1a1a1a" stroke-width="0.8"/>
<text font-size="7.42" text-anchor="start" fill="#000" stroke="#000" stroke-width="0.22" transform="translate(478 225.15) scale(1 1.07)">Aggressive</text>
<rect x="519.2" y="216.4" width="13.2" height="13.0" fill="#edf8e9" stroke="#1a1a1a" stroke-width="0.8"/>
<text font-size="7.42" text-anchor="start" fill="#000" stroke="#000" stroke-width="0.22" transform="translate(537.8 225.15) scale(1 1.07)">Homeostatic</text>
<rect x="583.2" y="216.4" width="13.2" height="13.0" fill="#6baed6" stroke="#1a1a1a" stroke-width="0.8"/>
<text font-size="7.42" text-anchor="start" fill="#000" stroke="#000" stroke-width="0.22" transform="translate(601.8 225.15) scale(1 1.07)">Sensitive</text>
<line x1="410.77" x2="410.77" y1="253.3" y2="456.5" stroke="#ebebeb" stroke-width="0.55"/>
<line x1="438.62" x2="438.62" y1="253.3" y2="456.5" stroke="#ebebeb" stroke-width="0.55"/>
<line x1="466.48" x2="466.48" y1="253.3" y2="456.5" stroke="#ebebeb" stroke-width="0.55"/>
<line x1="494.33" x2="494.33" y1="253.3" y2="456.5" stroke="#ebebeb" stroke-width="0.55"/>
<line x1="386.8" x2="509.5" y1="425" y2="425" stroke="#ebebeb" stroke-width="0.55"/>
<line x1="386.8" x2="509.5" y1="380" y2="380" stroke="#ebebeb" stroke-width="0.55"/>
<line x1="386.8" x2="509.5" y1="335" y2="335" stroke="#ebebeb" stroke-width="0.55"/>
<line x1="386.8" x2="509.5" y1="290" y2="290" stroke="#ebebeb" stroke-width="0.55"/>
<line x1="396.85" x2="396.85" y1="253.3" y2="456.5" stroke="#ebebeb" stroke-width="1"/>
<line x1="424.7" x2="424.7" y1="253.3" y2="456.5" stroke="#ebebeb" stroke-width="1"/>
<line x1="452.55" x2="452.55" y1="253.3" y2="456.5" stroke="#ebebeb" stroke-width="1"/>
<line x1="480.4" x2="480.4" y1="253.3" y2="456.5" stroke="#ebebeb" stroke-width="1"/>
<line x1="508.25" x2="508.25" y1="253.3" y2="456.5" stroke="#ebebeb" stroke-width="1"/>
<line x1="386.8" x2="509.5" y1="447.5" y2="447.5" stroke="#ebebeb" stroke-width="1"/>
<line x1="386.8" x2="509.5" y1="402.5" y2="402.5" stroke="#ebebeb" stroke-width="1"/>
<line x1="386.8" x2="509.5" y1="357.5" y2="357.5" stroke="#ebebeb" stroke-width="1"/>
<line x1="386.8" x2="509.5" y1="312.5" y2="312.5" stroke="#ebebeb" stroke-width="1"/>
<line x1="386.8" x2="509.5" y1="267.5" y2="267.5" stroke="#ebebeb" stroke-width="1"/>
<polygon points="391.73,440.86 391.94,440.77 392.16,440.68 392.38,440.59 392.6,440.49 392.82,440.4 393.04,440.3 393.26,440.2 393.48,440.1 393.7,440 393.92,439.89 394.14,439.78 394.35,439.67 394.57,439.55 394.79,439.43 395.01,439.31 395.23,439.18 395.45,439.04 395.67,438.9 395.89,438.75 396.11,438.6 396.33,438.44 396.55,438.27 396.76,438.1 396.98,437.92 397.2,437.73 397.42,437.53 397.64,437.33 397.86,437.11 398.08,436.89 398.3,436.66 398.52,436.42 398.74,436.17 398.96,435.92 399.17,435.65 399.39,435.38 399.61,435.09 399.83,434.8 400.05,434.49 400.27,434.18 400.49,433.86 400.71,433.53 400.93,433.18 401.15,432.83 401.37,432.48 401.58,432.11 401.8,431.73 402.02,431.35 402.24,430.95 402.46,430.55 402.68,430.15 402.9,429.73 403.12,429.31 403.34,428.88 403.56,428.44 403.78,428 403.99,427.55 404.21,427.1 404.43,426.64 404.65,426.18 404.87,425.71 405.09,425.24 405.31,424.76 405.53,424.29 405.75,423.8 405.97,423.32 406.19,422.83 406.4,422.35 406.62,421.86 406.84,421.36 407.06,420.87 407.28,420.38 407.5,419.89 407.72,419.39 407.94,418.9 408.16,418.4 408.38,417.91 408.6,417.42 408.81,416.92 409.03,416.43 409.25,415.94 409.47,415.45 409.69,414.96 409.91,414.47 410.13,413.98 410.35,413.49 410.57,413 410.79,412.51 411.01,412.03 411.22,411.54 411.44,411.05 411.66,410.56 411.88,410.07 412.1,409.58 412.32,409.09 412.54,408.6 412.76,408.11 412.98,407.61 413.2,407.11 413.42,406.61 413.63,406.11 413.85,405.6 414.07,405.09 414.29,404.58 414.51,404.06 414.73,403.53 414.95,403 415.17,402.47 415.39,401.93 415.61,401.39 415.83,400.83 416.05,400.27 416.26,399.71 416.48,399.14 416.7,398.55 416.92,397.97 417.14,397.37 417.36,396.76 417.58,396.15 417.8,395.52 418.02,394.89 418.24,394.25 418.46,393.6 418.67,392.93 418.89,392.26 419.11,391.58 419.33,390.89 419.55,390.18 419.77,389.47 419.99,388.74 420.21,388.01 420.43,387.26 420.65,386.51 420.87,385.74 421.08,384.96 421.3,384.17 421.52,383.37 421.74,382.56 421.96,381.74 422.18,380.9 422.4,380.06 422.62,379.2 422.84,378.34 423.06,377.46 423.28,376.58 423.49,375.68 423.71,374.77 423.93,373.86 424.15,372.93 424.37,371.99 424.59,371.04 424.81,370.09 425.03,369.12 425.25,368.15 425.47,367.16 425.69,366.17 425.9,365.17 426.12,364.16 426.34,363.14 426.56,362.12 426.78,361.08 427,360.04 427.22,358.99 427.44,357.93 427.66,356.87 427.88,355.8 428.1,354.72 428.31,353.63 428.53,352.54 428.75,351.44 428.97,350.34 429.19,349.23 429.41,348.12 429.63,347 429.85,345.87 430.07,344.74 430.29,343.61 430.51,342.47 430.72,341.33 430.94,340.18 431.16,339.03 431.22,338.75 431.22,447.5 391.73,447.5" fill="#f98b38" fill-opacity="0.8"/>
<polygon points="431.22,338.75 431.38,337.88 431.6,336.72 431.82,335.56 432.04,334.4 432.26,333.24 432.48,332.07 432.7,330.9 432.92,329.73 433.13,328.56 433.35,327.39 433.57,326.22 433.79,325.05 434.01,323.87 434.23,322.7 434.45,321.53 434.67,320.36 434.89,319.19 435.11,318.02 435.33,316.85 435.54,315.68 435.76,314.52 435.98,313.36 436.2,312.2 436.42,311.04 436.64,309.89 436.86,308.74 437.08,307.6 437.3,306.46 437.52,305.32 437.74,304.19 437.95,303.07 438.17,301.95 438.39,300.83 438.61,299.73 438.83,298.63 439.05,297.54 439.27,296.45 439.49,295.38 439.71,294.31 439.93,293.25 440.15,292.2 440.36,291.16 440.58,290.13 440.8,289.12 441.02,288.11 441.24,287.12 441.46,286.13 441.68,285.16 441.9,284.21 442.12,283.26 442.34,282.34 442.56,281.42 442.77,280.52 442.99,279.64 443.21,278.78 443.43,277.93 443.65,277.09 443.87,276.28 444.09,275.48 444.31,274.71 444.53,273.95 444.75,273.21 444.97,272.5 445.18,271.8 445.4,271.12 445.62,270.47 445.84,269.84 446.06,269.23 446.28,268.65 446.5,268.09 446.72,267.55 446.94,267.04 447.16,266.56 447.38,266.1 447.59,265.66 447.81,265.25 448.03,264.87 448.25,264.51 448.47,264.18 448.69,263.88 448.91,263.61 449.13,263.36 449.35,263.14 449.57,262.95 449.79,262.78 450,262.65 450.22,262.54 450.44,262.46 450.66,262.41 450.88,262.38 451.1,262.38 451.32,262.41 451.54,262.47 451.76,262.56 451.98,262.67 452.2,262.81 452.41,262.98 452.63,263.17 452.85,263.39 453.07,263.63 453.29,263.9 453.51,264.19 453.73,264.51 453.95,264.85 454.17,265.21 454.39,265.6 454.61,266.01 454.82,266.44 455.04,266.89 455.26,267.36 455.48,267.85 455.7,268.36 455.92,268.89 456.14,269.44 456.36,270 456.58,270.58 456.8,271.18 457.02,271.79 457.23,272.42 457.45,273.06 457.67,273.71 457.89,274.37 458.11,275.05 458.33,275.73 458.55,276.43 458.77,277.14 458.99,277.85 459.21,278.58 459.43,279.31 459.64,280.04 459.86,280.79 460.08,281.54 460.3,282.29 460.52,283.05 460.74,283.82 460.96,284.59 461.18,285.36 461.4,286.13 461.62,286.91 461.84,287.68 462.05,288.46 462.27,289.24 462.49,290.02 462.71,290.81 462.93,291.59 463.15,292.37 463.37,293.15 463.59,293.93 463.81,294.71 464.03,295.49 464.25,296.27 464.46,297.05 464.68,297.82 464.9,298.6 465.12,299.37 465.34,300.15 465.56,300.92 465.78,301.69 466,302.46 466.22,303.23 466.44,304 466.66,304.77 466.87,305.54 467.09,306.31 467.31,307.07 467.53,307.84 467.75,308.61 467.97,309.38 468.19,310.15 468.41,310.92 468.63,311.69 468.85,312.46 469.07,313.24 469.28,314.02 469.5,314.79 469.72,315.58 469.94,316.36 470.16,317.15 470.38,317.94 470.6,318.73 470.82,319.53 471.04,320.33 471.26,321.13 471.48,321.94 471.69,322.75 471.91,323.57 472.13,324.39 472.35,325.22 472.57,326.05 472.79,326.89 472.88,327.23 472.88,447.5 431.22,447.5" fill="#edf8e9" fill-opacity="0.8"/>
<polygon points="472.88,327.23 473.01,327.73 473.23,328.57 473.45,329.43 473.67,330.28 473.89,331.15 474.1,332.02 474.32,332.89 474.54,333.77 474.76,334.65 474.98,335.55 475.2,336.44 475.42,337.34 475.64,338.25 475.86,339.17 476.08,340.09 476.3,341.01 476.51,341.94 476.73,342.88 476.95,343.82 477.17,344.77 477.39,345.72 477.61,346.68 477.83,347.64 478.05,348.61 478.27,349.58 478.49,350.56 478.71,351.54 478.92,352.53 479.14,353.52 479.36,354.52 479.58,355.52 479.8,356.53 480.02,357.54 480.24,358.55 480.46,359.57 480.68,360.59 480.9,361.62 481.12,362.65 481.34,363.69 481.55,364.72 481.77,365.77 481.99,366.81 482.21,367.86 482.43,368.91 482.65,369.96 482.87,371.01 483.09,372.07 483.31,373.13 483.53,374.19 483.75,375.26 483.96,376.32 484.18,377.39 484.4,378.45 484.62,379.52 484.84,380.59 485.06,381.65 485.28,382.72 485.5,383.79 485.72,384.85 485.94,385.91 486.16,386.98 486.37,388.03 486.59,389.09 486.81,390.15 487.03,391.2 487.25,392.24 487.47,393.28 487.69,394.32 487.91,395.35 488.13,396.38 488.35,397.4 488.57,398.42 488.78,399.42 489,400.42 489.22,401.41 489.44,402.4 489.66,403.37 489.88,404.34 490.1,405.29 490.32,406.24 490.54,407.17 490.76,408.09 490.98,409 491.19,409.9 491.41,410.79 491.63,411.66 491.85,412.53 492.07,413.37 492.29,414.21 492.51,415.03 492.73,415.83 492.95,416.63 493.17,417.4 493.39,418.16 493.6,418.91 493.82,419.64 494.04,420.36 494.26,421.06 494.48,421.74 494.7,422.41 494.92,423.06 495.14,423.7 495.36,424.32 495.58,424.93 495.8,425.52 496.01,426.09 496.23,426.65 496.45,427.2 496.67,427.73 496.89,428.24 497.11,428.74 497.33,429.22 497.55,429.69 497.77,430.15 497.99,430.59 498.21,431.02 498.42,431.44 498.64,431.84 498.86,432.23 499.08,432.61 499.3,432.98 499.52,433.33 499.74,433.68 499.96,434.01 500.18,434.33 500.4,434.64 500.62,434.95 500.83,435.24 501.05,435.53 501.27,435.8 501.49,436.07 501.71,436.33 501.93,436.59 502.15,436.84 502.37,437.08 502.59,437.31 502.81,437.54 503.03,437.76 503.24,437.98 503.46,438.19 503.68,438.4 503.68,447.5 472.88,447.5" fill="#68acd5" fill-opacity="0.8"/>
<polyline points="391.73,440.86 391.94,440.77 392.16,440.68 392.38,440.59 392.6,440.49 392.82,440.4 393.04,440.3 393.26,440.2 393.48,440.1 393.7,440 393.92,439.89 394.14,439.78 394.35,439.67 394.57,439.55 394.79,439.43 395.01,439.31 395.23,439.18 395.45,439.04 395.67,438.9 395.89,438.75 396.11,438.6 396.33,438.44 396.55,438.27 396.76,438.1 396.98,437.92 397.2,437.73 397.42,437.53 397.64,437.33 397.86,437.11 398.08,436.89 398.3,436.66 398.52,436.42 398.74,436.17 398.96,435.92 399.17,435.65 399.39,435.38 399.61,435.09 399.83,434.8 400.05,434.49 400.27,434.18 400.49,433.86 400.71,433.53 400.93,433.18 401.15,432.83 401.37,432.48 401.58,432.11 401.8,431.73 402.02,431.35 402.24,430.95 402.46,430.55 402.68,430.15 402.9,429.73 403.12,429.31 403.34,428.88 403.56,428.44 403.78,428 403.99,427.55 404.21,427.1 404.43,426.64 404.65,426.18 404.87,425.71 405.09,425.24 405.31,424.76 405.53,424.29 405.75,423.8 405.97,423.32 406.19,422.83 406.4,422.35 406.62,421.86 406.84,421.36 407.06,420.87 407.28,420.38 407.5,419.89 407.72,419.39 407.94,418.9 408.16,418.4 408.38,417.91 408.6,417.42 408.81,416.92 409.03,416.43 409.25,415.94 409.47,415.45 409.69,414.96 409.91,414.47 410.13,413.98 410.35,413.49 410.57,413 410.79,412.51 411.01,412.03 411.22,411.54 411.44,411.05 411.66,410.56 411.88,410.07 412.1,409.58 412.32,409.09 412.54,408.6 412.76,408.11 412.98,407.61 413.2,407.11 413.42,406.61 413.63,406.11 413.85,405.6 414.07,405.09 414.29,404.58 414.51,404.06 414.73,403.53 414.95,403 415.17,402.47 415.39,401.93 415.61,401.39 415.83,400.83 416.05,400.27 416.26,399.71 416.48,399.14 416.7,398.55 416.92,397.97 417.14,397.37 417.36,396.76 417.58,396.15 417.8,395.52 418.02,394.89 418.24,394.25 418.46,393.6 418.67,392.93 418.89,392.26 419.11,391.58 419.33,390.89 419.55,390.18 419.77,389.47 419.99,388.74 420.21,388.01 420.43,387.26 420.65,386.51 420.87,385.74 421.08,384.96 421.3,384.17 421.52,383.37 421.74,382.56 421.96,381.74 422.18,380.9 422.4,380.06 422.62,379.2 422.84,378.34 423.06,377.46 423.28,376.58 423.49,375.68 423.71,374.77 423.93,373.86 424.15,372.93 424.37,371.99 424.59,371.04 424.81,370.09 425.03,369.12 425.25,368.15 425.47,367.16 425.69,366.17 425.9,365.17 426.12,364.16 426.34,363.14 426.56,362.12 426.78,361.08 427,360.04 427.22,358.99 427.44,357.93 427.66,356.87 427.88,355.8 428.1,354.72 428.31,353.63 428.53,352.54 428.75,351.44 428.97,350.34 429.19,349.23 429.41,348.12 429.63,347 429.85,345.87 430.07,344.74 430.29,343.61 430.51,342.47 430.72,341.33 430.94,340.18 431.16,339.03 431.38,337.88 431.6,336.72 431.82,335.56 432.04,334.4 432.26,333.24 432.48,332.07 432.7,330.9 432.92,329.73 433.13,328.56 433.35,327.39 433.57,326.22 433.79,325.05 434.01,323.87 434.23,322.7 434.45,321.53 434.67,320.36 434.89,319.19 435.11,318.02 435.33,316.85 435.54,315.68 435.76,314.52 435.98,313.36 436.2,312.2 436.42,311.04 436.64,309.89 436.86,308.74 437.08,307.6 437.3,306.46 437.52,305.32 437.74,304.19 437.95,303.07 438.17,301.95 438.39,300.83 438.61,299.73 438.83,298.63 439.05,297.54 439.27,296.45 439.49,295.38 439.71,294.31 439.93,293.25 440.15,292.2 440.36,291.16 440.58,290.13 440.8,289.12 441.02,288.11 441.24,287.12 441.46,286.13 441.68,285.16 441.9,284.21 442.12,283.26 442.34,282.34 442.56,281.42 442.77,280.52 442.99,279.64 443.21,278.78 443.43,277.93 443.65,277.09 443.87,276.28 444.09,275.48 444.31,274.71 444.53,273.95 444.75,273.21 444.97,272.5 445.18,271.8 445.4,271.12 445.62,270.47 445.84,269.84 446.06,269.23 446.28,268.65 446.5,268.09 446.72,267.55 446.94,267.04 447.16,266.56 447.38,266.1 447.59,265.66 447.81,265.25 448.03,264.87 448.25,264.51 448.47,264.18 448.69,263.88 448.91,263.61 449.13,263.36 449.35,263.14 449.57,262.95 449.79,262.78 450,262.65 450.22,262.54 450.44,262.46 450.66,262.41 450.88,262.38 451.1,262.38 451.32,262.41 451.54,262.47 451.76,262.56 451.98,262.67 452.2,262.81 452.41,262.98 452.63,263.17 452.85,263.39 453.07,263.63 453.29,263.9 453.51,264.19 453.73,264.51 453.95,264.85 454.17,265.21 454.39,265.6 454.61,266.01 454.82,266.44 455.04,266.89 455.26,267.36 455.48,267.85 455.7,268.36 455.92,268.89 456.14,269.44 456.36,270 456.58,270.58 456.8,271.18 457.02,271.79 457.23,272.42 457.45,273.06 457.67,273.71 457.89,274.37 458.11,275.05 458.33,275.73 458.55,276.43 458.77,277.14 458.99,277.85 459.21,278.58 459.43,279.31 459.64,280.04 459.86,280.79 460.08,281.54 460.3,282.29 460.52,283.05 460.74,283.82 460.96,284.59 461.18,285.36 461.4,286.13 461.62,286.91 461.84,287.68 462.05,288.46 462.27,289.24 462.49,290.02 462.71,290.81 462.93,291.59 463.15,292.37 463.37,293.15 463.59,293.93 463.81,294.71 464.03,295.49 464.25,296.27 464.46,297.05 464.68,297.82 464.9,298.6 465.12,299.37 465.34,300.15 465.56,300.92 465.78,301.69 466,302.46 466.22,303.23 466.44,304 466.66,304.77 466.87,305.54 467.09,306.31 467.31,307.07 467.53,307.84 467.75,308.61 467.97,309.38 468.19,310.15 468.41,310.92 468.63,311.69 468.85,312.46 469.07,313.24 469.28,314.02 469.5,314.79 469.72,315.58 469.94,316.36 470.16,317.15 470.38,317.94 470.6,318.73 470.82,319.53 471.04,320.33 471.26,321.13 471.48,321.94 471.69,322.75 471.91,323.57 472.13,324.39 472.35,325.22 472.57,326.05 472.79,326.89 473.01,327.73 473.23,328.57 473.45,329.43 473.67,330.28 473.89,331.15 474.1,332.02 474.32,332.89 474.54,333.77 474.76,334.65 474.98,335.55 475.2,336.44 475.42,337.34 475.64,338.25 475.86,339.17 476.08,340.09 476.3,341.01 476.51,341.94 476.73,342.88 476.95,343.82 477.17,344.77 477.39,345.72 477.61,346.68 477.83,347.64 478.05,348.61 478.27,349.58 478.49,350.56 478.71,351.54 478.92,352.53 479.14,353.52 479.36,354.52 479.58,355.52 479.8,356.53 480.02,357.54 480.24,358.55 480.46,359.57 480.68,360.59 480.9,361.62 481.12,362.65 481.34,363.69 481.55,364.72 481.77,365.77 481.99,366.81 482.21,367.86 482.43,368.91 482.65,369.96 482.87,371.01 483.09,372.07 483.31,373.13 483.53,374.19 483.75,375.26 483.96,376.32 484.18,377.39 484.4,378.45 484.62,379.52 484.84,380.59 485.06,381.65 485.28,382.72 485.5,383.79 485.72,384.85 485.94,385.91 486.16,386.98 486.37,388.03 486.59,389.09 486.81,390.15 487.03,391.2 487.25,392.24 487.47,393.28 487.69,394.32 487.91,395.35 488.13,396.38 488.35,397.4 488.57,398.42 488.78,399.42 489,400.42 489.22,401.41 489.44,402.4 489.66,403.37 489.88,404.34 490.1,405.29 490.32,406.24 490.54,407.17 490.76,408.09 490.98,409 491.19,409.9 491.41,410.79 491.63,411.66 491.85,412.53 492.07,413.37 492.29,414.21 492.51,415.03 492.73,415.83 492.95,416.63 493.17,417.4 493.39,418.16 493.6,418.91 493.82,419.64 494.04,420.36 494.26,421.06 494.48,421.74 494.7,422.41 494.92,423.06 495.14,423.7 495.36,424.32 495.58,424.93 495.8,425.52 496.01,426.09 496.23,426.65 496.45,427.2 496.67,427.73 496.89,428.24 497.11,428.74 497.33,429.22 497.55,429.69 497.77,430.15 497.99,430.59 498.21,431.02 498.42,431.44 498.64,431.84 498.86,432.23 499.08,432.61 499.3,432.98 499.52,433.33 499.74,433.68 499.96,434.01 500.18,434.33 500.4,434.64 500.62,434.95 500.83,435.24 501.05,435.53 501.27,435.8 501.49,436.07 501.71,436.33 501.93,436.59 502.15,436.84 502.37,437.08 502.59,437.31 502.81,437.54 503.03,437.76 503.24,437.98 503.46,438.19 503.68,438.4" fill="none" stroke="#000" stroke-width="1.9" stroke-linejoin="round"/>
<text font-size="7.62" text-anchor="end" fill="#4d4d4d" stroke="#4d4d4d" stroke-width="0.22" transform="translate(383.4 451.2) scale(1 1.07)">0.000</text>
<text font-size="7.62" text-anchor="end" fill="#4d4d4d" stroke="#4d4d4d" stroke-width="0.22" transform="translate(383.4 406.2) scale(1 1.07)">0.025</text>
<text font-size="7.62" text-anchor="end" fill="#4d4d4d" stroke="#4d4d4d" stroke-width="0.22" transform="translate(383.4 361.2) scale(1 1.07)">0.050</text>
<text font-size="7.62" text-anchor="end" fill="#4d4d4d" stroke="#4d4d4d" stroke-width="0.22" transform="translate(383.4 316.2) scale(1 1.07)">0.075</text>
<text font-size="7.62" text-anchor="end" fill="#4d4d4d" stroke="#4d4d4d" stroke-width="0.22" transform="translate(383.4 271.2) scale(1 1.07)">0.100</text>
<text font-size="7.62" text-anchor="middle" fill="#4d4d4d" stroke="#4d4d4d" stroke-width="0.22" transform="translate(396.85 466.65) scale(1 1.07)">−10</text>
<text font-size="7.62" text-anchor="middle" fill="#4d4d4d" stroke="#4d4d4d" stroke-width="0.22" transform="translate(424.7 466.65) scale(1 1.07)">−5</text>
<text font-size="7.62" text-anchor="middle" fill="#4d4d4d" stroke="#4d4d4d" stroke-width="0.22" transform="translate(452.55 466.65) scale(1 1.07)">0</text>
<text font-size="7.62" text-anchor="middle" fill="#4d4d4d" stroke="#4d4d4d" stroke-width="0.22" transform="translate(480.4 466.65) scale(1 1.07)">5</text>
<text font-size="7.62" text-anchor="middle" fill="#4d4d4d" stroke="#4d4d4d" stroke-width="0.22" transform="translate(508.25 466.65) scale(1 1.07)">10</text>
<text font-size="9.27" text-anchor="middle" fill="#000" stroke="#000" stroke-width="0.22" transform="translate(448.15 476.15) scale(1 1.07)">IGE</text>
<text font-size="9.27" text-anchor="middle" fill="#000" stroke="#000" stroke-width="0.22" transform="translate(360.15 355) rotate(-90) scale(1 1.07)">Density</text>
<text font-size="10.5" font-weight="bold" fill="#000" x="345.9" y="251.85">D</text>
<line x1="578.4" x2="578.4" y1="253.2" y2="456.8" stroke="#ebebeb" stroke-width="0.55"/>
<line x1="607.8" x2="607.8" y1="253.2" y2="456.8" stroke="#ebebeb" stroke-width="0.55"/>
<line x1="637.2" x2="637.2" y1="253.2" y2="456.8" stroke="#ebebeb" stroke-width="0.55"/>
<line x1="666.6" x2="666.6" y1="253.2" y2="456.8" stroke="#ebebeb" stroke-width="0.55"/>
<line x1="553" x2="682.6" y1="418.8" y2="418.8" stroke="#ebebeb" stroke-width="0.55"/>
<line x1="553" x2="682.6" y1="349" y2="349" stroke="#ebebeb" stroke-width="0.55"/>
<line x1="553" x2="682.6" y1="279.2" y2="279.2" stroke="#ebebeb" stroke-width="0.55"/>
<line x1="563.7" x2="563.7" y1="253.2" y2="456.8" stroke="#ebebeb" stroke-width="1"/>
<line x1="593.1" x2="593.1" y1="253.2" y2="456.8" stroke="#ebebeb" stroke-width="1"/>
<line x1="622.5" x2="622.5" y1="253.2" y2="456.8" stroke="#ebebeb" stroke-width="1"/>
<line x1="651.9" x2="651.9" y1="253.2" y2="456.8" stroke="#ebebeb" stroke-width="1"/>
<line x1="681.3" x2="681.3" y1="253.2" y2="456.8" stroke="#ebebeb" stroke-width="1"/>
<line x1="553" x2="682.6" y1="453.7" y2="453.7" stroke="#ebebeb" stroke-width="1"/>
<line x1="553" x2="682.6" y1="383.9" y2="383.9" stroke="#ebebeb" stroke-width="1"/>
<line x1="553" x2="682.6" y1="314.1" y2="314.1" stroke="#ebebeb" stroke-width="1"/>
<circle cx="558.29" cy="262.03" r="2.2" fill="#fd8d3c" stroke="#111" stroke-width="0.6"/>
<circle cx="580.05" cy="284.85" r="2.2" fill="#fd8d3c" stroke="#111" stroke-width="0.6"/>
<circle cx="575.93" cy="290.3" r="2.2" fill="#fd8d3c" stroke="#111" stroke-width="0.6"/>
<circle cx="587.1" cy="292.67" r="2.2" fill="#fd8d3c" stroke="#111" stroke-width="0.6"/>
<circle cx="617.09" cy="297.45" r="2.2" fill="#edf8e9" stroke="#111" stroke-width="0.6"/>
<circle cx="602.98" cy="304.26" r="2.2" fill="#edf8e9" stroke="#111" stroke-width="0.6"/>
<circle cx="575.93" cy="313.12" r="2.2" fill="#fd8d3c" stroke="#111" stroke-width="0.6"/>
<circle cx="585.04" cy="321.29" r="2.2" fill="#fd8d3c" stroke="#111" stroke-width="0.6"/>
<circle cx="590.63" cy="326.38" r="2.2" fill="#fd8d3c" stroke="#111" stroke-width="0.6"/>
<circle cx="596.51" cy="326.38" r="2.2" fill="#fd8d3c" stroke="#111" stroke-width="0.6"/>
<circle cx="615.33" cy="334.24" r="2.2" fill="#edf8e9" stroke="#111" stroke-width="0.6"/>
<circle cx="634.14" cy="337.62" r="2.2" fill="#edf8e9" stroke="#111" stroke-width="0.6"/>
<circle cx="598.86" cy="337.62" r="2.2" fill="#fd8d3c" stroke="#111" stroke-width="0.6"/>
<circle cx="598.57" cy="338.98" r="2.2" fill="#fd8d3c" stroke="#111" stroke-width="0.6"/>
<circle cx="607.39" cy="344.78" r="2.2" fill="#edf8e9" stroke="#111" stroke-width="0.6"/>
<circle cx="621.79" cy="346.49" r="2.2" fill="#edf8e9" stroke="#111" stroke-width="0.6"/>
<circle cx="603.57" cy="350.57" r="2.2" fill="#edf8e9" stroke="#111" stroke-width="0.6"/>
<circle cx="608.86" cy="351.27" r="2.2" fill="#edf8e9" stroke="#111" stroke-width="0.6"/>
<circle cx="577.69" cy="351.27" r="2.2" fill="#fd8d3c" stroke="#111" stroke-width="0.6"/>
<circle cx="590.04" cy="351.27" r="2.2" fill="#fd8d3c" stroke="#111" stroke-width="0.6"/>
<circle cx="594.16" cy="352.28" r="2.2" fill="#fd8d3c" stroke="#111" stroke-width="0.6"/>
<circle cx="615.91" cy="352.28" r="2.2" fill="#edf8e9" stroke="#111" stroke-width="0.6"/>
<circle cx="604.74" cy="353.29" r="2.2" fill="#edf8e9" stroke="#111" stroke-width="0.6"/>
<circle cx="631.2" cy="353.64" r="2.2" fill="#edf8e9" stroke="#111" stroke-width="0.6"/>
<circle cx="628.26" cy="353.64" r="2.2" fill="#edf8e9" stroke="#111" stroke-width="0.6"/>
<circle cx="623.56" cy="358.42" r="2.2" fill="#edf8e9" stroke="#111" stroke-width="0.6"/>
<circle cx="615.03" cy="362.86" r="2.2" fill="#edf8e9" stroke="#111" stroke-width="0.6"/>
<circle cx="607.39" cy="365.23" r="2.2" fill="#edf8e9" stroke="#111" stroke-width="0.6"/>
<circle cx="621.79" cy="365.89" r="2.2" fill="#edf8e9" stroke="#111" stroke-width="0.6"/>
<circle cx="609.45" cy="365.89" r="2.2" fill="#edf8e9" stroke="#111" stroke-width="0.6"/>
<circle cx="615.91" cy="367.25" r="2.2" fill="#edf8e9" stroke="#111" stroke-width="0.6"/>
<circle cx="609.45" cy="369.31" r="2.2" fill="#edf8e9" stroke="#111" stroke-width="0.6"/>
<circle cx="630.91" cy="370.32" r="2.2" fill="#edf8e9" stroke="#111" stroke-width="0.6"/>
<circle cx="591.22" cy="371.69" r="2.2" fill="#fd8d3c" stroke="#111" stroke-width="0.6"/>
<circle cx="613.56" cy="375.11" r="2.2" fill="#edf8e9" stroke="#111" stroke-width="0.6"/>
<circle cx="619.74" cy="378.18" r="2.2" fill="#edf8e9" stroke="#111" stroke-width="0.6"/>
<circle cx="633.55" cy="378.18" r="2.2" fill="#edf8e9" stroke="#111" stroke-width="0.6"/>
<circle cx="604.15" cy="378.18" r="2.2" fill="#edf8e9" stroke="#111" stroke-width="0.6"/>
<circle cx="628.26" cy="379.19" r="2.2" fill="#edf8e9" stroke="#111" stroke-width="0.6"/>
<circle cx="621.21" cy="379.19" r="2.2" fill="#edf8e9" stroke="#111" stroke-width="0.6"/>
<circle cx="626.5" cy="379.54" r="2.2" fill="#edf8e9" stroke="#111" stroke-width="0.6"/>
<circle cx="612.09" cy="379.89" r="2.2" fill="#edf8e9" stroke="#111" stroke-width="0.6"/>
<circle cx="616.5" cy="380.55" r="2.2" fill="#edf8e9" stroke="#111" stroke-width="0.6"/>
<circle cx="626.5" cy="380.55" r="2.2" fill="#edf8e9" stroke="#111" stroke-width="0.6"/>
<circle cx="644.14" cy="380.9" r="2.2" fill="#6baed6" stroke="#111" stroke-width="0.6"/>
<circle cx="620.32" cy="381.25" r="2.2" fill="#edf8e9" stroke="#111" stroke-width="0.6"/>
<circle cx="633.55" cy="381.91" r="2.2" fill="#edf8e9" stroke="#111" stroke-width="0.6"/>
<circle cx="650.31" cy="382.92" r="2.2" fill="#6baed6" stroke="#111" stroke-width="0.6"/>
<circle cx="624.73" cy="383.97" r="2.2" fill="#edf8e9" stroke="#111" stroke-width="0.6"/>
<circle cx="612.68" cy="385.33" r="2.2" fill="#edf8e9" stroke="#111" stroke-width="0.6"/>
<circle cx="598.57" cy="386.69" r="2.2" fill="#fd8d3c" stroke="#111" stroke-width="0.6"/>
<circle cx="625.91" cy="387.36" r="2.2" fill="#edf8e9" stroke="#111" stroke-width="0.6"/>
<circle cx="604.15" cy="387.7" r="2.2" fill="#edf8e9" stroke="#111" stroke-width="0.6"/>
<circle cx="650.31" cy="391.12" r="2.2" fill="#6baed6" stroke="#111" stroke-width="0.6"/>
<circle cx="609.45" cy="392.14" r="2.2" fill="#edf8e9" stroke="#111" stroke-width="0.6"/>
<circle cx="616.5" cy="392.8" r="2.2" fill="#edf8e9" stroke="#111" stroke-width="0.6"/>
<circle cx="615.62" cy="393.85" r="2.2" fill="#edf8e9" stroke="#111" stroke-width="0.6"/>
<circle cx="600.04" cy="393.85" r="2.2" fill="#edf8e9" stroke="#111" stroke-width="0.6"/>
<circle cx="604.15" cy="394.51" r="2.2" fill="#edf8e9" stroke="#111" stroke-width="0.6"/>
<circle cx="641.2" cy="396.22" r="2.2" fill="#edf8e9" stroke="#111" stroke-width="0.6"/>
<circle cx="628.26" cy="396.22" r="2.2" fill="#edf8e9" stroke="#111" stroke-width="0.6"/>
<circle cx="645.02" cy="397.23" r="2.2" fill="#6baed6" stroke="#111" stroke-width="0.6"/>
<circle cx="620.32" cy="397.58" r="2.2" fill="#edf8e9" stroke="#111" stroke-width="0.6"/>
<circle cx="625.91" cy="399.64" r="2.2" fill="#edf8e9" stroke="#111" stroke-width="0.6"/>
<circle cx="640.02" cy="399.64" r="2.2" fill="#edf8e9" stroke="#111" stroke-width="0.6"/>
<circle cx="637.96" cy="400.65" r="2.2" fill="#edf8e9" stroke="#111" stroke-width="0.6"/>
<circle cx="621.21" cy="404.39" r="2.2" fill="#edf8e9" stroke="#111" stroke-width="0.6"/>
<circle cx="595.92" cy="404.74" r="2.2" fill="#fd8d3c" stroke="#111" stroke-width="0.6"/>
<circle cx="630.91" cy="405.75" r="2.2" fill="#edf8e9" stroke="#111" stroke-width="0.6"/>
<circle cx="648.84" cy="410.88" r="2.2" fill="#6baed6" stroke="#111" stroke-width="0.6"/>
<circle cx="654.13" cy="412.24" r="2.2" fill="#6baed6" stroke="#111" stroke-width="0.6"/>
<circle cx="641.79" cy="412.24" r="2.2" fill="#edf8e9" stroke="#111" stroke-width="0.6"/>
<circle cx="619.74" cy="413.25" r="2.2" fill="#edf8e9" stroke="#111" stroke-width="0.6"/>
<circle cx="630.91" cy="415.62" r="2.2" fill="#edf8e9" stroke="#111" stroke-width="0.6"/>
<circle cx="610.62" cy="415.62" r="2.2" fill="#edf8e9" stroke="#111" stroke-width="0.6"/>
<circle cx="645.61" cy="416.67" r="2.2" fill="#6baed6" stroke="#111" stroke-width="0.6"/>
<circle cx="657.07" cy="418.03" r="2.2" fill="#6baed6" stroke="#111" stroke-width="0.6"/>
<circle cx="641.2" cy="418.03" r="2.2" fill="#edf8e9" stroke="#111" stroke-width="0.6"/>
<circle cx="656.49" cy="419.39" r="2.2" fill="#6baed6" stroke="#111" stroke-width="0.6"/>
<circle cx="656.49" cy="419.39" r="2.2" fill="#6baed6" stroke="#111" stroke-width="0.6"/>
<circle cx="638.85" cy="420.41" r="2.2" fill="#edf8e9" stroke="#111" stroke-width="0.6"/>
<circle cx="659.43" cy="421.42" r="2.2" fill="#6baed6" stroke="#111" stroke-width="0.6"/>
<circle cx="608.86" cy="422.12" r="2.2" fill="#edf8e9" stroke="#111" stroke-width="0.6"/>
<circle cx="628.26" cy="422.78" r="2.2" fill="#edf8e9" stroke="#111" stroke-width="0.6"/>
<circle cx="621.21" cy="424.49" r="2.2" fill="#edf8e9" stroke="#111" stroke-width="0.6"/>
<circle cx="650.9" cy="425.5" r="2.2" fill="#6baed6" stroke="#111" stroke-width="0.6"/>
<circle cx="665.6" cy="426.55" r="2.2" fill="#6baed6" stroke="#111" stroke-width="0.6"/>
<circle cx="624.15" cy="428.92" r="2.2" fill="#edf8e9" stroke="#111" stroke-width="0.6"/>
<circle cx="622.68" cy="429.27" r="2.2" fill="#edf8e9" stroke="#111" stroke-width="0.6"/>
<circle cx="615.62" cy="430.28" r="2.2" fill="#edf8e9" stroke="#111" stroke-width="0.6"/>
<circle cx="647.08" cy="431.29" r="2.2" fill="#6baed6" stroke="#111" stroke-width="0.6"/>
<circle cx="640.02" cy="431.29" r="2.2" fill="#edf8e9" stroke="#111" stroke-width="0.6"/>
<circle cx="635.02" cy="431.64" r="2.2" fill="#edf8e9" stroke="#111" stroke-width="0.6"/>
<circle cx="635.02" cy="431.64" r="2.2" fill="#edf8e9" stroke="#111" stroke-width="0.6"/>
<circle cx="645.61" cy="431.64" r="2.2" fill="#6baed6" stroke="#111" stroke-width="0.6"/>
<circle cx="657.07" cy="432.66" r="2.2" fill="#6baed6" stroke="#111" stroke-width="0.6"/>
<circle cx="634.14" cy="434.02" r="2.2" fill="#edf8e9" stroke="#111" stroke-width="0.6"/>
<circle cx="676.48" cy="435.06" r="2.2" fill="#6baed6" stroke="#111" stroke-width="0.6"/>
<circle cx="644.14" cy="444.94" r="2.2" fill="#6baed6" stroke="#111" stroke-width="0.6"/>
<circle cx="638.55" cy="447.31" r="2.2" fill="#edf8e9" stroke="#111" stroke-width="0.6"/>
<text font-size="7.62" text-anchor="end" fill="#4d4d4d" stroke="#4d4d4d" stroke-width="0.22" transform="translate(549.6 316.95) scale(1 1.07)">20</text>
<text font-size="7.62" text-anchor="end" fill="#4d4d4d" stroke="#4d4d4d" stroke-width="0.22" transform="translate(549.6 386.75) scale(1 1.07)">0</text>
<text font-size="7.62" text-anchor="end" fill="#4d4d4d" stroke="#4d4d4d" stroke-width="0.22" transform="translate(549.6 456.55) scale(1 1.07)">−20</text>
<text font-size="7.62" text-anchor="middle" fill="#4d4d4d" stroke="#4d4d4d" stroke-width="0.22" transform="translate(563.7 466.65) scale(1 1.07)">−10</text>
<text font-size="7.62" text-anchor="middle" fill="#4d4d4d" stroke="#4d4d4d" stroke-width="0.22" transform="translate(593.1 466.65) scale(1 1.07)">−5</text>
<text font-size="7.62" text-anchor="middle" fill="#4d4d4d" stroke="#4d4d4d" stroke-width="0.22" transform="translate(622.5 466.65) scale(1 1.07)">0</text>
<text font-size="7.62" text-anchor="middle" fill="#4d4d4d" stroke="#4d4d4d" stroke-width="0.22" transform="translate(651.9 466.65) scale(1 1.07)">5</text>
<text font-size="7.62" text-anchor="middle" fill="#4d4d4d" stroke="#4d4d4d" stroke-width="0.22" transform="translate(681.3 466.65) scale(1 1.07)">10</text>
<text font-size="9.27" text-anchor="middle" fill="#000" stroke="#000" stroke-width="0.22" transform="translate(617.8 476.15) scale(1 1.07)">IGE</text>
<text font-size="9.27" text-anchor="middle" fill="#000" stroke="#000" stroke-width="0.22" transform="translate(532.75 354.8) rotate(-90) scale(1 1.07)">DGE</text>
<text font-size="10.5" font-weight="bold" fill="#000" x="518.2" y="251.85">E</text></svg>
</body></html>
